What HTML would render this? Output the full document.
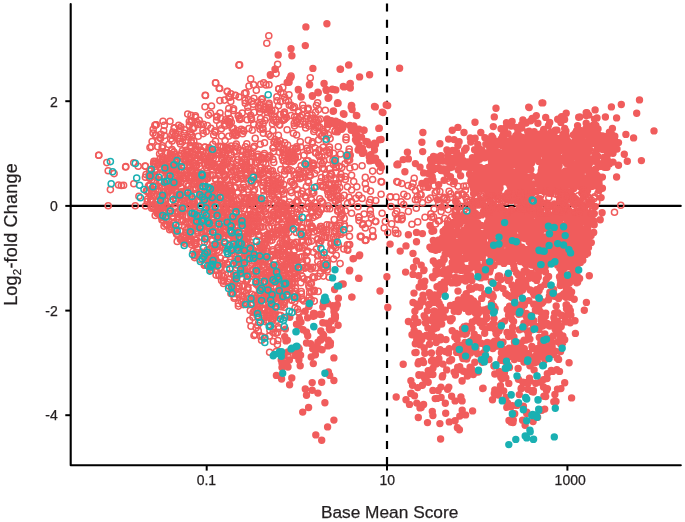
<!DOCTYPE html>
<html><head><meta charset="utf-8"><style>
html,body{margin:0;padding:0;background:#fff;width:685px;height:522px;overflow:hidden}
svg{display:block;will-change:transform}
text{font-family:"Liberation Sans",sans-serif;fill:#231f20;stroke:#231f20;stroke-width:0.25px}
</style></head><body>
<svg width="685" height="522" viewBox="0 0 685 522">
<!-- zero line -->
<line x1="70.7" y1="205.9" x2="680.7" y2="205.9" stroke="#000" stroke-width="2.2" stroke-linecap="round"/>
<!-- dashed vline -->
<line x1="387" y1="3.5" x2="387" y2="465" stroke="#000" stroke-width="2.2" stroke-dasharray="8 8.2"/>

<g fill="none" stroke="#f05c5c" stroke-width="1.5"><circle cx="148.5" cy="185.7" r="3.05"/><circle cx="269.1" cy="219.3" r="3.05"/><circle cx="339.8" cy="178.7" r="3.05"/><circle cx="191.8" cy="135.3" r="3.05"/><circle cx="178.2" cy="211.7" r="3.05"/><circle cx="277.7" cy="247.6" r="3.05"/><circle cx="311.8" cy="226" r="3.05"/><circle cx="281.1" cy="305.1" r="3.05"/><circle cx="317.7" cy="206.6" r="3.05"/><circle cx="173.4" cy="223.6" r="3.05"/><circle cx="296.2" cy="202.2" r="3.05"/><circle cx="302.6" cy="264.9" r="3.05"/><circle cx="284" cy="154.7" r="3.05"/><circle cx="313.4" cy="252.3" r="3.05"/><circle cx="164.7" cy="212.1" r="3.05"/><circle cx="298.1" cy="312" r="3.05"/><circle cx="165.9" cy="204.8" r="3.05"/><circle cx="176.2" cy="172.3" r="3.05"/><circle cx="296.8" cy="225.4" r="3.05"/><circle cx="256.2" cy="311.9" r="3.05"/><circle cx="159.9" cy="137.6" r="3.05"/><circle cx="218.9" cy="235.3" r="3.05"/><circle cx="170.7" cy="186.2" r="3.05"/><circle cx="284.1" cy="199.1" r="3.05"/><circle cx="208" cy="196.4" r="3.05"/><circle cx="327" cy="208.6" r="3.05"/><circle cx="338.9" cy="225.3" r="3.05"/><circle cx="278.8" cy="89.1" r="3.05"/><circle cx="344.2" cy="195.4" r="3.05"/><circle cx="219.9" cy="100.6" r="3.05"/><circle cx="320.9" cy="240.8" r="3.05"/><circle cx="270.4" cy="274.5" r="3.05"/><circle cx="245.1" cy="273.5" r="3.05"/><circle cx="145.4" cy="177.3" r="3.05"/><circle cx="305.1" cy="268.1" r="3.05"/><circle cx="296.6" cy="135" r="3.05"/><circle cx="219.2" cy="173.1" r="3.05"/><circle cx="284.8" cy="142.9" r="3.05"/><circle cx="251.1" cy="117.7" r="3.05"/><circle cx="291.8" cy="170.7" r="3.05"/><circle cx="222.1" cy="201.5" r="3.05"/><circle cx="299.6" cy="178.8" r="3.05"/><circle cx="248.2" cy="111.2" r="3.05"/><circle cx="264.7" cy="236.1" r="3.05"/><circle cx="206.4" cy="213.5" r="3.05"/><circle cx="230" cy="279.1" r="3.05"/><circle cx="288.5" cy="295.1" r="3.05"/><circle cx="249" cy="86.1" r="3.05"/><circle cx="268.5" cy="238.3" r="3.05"/><circle cx="284.4" cy="307.3" r="3.05"/><circle cx="285.4" cy="237.6" r="3.05"/><circle cx="176" cy="195.8" r="3.05"/><circle cx="364.1" cy="214" r="3.05"/><circle cx="274.7" cy="259.5" r="3.05"/><circle cx="217.9" cy="152.7" r="3.05"/><circle cx="171.9" cy="134.9" r="3.05"/><circle cx="278.2" cy="195.1" r="3.05"/><circle cx="277.9" cy="340.5" r="3.05"/><circle cx="266.4" cy="272.7" r="3.05"/><circle cx="300.1" cy="247" r="3.05"/><circle cx="220.3" cy="208.5" r="3.05"/><circle cx="318.2" cy="291.4" r="3.05"/><circle cx="163.2" cy="191.7" r="3.05"/><circle cx="231" cy="201.3" r="3.05"/><circle cx="156.9" cy="172" r="3.05"/><circle cx="269" cy="84.7" r="3.05"/><circle cx="268.7" cy="104.8" r="3.05"/><circle cx="316.5" cy="249.1" r="3.05"/><circle cx="198.2" cy="154.2" r="3.05"/><circle cx="235" cy="217.7" r="3.05"/><circle cx="348.5" cy="159.5" r="3.05"/><circle cx="327.3" cy="263.4" r="3.05"/><circle cx="251.5" cy="154.1" r="3.05"/><circle cx="349.1" cy="151.8" r="3.05"/><circle cx="311.1" cy="299.7" r="3.05"/><circle cx="161.5" cy="152.1" r="3.05"/><circle cx="270.9" cy="171.3" r="3.05"/><circle cx="287.1" cy="129.8" r="3.05"/><circle cx="325.6" cy="182.7" r="3.05"/><circle cx="247.5" cy="259.5" r="3.05"/><circle cx="266" cy="84.9" r="3.05"/><circle cx="258.9" cy="125.7" r="3.05"/><circle cx="214.3" cy="165.9" r="3.05"/><circle cx="320.4" cy="226.6" r="3.05"/><circle cx="287.5" cy="170.6" r="3.05"/><circle cx="313.6" cy="163.7" r="3.05"/><circle cx="252.9" cy="317.3" r="3.05"/><circle cx="273.1" cy="332.4" r="3.05"/><circle cx="250.3" cy="197" r="3.05"/><circle cx="217.4" cy="198" r="3.05"/><circle cx="264.4" cy="153.5" r="3.05"/><circle cx="302.7" cy="105.1" r="3.05"/><circle cx="334.2" cy="219.6" r="3.05"/><circle cx="277.5" cy="332.4" r="3.05"/><circle cx="209.6" cy="233.7" r="3.05"/><circle cx="273.7" cy="120.4" r="3.05"/><circle cx="324.6" cy="133.3" r="3.05"/><circle cx="272.9" cy="130.4" r="3.05"/><circle cx="201.6" cy="154.8" r="3.05"/><circle cx="246.2" cy="267.5" r="3.05"/><circle cx="284.2" cy="250.5" r="3.05"/><circle cx="257.6" cy="102.4" r="3.05"/><circle cx="307.8" cy="192.4" r="3.05"/><circle cx="346" cy="139.8" r="3.05"/><circle cx="337.1" cy="196" r="3.05"/><circle cx="145.1" cy="166.1" r="3.05"/><circle cx="340.1" cy="223" r="3.05"/><circle cx="229" cy="122" r="3.05"/><circle cx="295.1" cy="219.1" r="3.05"/><circle cx="381.7" cy="182" r="3.05"/><circle cx="227.4" cy="120.9" r="3.05"/><circle cx="278.8" cy="196.9" r="3.05"/><circle cx="334.1" cy="231.8" r="3.05"/><circle cx="165.6" cy="199.8" r="3.05"/><circle cx="289.3" cy="283.8" r="3.05"/><circle cx="215.5" cy="141.3" r="3.05"/><circle cx="248.9" cy="233.6" r="3.05"/><circle cx="233.8" cy="243.9" r="3.05"/><circle cx="326.2" cy="141.2" r="3.05"/><circle cx="246.8" cy="143.7" r="3.05"/><circle cx="228.7" cy="136.2" r="3.05"/><circle cx="246.5" cy="169.1" r="3.05"/><circle cx="206.5" cy="152.2" r="3.05"/><circle cx="246" cy="92.9" r="3.05"/><circle cx="232.1" cy="128.4" r="3.05"/><circle cx="280" cy="285.3" r="3.05"/><circle cx="217.7" cy="187.6" r="3.05"/><circle cx="335.3" cy="130.5" r="3.05"/><circle cx="185.6" cy="158.8" r="3.05"/><circle cx="192.7" cy="202.3" r="3.05"/><circle cx="282.1" cy="208.9" r="3.05"/><circle cx="261.5" cy="99.2" r="3.05"/><circle cx="307.1" cy="236.5" r="3.05"/><circle cx="249.9" cy="217.7" r="3.05"/><circle cx="241.8" cy="157" r="3.05"/><circle cx="207.5" cy="206" r="3.05"/><circle cx="212.4" cy="175.1" r="3.05"/><circle cx="329.3" cy="152.2" r="3.05"/><circle cx="162.5" cy="156.5" r="3.05"/><circle cx="330.9" cy="244.1" r="3.05"/><circle cx="159.9" cy="180.4" r="3.05"/><circle cx="322.9" cy="267.2" r="3.05"/><circle cx="209.5" cy="207.7" r="3.05"/><circle cx="253.3" cy="214.8" r="3.05"/><circle cx="168.8" cy="144.4" r="3.05"/><circle cx="245.1" cy="100.4" r="3.05"/><circle cx="334.6" cy="242.4" r="3.05"/><circle cx="349.9" cy="168" r="3.05"/><circle cx="304" cy="155.3" r="3.05"/><circle cx="171.7" cy="168.4" r="3.05"/><circle cx="229.8" cy="97.3" r="3.05"/><circle cx="268.3" cy="168.8" r="3.05"/><circle cx="284" cy="281.1" r="3.05"/><circle cx="161.3" cy="209.5" r="3.05"/><circle cx="254" cy="335.5" r="3.05"/><circle cx="159.6" cy="153.8" r="3.05"/><circle cx="211.1" cy="196" r="3.05"/><circle cx="279.2" cy="315.3" r="3.05"/><circle cx="275.1" cy="139.5" r="3.05"/><circle cx="199.7" cy="166.6" r="3.05"/><circle cx="331.3" cy="225.9" r="3.05"/><circle cx="343.8" cy="249" r="3.05"/><circle cx="249.7" cy="320.3" r="3.05"/><circle cx="319.5" cy="133.5" r="3.05"/><circle cx="197.6" cy="232.4" r="3.05"/><circle cx="313.8" cy="166" r="3.05"/><circle cx="250.6" cy="168.2" r="3.05"/><circle cx="324" cy="168.9" r="3.05"/><circle cx="202.5" cy="253.6" r="3.05"/><circle cx="271.9" cy="190.8" r="3.05"/><circle cx="253.3" cy="191.3" r="3.05"/><circle cx="308.3" cy="166" r="3.05"/><circle cx="231.4" cy="171.7" r="3.05"/><circle cx="280.9" cy="179.6" r="3.05"/><circle cx="239" cy="198.8" r="3.05"/><circle cx="323.4" cy="268.8" r="3.05"/><circle cx="284.8" cy="301.7" r="3.05"/><circle cx="219.5" cy="164.3" r="3.05"/><circle cx="254.7" cy="311.1" r="3.05"/><circle cx="310.4" cy="167.8" r="3.05"/><circle cx="253.1" cy="227.8" r="3.05"/><circle cx="164.3" cy="206.6" r="3.05"/><circle cx="247.8" cy="189.5" r="3.05"/><circle cx="186.2" cy="237.1" r="3.05"/><circle cx="157.7" cy="210.9" r="3.05"/><circle cx="226" cy="229.2" r="3.05"/><circle cx="335.3" cy="163.3" r="3.05"/><circle cx="157.8" cy="146.7" r="3.05"/><circle cx="249.6" cy="297.7" r="3.05"/><circle cx="268.8" cy="270.8" r="3.05"/><circle cx="294.5" cy="158.9" r="3.05"/><circle cx="262.2" cy="128.1" r="3.05"/><circle cx="220.7" cy="201.3" r="3.05"/><circle cx="314.8" cy="129.5" r="3.05"/><circle cx="320" cy="229.7" r="3.05"/><circle cx="259.7" cy="111.9" r="3.05"/><circle cx="327.3" cy="269.9" r="3.05"/><circle cx="263.9" cy="221.8" r="3.05"/><circle cx="292" cy="182.4" r="3.05"/><circle cx="236.7" cy="265" r="3.05"/><circle cx="209.6" cy="265.8" r="3.05"/><circle cx="306.7" cy="260.5" r="3.05"/><circle cx="200.5" cy="173.3" r="3.05"/><circle cx="185.9" cy="190.2" r="3.05"/><circle cx="253.7" cy="298" r="3.05"/><circle cx="309.3" cy="222.7" r="3.05"/><circle cx="294.9" cy="273.8" r="3.05"/><circle cx="278.6" cy="146.7" r="3.05"/><circle cx="278.4" cy="135.2" r="3.05"/><circle cx="242.1" cy="243.7" r="3.05"/><circle cx="235" cy="213.4" r="3.05"/><circle cx="191.4" cy="142.8" r="3.05"/><circle cx="264.5" cy="142.8" r="3.05"/><circle cx="216.6" cy="120.2" r="3.05"/><circle cx="371.4" cy="217.9" r="3.05"/><circle cx="181.3" cy="162.5" r="3.05"/><circle cx="278.7" cy="328.7" r="3.05"/><circle cx="261.5" cy="199.9" r="3.05"/><circle cx="255.1" cy="334.5" r="3.05"/><circle cx="257.9" cy="267.6" r="3.05"/><circle cx="230.9" cy="93.9" r="3.05"/><circle cx="283" cy="273.6" r="3.05"/><circle cx="163" cy="207" r="3.05"/><circle cx="326.6" cy="150.6" r="3.05"/><circle cx="308.7" cy="206.9" r="3.05"/><circle cx="289" cy="94.7" r="3.05"/><circle cx="208.8" cy="150.7" r="3.05"/><circle cx="333.6" cy="164.8" r="3.05"/><circle cx="318.5" cy="255.4" r="3.05"/><circle cx="333.5" cy="153.2" r="3.05"/><circle cx="283.2" cy="160.7" r="3.05"/><circle cx="198.7" cy="224.1" r="3.05"/><circle cx="263" cy="172.4" r="3.05"/><circle cx="162.2" cy="147.7" r="3.05"/><circle cx="180.5" cy="231.3" r="3.05"/><circle cx="238.2" cy="225.9" r="3.05"/><circle cx="229.2" cy="262.3" r="3.05"/><circle cx="309.3" cy="287.8" r="3.05"/><circle cx="222" cy="170.1" r="3.05"/><circle cx="212.8" cy="144.2" r="3.05"/><circle cx="243.2" cy="228.8" r="3.05"/><circle cx="294.9" cy="291.3" r="3.05"/><circle cx="170.7" cy="161.7" r="3.05"/><circle cx="209.7" cy="188" r="3.05"/><circle cx="208.6" cy="258.4" r="3.05"/><circle cx="321" cy="209.1" r="3.05"/><circle cx="313.7" cy="122" r="3.05"/><circle cx="153.9" cy="161.4" r="3.05"/><circle cx="157.6" cy="195.1" r="3.05"/><circle cx="273.2" cy="204.7" r="3.05"/><circle cx="257.7" cy="325.4" r="3.05"/><circle cx="163.7" cy="130.7" r="3.05"/><circle cx="217.5" cy="212.2" r="3.05"/><circle cx="301.6" cy="236.1" r="3.05"/><circle cx="312.4" cy="193.4" r="3.05"/><circle cx="224.4" cy="124.2" r="3.05"/><circle cx="169.1" cy="213.3" r="3.05"/><circle cx="307.3" cy="280.3" r="3.05"/><circle cx="253.6" cy="260.3" r="3.05"/><circle cx="269.2" cy="173.7" r="3.05"/><circle cx="262.8" cy="185.9" r="3.05"/><circle cx="302.1" cy="276.4" r="3.05"/><circle cx="175" cy="203.8" r="3.05"/><circle cx="160.6" cy="138.5" r="3.05"/><circle cx="301.4" cy="193.9" r="3.05"/><circle cx="243.7" cy="258.8" r="3.05"/><circle cx="191.2" cy="218.2" r="3.05"/><circle cx="150.7" cy="199.2" r="3.05"/><circle cx="235.1" cy="255.6" r="3.05"/><circle cx="209.7" cy="157.1" r="3.05"/><circle cx="286.5" cy="117.5" r="3.05"/><circle cx="347.7" cy="160.7" r="3.05"/><circle cx="328.4" cy="134.9" r="3.05"/><circle cx="235.7" cy="234.7" r="3.05"/><circle cx="259.9" cy="105.3" r="3.05"/><circle cx="268.4" cy="134.3" r="3.05"/><circle cx="276.9" cy="96.9" r="3.05"/><circle cx="190.4" cy="131.7" r="3.05"/><circle cx="221.9" cy="171.6" r="3.05"/><circle cx="286.4" cy="285.5" r="3.05"/><circle cx="310.9" cy="226.2" r="3.05"/><circle cx="242.4" cy="278.8" r="3.05"/><circle cx="179.6" cy="138.5" r="3.05"/><circle cx="314.3" cy="301.1" r="3.05"/><circle cx="312.9" cy="217.5" r="3.05"/><circle cx="228.8" cy="97.2" r="3.05"/><circle cx="338.2" cy="183.6" r="3.05"/><circle cx="217" cy="262.2" r="3.05"/><circle cx="217" cy="246.4" r="3.05"/><circle cx="308" cy="169.7" r="3.05"/><circle cx="315.6" cy="152.9" r="3.05"/><circle cx="297.9" cy="277.5" r="3.05"/><circle cx="273.3" cy="328.8" r="3.05"/><circle cx="302.4" cy="177.2" r="3.05"/><circle cx="180.9" cy="214.1" r="3.05"/><circle cx="246" cy="175.1" r="3.05"/><circle cx="223.3" cy="247.8" r="3.05"/><circle cx="197.3" cy="222.9" r="3.05"/><circle cx="276.3" cy="351.6" r="3.05"/><circle cx="206.9" cy="197.1" r="3.05"/><circle cx="172.3" cy="195.6" r="3.05"/><circle cx="316" cy="152.8" r="3.05"/><circle cx="281.7" cy="295.6" r="3.05"/><circle cx="297.5" cy="297.1" r="3.05"/><circle cx="256.9" cy="259.6" r="3.05"/><circle cx="184.8" cy="238.8" r="3.05"/><circle cx="204.3" cy="183.5" r="3.05"/><circle cx="286.1" cy="263.9" r="3.05"/><circle cx="193.8" cy="141.2" r="3.05"/><circle cx="345.1" cy="176.5" r="3.05"/><circle cx="189.9" cy="158.6" r="3.05"/><circle cx="338.3" cy="146.7" r="3.05"/><circle cx="235.2" cy="133.2" r="3.05"/><circle cx="258.4" cy="179.7" r="3.05"/><circle cx="209.8" cy="166.7" r="3.05"/><circle cx="270.3" cy="221" r="3.05"/><circle cx="273" cy="148.1" r="3.05"/><circle cx="349.6" cy="160.1" r="3.05"/><circle cx="191.3" cy="156.8" r="3.05"/><circle cx="276.1" cy="185" r="3.05"/><circle cx="309.6" cy="303.1" r="3.05"/><circle cx="283.2" cy="189.4" r="3.05"/><circle cx="197.9" cy="200.4" r="3.05"/><circle cx="185.2" cy="162" r="3.05"/><circle cx="359" cy="220.6" r="3.05"/><circle cx="214.9" cy="130.9" r="3.05"/><circle cx="203.3" cy="182.5" r="3.05"/><circle cx="261.6" cy="340.2" r="3.05"/><circle cx="197.5" cy="231" r="3.05"/><circle cx="238.4" cy="306.1" r="3.05"/><circle cx="291" cy="220.6" r="3.05"/><circle cx="176.8" cy="168.4" r="3.05"/><circle cx="311.5" cy="205.7" r="3.05"/><circle cx="184.1" cy="166.1" r="3.05"/><circle cx="263.7" cy="82.8" r="3.05"/><circle cx="286.6" cy="240.8" r="3.05"/><circle cx="238.7" cy="115.7" r="3.05"/><circle cx="252.9" cy="249.9" r="3.05"/><circle cx="277" cy="280.4" r="3.05"/><circle cx="223.8" cy="226.2" r="3.05"/><circle cx="323.4" cy="276.1" r="3.05"/><circle cx="294.2" cy="155" r="3.05"/><circle cx="280.8" cy="315.6" r="3.05"/><circle cx="262.2" cy="336.7" r="3.05"/><circle cx="300.9" cy="282.7" r="3.05"/><circle cx="266.2" cy="256.1" r="3.05"/><circle cx="262.5" cy="98.8" r="3.05"/><circle cx="309.1" cy="217.6" r="3.05"/><circle cx="313" cy="276.8" r="3.05"/><circle cx="237.5" cy="289.1" r="3.05"/><circle cx="267.4" cy="214.4" r="3.05"/><circle cx="219.7" cy="124.9" r="3.05"/><circle cx="228.3" cy="189.9" r="3.05"/><circle cx="269.5" cy="107.3" r="3.05"/><circle cx="276.9" cy="276.4" r="3.05"/><circle cx="208.1" cy="256.4" r="3.05"/><circle cx="244.4" cy="158.7" r="3.05"/><circle cx="274.9" cy="311.8" r="3.05"/><circle cx="284.5" cy="112.4" r="3.05"/><circle cx="205.9" cy="239.2" r="3.05"/><circle cx="224.6" cy="232.9" r="3.05"/><circle cx="181.4" cy="239.4" r="3.05"/><circle cx="186.4" cy="170.3" r="3.05"/><circle cx="272.4" cy="254.6" r="3.05"/><circle cx="225.6" cy="199.1" r="3.05"/><circle cx="234.9" cy="276.1" r="3.05"/><circle cx="300.2" cy="123.9" r="3.05"/><circle cx="302.1" cy="115" r="3.05"/><circle cx="239" cy="97" r="3.05"/><circle cx="201.8" cy="227.9" r="3.05"/><circle cx="314.4" cy="290.2" r="3.05"/><circle cx="172.9" cy="132.1" r="3.05"/><circle cx="174.5" cy="213.1" r="3.05"/><circle cx="290.8" cy="152.1" r="3.05"/><circle cx="332.8" cy="188.5" r="3.05"/><circle cx="332.9" cy="160" r="3.05"/><circle cx="246" cy="253.7" r="3.05"/><circle cx="211.5" cy="106" r="3.05"/><circle cx="260.3" cy="335.9" r="3.05"/><circle cx="358.9" cy="216.9" r="3.05"/><circle cx="243.3" cy="193" r="3.05"/><circle cx="179.5" cy="141.5" r="3.05"/><circle cx="281" cy="290.1" r="3.05"/><circle cx="285.7" cy="100.6" r="3.05"/><circle cx="255.2" cy="138.4" r="3.05"/><circle cx="209.8" cy="148.6" r="3.05"/><circle cx="151.2" cy="196.2" r="3.05"/><circle cx="270.6" cy="136.4" r="3.05"/><circle cx="239" cy="285.9" r="3.05"/><circle cx="330.5" cy="193.3" r="3.05"/><circle cx="265.9" cy="213.8" r="3.05"/><circle cx="228.7" cy="238.9" r="3.05"/><circle cx="282.4" cy="269.6" r="3.05"/><circle cx="227.6" cy="160.1" r="3.05"/><circle cx="213.4" cy="219.8" r="3.05"/><circle cx="233.1" cy="285.4" r="3.05"/><circle cx="188.4" cy="173.4" r="3.05"/><circle cx="321.1" cy="254.8" r="3.05"/><circle cx="184.3" cy="133.4" r="3.05"/><circle cx="319.7" cy="243.9" r="3.05"/><circle cx="349.2" cy="149.1" r="3.05"/><circle cx="286.7" cy="239.6" r="3.05"/><circle cx="262.7" cy="247.4" r="3.05"/><circle cx="256.1" cy="327.7" r="3.05"/><circle cx="330.1" cy="138.6" r="3.05"/><circle cx="299.2" cy="172.9" r="3.05"/><circle cx="213.7" cy="134.9" r="3.05"/><circle cx="229.4" cy="124.9" r="3.05"/><circle cx="258.3" cy="330.9" r="3.05"/><circle cx="319.8" cy="229.3" r="3.05"/><circle cx="191.3" cy="141.1" r="3.05"/><circle cx="272.1" cy="233.8" r="3.05"/><circle cx="248.8" cy="220.8" r="3.05"/><circle cx="248.9" cy="128.5" r="3.05"/><circle cx="248" cy="238.8" r="3.05"/><circle cx="240.1" cy="244.2" r="3.05"/><circle cx="246.5" cy="242.3" r="3.05"/><circle cx="229.3" cy="191.3" r="3.05"/><circle cx="294.8" cy="301.4" r="3.05"/><circle cx="300.3" cy="141.8" r="3.05"/><circle cx="298.9" cy="248.2" r="3.05"/><circle cx="274.8" cy="186.1" r="3.05"/><circle cx="265.6" cy="278.1" r="3.05"/><circle cx="180.2" cy="215" r="3.05"/><circle cx="172.4" cy="216.2" r="3.05"/><circle cx="296.8" cy="148.3" r="3.05"/><circle cx="179.2" cy="169.3" r="3.05"/><circle cx="313.4" cy="124.4" r="3.05"/><circle cx="349.5" cy="228.5" r="3.05"/><circle cx="269.4" cy="335.9" r="3.05"/><circle cx="204.9" cy="147.1" r="3.05"/><circle cx="338.5" cy="196.2" r="3.05"/><circle cx="218.3" cy="226.4" r="3.05"/><circle cx="333.6" cy="259" r="3.05"/><circle cx="303.1" cy="240.9" r="3.05"/><circle cx="273.3" cy="341.5" r="3.05"/><circle cx="345" cy="163.7" r="3.05"/><circle cx="302.2" cy="247.9" r="3.05"/><circle cx="177.7" cy="166.2" r="3.05"/><circle cx="263.8" cy="195.5" r="3.05"/><circle cx="313.8" cy="192.7" r="3.05"/><circle cx="210.8" cy="128.2" r="3.05"/><circle cx="284.7" cy="97.3" r="3.05"/><circle cx="293.5" cy="258.1" r="3.05"/><circle cx="216.8" cy="116.2" r="3.05"/><circle cx="208" cy="193.5" r="3.05"/><circle cx="312.3" cy="143.2" r="3.05"/><circle cx="191.5" cy="240.1" r="3.05"/><circle cx="340.5" cy="154" r="3.05"/><circle cx="304" cy="278.8" r="3.05"/><circle cx="286.5" cy="149.7" r="3.05"/><circle cx="297.5" cy="151.5" r="3.05"/><circle cx="297.2" cy="200.6" r="3.05"/><circle cx="308.4" cy="279.8" r="3.05"/><circle cx="222" cy="222.2" r="3.05"/><circle cx="329.5" cy="147.1" r="3.05"/><circle cx="221.4" cy="128.7" r="3.05"/><circle cx="275.2" cy="216.1" r="3.05"/><circle cx="280.1" cy="279.4" r="3.05"/><circle cx="223.5" cy="212.3" r="3.05"/><circle cx="225" cy="175.1" r="3.05"/><circle cx="173.9" cy="168.7" r="3.05"/><circle cx="329.6" cy="176.2" r="3.05"/><circle cx="286.2" cy="230.2" r="3.05"/><circle cx="172.1" cy="140.9" r="3.05"/><circle cx="258.3" cy="236.4" r="3.05"/><circle cx="186.4" cy="229.6" r="3.05"/><circle cx="340.1" cy="263.6" r="3.05"/><circle cx="323.1" cy="147.4" r="3.05"/><circle cx="243.6" cy="150.9" r="3.05"/><circle cx="293.4" cy="133.3" r="3.05"/><circle cx="276.8" cy="320.3" r="3.05"/><circle cx="326.9" cy="224.7" r="3.05"/><circle cx="291" cy="154.8" r="3.05"/><circle cx="253.4" cy="147.7" r="3.05"/><circle cx="259.4" cy="208.7" r="3.05"/><circle cx="284" cy="149.9" r="3.05"/><circle cx="344.3" cy="224.3" r="3.05"/><circle cx="148.9" cy="193.1" r="3.05"/><circle cx="324" cy="254.9" r="3.05"/><circle cx="342.2" cy="213.9" r="3.05"/><circle cx="335.5" cy="161.9" r="3.05"/><circle cx="236.3" cy="144" r="3.05"/><circle cx="257.4" cy="257.9" r="3.05"/><circle cx="252.6" cy="249.9" r="3.05"/><circle cx="229.1" cy="148" r="3.05"/><circle cx="266" cy="321.8" r="3.05"/><circle cx="349.1" cy="197.3" r="3.05"/><circle cx="243.3" cy="304.6" r="3.05"/><circle cx="294.4" cy="106.9" r="3.05"/><circle cx="271.3" cy="113.4" r="3.05"/><circle cx="160.3" cy="181.7" r="3.05"/><circle cx="267.3" cy="234.6" r="3.05"/><circle cx="281" cy="286.7" r="3.05"/><circle cx="265.6" cy="106.8" r="3.05"/><circle cx="146" cy="174.5" r="3.05"/><circle cx="257.8" cy="274.3" r="3.05"/><circle cx="297" cy="297.9" r="3.05"/><circle cx="155.1" cy="169.2" r="3.05"/><circle cx="209.4" cy="189.5" r="3.05"/><circle cx="347.5" cy="203.6" r="3.05"/><circle cx="272.1" cy="282.9" r="3.05"/><circle cx="176" cy="191.3" r="3.05"/><circle cx="283.1" cy="233.3" r="3.05"/><circle cx="226" cy="191.7" r="3.05"/><circle cx="276.2" cy="122.2" r="3.05"/><circle cx="232.7" cy="134.6" r="3.05"/><circle cx="229.3" cy="286.3" r="3.05"/><circle cx="267.9" cy="310.7" r="3.05"/><circle cx="215.2" cy="235.9" r="3.05"/><circle cx="292" cy="300.1" r="3.05"/><circle cx="222.8" cy="195.7" r="3.05"/><circle cx="276.3" cy="199.6" r="3.05"/><circle cx="238.1" cy="192.2" r="3.05"/><circle cx="294.4" cy="218.9" r="3.05"/><circle cx="282.4" cy="270.2" r="3.05"/><circle cx="250.9" cy="153.1" r="3.05"/><circle cx="296.2" cy="120.2" r="3.05"/><circle cx="267.2" cy="276.8" r="3.05"/><circle cx="286.6" cy="238.4" r="3.05"/><circle cx="269.5" cy="309.8" r="3.05"/><circle cx="207" cy="171.2" r="3.05"/><circle cx="154.4" cy="186.3" r="3.05"/><circle cx="322.8" cy="202.7" r="3.05"/><circle cx="248" cy="232.2" r="3.05"/><circle cx="247.8" cy="289.9" r="3.05"/><circle cx="244.2" cy="187.6" r="3.05"/><circle cx="294.5" cy="125.8" r="3.05"/><circle cx="316.7" cy="186.5" r="3.05"/><circle cx="220.1" cy="184.4" r="3.05"/><circle cx="205" cy="147.2" r="3.05"/><circle cx="317.7" cy="239.5" r="3.05"/><circle cx="236.5" cy="213" r="3.05"/><circle cx="341.4" cy="215.5" r="3.05"/><circle cx="254.2" cy="207.1" r="3.05"/><circle cx="223.5" cy="191.9" r="3.05"/><circle cx="275.8" cy="333.3" r="3.05"/><circle cx="336.7" cy="226.1" r="3.05"/><circle cx="307.8" cy="251.1" r="3.05"/><circle cx="269.7" cy="233.6" r="3.05"/><circle cx="219" cy="275.8" r="3.05"/><circle cx="206.9" cy="202.8" r="3.05"/><circle cx="224.5" cy="100.1" r="3.05"/><circle cx="195.8" cy="240.4" r="3.05"/><circle cx="188.4" cy="239.9" r="3.05"/><circle cx="271.7" cy="234.7" r="3.05"/><circle cx="248.6" cy="99.8" r="3.05"/><circle cx="213.5" cy="175.4" r="3.05"/><circle cx="212" cy="246.4" r="3.05"/><circle cx="259.1" cy="209.2" r="3.05"/><circle cx="308" cy="180.7" r="3.05"/><circle cx="280.7" cy="101.6" r="3.05"/><circle cx="211.4" cy="255.7" r="3.05"/><circle cx="160.3" cy="213" r="3.05"/><circle cx="180.4" cy="144" r="3.05"/><circle cx="333.3" cy="237.1" r="3.05"/><circle cx="269.1" cy="321.4" r="3.05"/><circle cx="278.1" cy="327" r="3.05"/><circle cx="162.4" cy="145.9" r="3.05"/><circle cx="318.2" cy="214.7" r="3.05"/><circle cx="254.4" cy="146.3" r="3.05"/><circle cx="372.6" cy="230.6" r="3.05"/><circle cx="175.2" cy="154.5" r="3.05"/><circle cx="292.5" cy="158.2" r="3.05"/><circle cx="151.6" cy="201" r="3.05"/><circle cx="326.6" cy="229.9" r="3.05"/><circle cx="246.4" cy="198" r="3.05"/><circle cx="217.2" cy="184.4" r="3.05"/><circle cx="370.3" cy="210.3" r="3.05"/><circle cx="279.7" cy="294.6" r="3.05"/><circle cx="335.8" cy="231" r="3.05"/><circle cx="266.7" cy="118" r="3.05"/><circle cx="198.4" cy="146.2" r="3.05"/><circle cx="225.1" cy="140.6" r="3.05"/><circle cx="305.8" cy="197.6" r="3.05"/><circle cx="323.8" cy="160.9" r="3.05"/><circle cx="369.4" cy="202.5" r="3.05"/><circle cx="254" cy="98.3" r="3.05"/><circle cx="341.8" cy="167.4" r="3.05"/><circle cx="220.5" cy="168.8" r="3.05"/><circle cx="269.9" cy="330.5" r="3.05"/><circle cx="275.8" cy="234.1" r="3.05"/><circle cx="320.4" cy="264.2" r="3.05"/><circle cx="276.4" cy="143.7" r="3.05"/><circle cx="195" cy="175.1" r="3.05"/><circle cx="236.6" cy="134.7" r="3.05"/><circle cx="297" cy="298.2" r="3.05"/><circle cx="239.3" cy="220.6" r="3.05"/><circle cx="272.3" cy="319" r="3.05"/><circle cx="250.7" cy="115.3" r="3.05"/><circle cx="235.8" cy="135.8" r="3.05"/><circle cx="236.6" cy="177.6" r="3.05"/><circle cx="146.4" cy="190.7" r="3.05"/><circle cx="316.7" cy="230.8" r="3.05"/><circle cx="269.6" cy="352.3" r="3.05"/><circle cx="174.6" cy="128.1" r="3.05"/><circle cx="299.2" cy="312.8" r="3.05"/><circle cx="264.9" cy="337.5" r="3.05"/><circle cx="293" cy="148.6" r="3.05"/><circle cx="296.1" cy="242.2" r="3.05"/><circle cx="314" cy="207.4" r="3.05"/><circle cx="228.6" cy="226" r="3.05"/><circle cx="175.7" cy="224.9" r="3.05"/><circle cx="298.8" cy="170.1" r="3.05"/><circle cx="313.2" cy="165.3" r="3.05"/><circle cx="280.3" cy="293.2" r="3.05"/><circle cx="273.8" cy="212.5" r="3.05"/><circle cx="335" cy="131.5" r="3.05"/><circle cx="186.3" cy="184.4" r="3.05"/><circle cx="288.2" cy="252.4" r="3.05"/><circle cx="273.9" cy="116.7" r="3.05"/><circle cx="268" cy="297.6" r="3.05"/><circle cx="251" cy="326.2" r="3.05"/><circle cx="233.6" cy="200.3" r="3.05"/><circle cx="195.1" cy="149.9" r="3.05"/><circle cx="260.3" cy="144.2" r="3.05"/><circle cx="188.8" cy="185.7" r="3.05"/><circle cx="301.1" cy="165.9" r="3.05"/><circle cx="260.7" cy="84.2" r="3.05"/><circle cx="309.6" cy="149.9" r="3.05"/><circle cx="340" cy="232.5" r="3.05"/><circle cx="312.6" cy="267.3" r="3.05"/><circle cx="263.3" cy="133.3" r="3.05"/><circle cx="307" cy="148.2" r="3.05"/><circle cx="305.2" cy="196" r="3.05"/><circle cx="300.3" cy="209.9" r="3.05"/><circle cx="183.2" cy="198.4" r="3.05"/><circle cx="258.7" cy="322.5" r="3.05"/><circle cx="309.1" cy="300.6" r="3.05"/><circle cx="283.2" cy="152.7" r="3.05"/><circle cx="230.8" cy="101.5" r="3.05"/><circle cx="339.7" cy="187.4" r="3.05"/><circle cx="239.2" cy="255.3" r="3.05"/><circle cx="273.8" cy="315" r="3.05"/><circle cx="283.7" cy="119.2" r="3.05"/><circle cx="308.8" cy="285.4" r="3.05"/><circle cx="281.2" cy="209.6" r="3.05"/><circle cx="197.8" cy="175.6" r="3.05"/><circle cx="280.9" cy="92.5" r="3.05"/><circle cx="256.6" cy="246.7" r="3.05"/><circle cx="238.3" cy="246.1" r="3.05"/><circle cx="329.2" cy="277.3" r="3.05"/><circle cx="174.7" cy="187.2" r="3.05"/><circle cx="327.4" cy="266.5" r="3.05"/><circle cx="173.6" cy="170.1" r="3.05"/><circle cx="346.1" cy="137.2" r="3.05"/><circle cx="219.8" cy="245.5" r="3.05"/><circle cx="212.2" cy="267.5" r="3.05"/><circle cx="192.5" cy="128.4" r="3.05"/><circle cx="251.4" cy="282.1" r="3.05"/><circle cx="177.2" cy="194.7" r="3.05"/><circle cx="249.6" cy="210" r="3.05"/><circle cx="257.7" cy="274" r="3.05"/><circle cx="251.3" cy="252.1" r="3.05"/><circle cx="223.2" cy="208.7" r="3.05"/><circle cx="159.3" cy="196.5" r="3.05"/><circle cx="288.1" cy="268.9" r="3.05"/><circle cx="240.5" cy="150.4" r="3.05"/><circle cx="213.7" cy="152.3" r="3.05"/><circle cx="238.9" cy="205" r="3.05"/><circle cx="170.3" cy="153.9" r="3.05"/><circle cx="250.2" cy="161.9" r="3.05"/><circle cx="255" cy="268.1" r="3.05"/><circle cx="222.9" cy="166.1" r="3.05"/><circle cx="277.4" cy="233.8" r="3.05"/><circle cx="175.6" cy="189.6" r="3.05"/><circle cx="163.8" cy="170.6" r="3.05"/><circle cx="285.6" cy="247.1" r="3.05"/><circle cx="260.1" cy="261" r="3.05"/><circle cx="244.5" cy="231.1" r="3.05"/><circle cx="288.5" cy="220.1" r="3.05"/><circle cx="228" cy="273.5" r="3.05"/><circle cx="206.4" cy="252.4" r="3.05"/><circle cx="243.5" cy="299.9" r="3.05"/><circle cx="233.9" cy="275.5" r="3.05"/><circle cx="250.9" cy="214.2" r="3.05"/><circle cx="231.3" cy="199" r="3.05"/><circle cx="261.9" cy="157.3" r="3.05"/><circle cx="189.7" cy="167.3" r="3.05"/><circle cx="155.5" cy="161.5" r="3.05"/><circle cx="244.5" cy="239.9" r="3.05"/><circle cx="244.4" cy="168.4" r="3.05"/><circle cx="282.6" cy="290.2" r="3.05"/><circle cx="191.6" cy="228.9" r="3.05"/><circle cx="189.2" cy="205.2" r="3.05"/><circle cx="195.3" cy="242.6" r="3.05"/><circle cx="190" cy="232.7" r="3.05"/><circle cx="171.7" cy="182.1" r="3.05"/><circle cx="225" cy="176.3" r="3.05"/><circle cx="246.8" cy="175.2" r="3.05"/><circle cx="167.7" cy="167.1" r="3.05"/><circle cx="262.7" cy="308.1" r="3.05"/><circle cx="242.8" cy="295.9" r="3.05"/><circle cx="244.2" cy="251.1" r="3.05"/><circle cx="224.1" cy="222.7" r="3.05"/><circle cx="215.5" cy="179.6" r="3.05"/><circle cx="209.2" cy="234.3" r="3.05"/><circle cx="193.5" cy="206.7" r="3.05"/><circle cx="206.1" cy="175.3" r="3.05"/><circle cx="283.4" cy="233.3" r="3.05"/><circle cx="259.5" cy="281.7" r="3.05"/><circle cx="210.4" cy="231.6" r="3.05"/><circle cx="249.3" cy="254.2" r="3.05"/><circle cx="255.4" cy="162" r="3.05"/><circle cx="241.4" cy="301.5" r="3.05"/><circle cx="190.2" cy="228.3" r="3.05"/><circle cx="277.8" cy="183.5" r="3.05"/><circle cx="163.3" cy="220.1" r="3.05"/><circle cx="289.2" cy="245.3" r="3.05"/><circle cx="235.4" cy="261.5" r="3.05"/><circle cx="240.4" cy="187.7" r="3.05"/><circle cx="238.4" cy="206.8" r="3.05"/><circle cx="282.1" cy="240.3" r="3.05"/><circle cx="152.8" cy="206.4" r="3.05"/><circle cx="206.7" cy="178.8" r="3.05"/><circle cx="250.6" cy="169.6" r="3.05"/><circle cx="162" cy="220.1" r="3.05"/><circle cx="183.5" cy="178" r="3.05"/><circle cx="189.9" cy="197" r="3.05"/><circle cx="169.9" cy="184.3" r="3.05"/><circle cx="204.6" cy="242.1" r="3.05"/><circle cx="204.6" cy="163.6" r="3.05"/><circle cx="194" cy="220.9" r="3.05"/><circle cx="268.4" cy="276.2" r="3.05"/><circle cx="204.6" cy="265.2" r="3.05"/><circle cx="203" cy="201.8" r="3.05"/><circle cx="242.4" cy="286.5" r="3.05"/><circle cx="219.9" cy="229.5" r="3.05"/><circle cx="224.5" cy="217.9" r="3.05"/><circle cx="238.2" cy="222" r="3.05"/><circle cx="212" cy="162.8" r="3.05"/><circle cx="243.4" cy="184.9" r="3.05"/><circle cx="240.5" cy="243" r="3.05"/><circle cx="176.2" cy="156.2" r="3.05"/><circle cx="269.8" cy="241" r="3.05"/><circle cx="170.4" cy="224.9" r="3.05"/><circle cx="259.7" cy="218.6" r="3.05"/><circle cx="151.9" cy="190.9" r="3.05"/><circle cx="191.4" cy="244.4" r="3.05"/><circle cx="219.9" cy="189.7" r="3.05"/><circle cx="268.6" cy="293.6" r="3.05"/><circle cx="272.7" cy="255.8" r="3.05"/><circle cx="259.2" cy="235.5" r="3.05"/><circle cx="183.6" cy="159" r="3.05"/><circle cx="230.8" cy="207.4" r="3.05"/><circle cx="234.7" cy="297" r="3.05"/><circle cx="271" cy="255.9" r="3.05"/><circle cx="186.3" cy="232.5" r="3.05"/><circle cx="227.5" cy="161.9" r="3.05"/><circle cx="210.4" cy="267.2" r="3.05"/><circle cx="177.9" cy="216.7" r="3.05"/><circle cx="295.1" cy="266.2" r="3.05"/><circle cx="251.9" cy="261" r="3.05"/><circle cx="250.2" cy="219.9" r="3.05"/><circle cx="248.1" cy="178.5" r="3.05"/><circle cx="174.3" cy="164" r="3.05"/><circle cx="269.9" cy="199.1" r="3.05"/><circle cx="263.8" cy="316.2" r="3.05"/><circle cx="155.7" cy="189.2" r="3.05"/><circle cx="252.2" cy="182.9" r="3.05"/><circle cx="293.3" cy="293.8" r="3.05"/><circle cx="294.8" cy="272.6" r="3.05"/><circle cx="288.7" cy="210.3" r="3.05"/><circle cx="279.1" cy="220.1" r="3.05"/><circle cx="270.2" cy="281.4" r="3.05"/><circle cx="232.7" cy="288.2" r="3.05"/><circle cx="200.9" cy="150.1" r="3.05"/><circle cx="271.5" cy="189.6" r="3.05"/><circle cx="280.8" cy="182.7" r="3.05"/><circle cx="208.4" cy="213.8" r="3.05"/><circle cx="250.3" cy="310.5" r="3.05"/><circle cx="229" cy="245.2" r="3.05"/><circle cx="191.9" cy="199.1" r="3.05"/><circle cx="175.1" cy="169.9" r="3.05"/><circle cx="193.1" cy="189.7" r="3.05"/><circle cx="196.2" cy="176.5" r="3.05"/><circle cx="222.1" cy="154.8" r="3.05"/><circle cx="272.1" cy="196" r="3.05"/><circle cx="237" cy="276.6" r="3.05"/><circle cx="277" cy="188.8" r="3.05"/><circle cx="244.8" cy="160.2" r="3.05"/><circle cx="291.8" cy="258.2" r="3.05"/><circle cx="226.4" cy="218.4" r="3.05"/><circle cx="264.1" cy="291.6" r="3.05"/><circle cx="275.2" cy="216" r="3.05"/><circle cx="212" cy="193.5" r="3.05"/><circle cx="202.9" cy="151.8" r="3.05"/><circle cx="204.3" cy="265.1" r="3.05"/><circle cx="249" cy="200.5" r="3.05"/><circle cx="255.3" cy="184.3" r="3.05"/><circle cx="247.5" cy="279.3" r="3.05"/><circle cx="185.5" cy="159.9" r="3.05"/><circle cx="152.7" cy="206.2" r="3.05"/><circle cx="211.3" cy="152.9" r="3.05"/><circle cx="268.9" cy="179.6" r="3.05"/><circle cx="243.9" cy="237.2" r="3.05"/><circle cx="212.2" cy="248.7" r="3.05"/><circle cx="251.1" cy="182.3" r="3.05"/><circle cx="264.8" cy="262.3" r="3.05"/><circle cx="184" cy="240.9" r="3.05"/><circle cx="256.7" cy="231.7" r="3.05"/><circle cx="199.4" cy="254" r="3.05"/><circle cx="257.1" cy="315.7" r="3.05"/><circle cx="199.7" cy="163.2" r="3.05"/><circle cx="174" cy="152" r="3.05"/><circle cx="212.9" cy="189.9" r="3.05"/><circle cx="186.3" cy="172.6" r="3.05"/><circle cx="251.1" cy="219.3" r="3.05"/><circle cx="215.7" cy="227.8" r="3.05"/><circle cx="212.5" cy="223.2" r="3.05"/><circle cx="268.4" cy="261.7" r="3.05"/><circle cx="275.5" cy="181" r="3.05"/><circle cx="259.6" cy="244.8" r="3.05"/><circle cx="183.9" cy="237.1" r="3.05"/><circle cx="221.6" cy="280.4" r="3.05"/><circle cx="199.8" cy="255.4" r="3.05"/><circle cx="261.5" cy="244.3" r="3.05"/><circle cx="202" cy="192.1" r="3.05"/><circle cx="190.2" cy="162.3" r="3.05"/><circle cx="166" cy="224.2" r="3.05"/><circle cx="237.5" cy="178.6" r="3.05"/><circle cx="245.4" cy="146.8" r="3.05"/><circle cx="214.7" cy="258.4" r="3.05"/><circle cx="212.3" cy="199.9" r="3.05"/><circle cx="232.1" cy="203.5" r="3.05"/><circle cx="177.7" cy="176.3" r="3.05"/><circle cx="209.7" cy="156.6" r="3.05"/><circle cx="281.7" cy="296.8" r="3.05"/><circle cx="194.8" cy="206.5" r="3.05"/><circle cx="224.3" cy="235.9" r="3.05"/><circle cx="283.2" cy="255.2" r="3.05"/><circle cx="263.6" cy="267.3" r="3.05"/><circle cx="242.2" cy="189.1" r="3.05"/><circle cx="220.4" cy="258.1" r="3.05"/><circle cx="234.1" cy="298.2" r="3.05"/><circle cx="176.3" cy="160.7" r="3.05"/><circle cx="260.2" cy="175.1" r="3.05"/><circle cx="153.4" cy="207.9" r="3.05"/><circle cx="190.2" cy="145.7" r="3.05"/><circle cx="287.1" cy="264" r="3.05"/><circle cx="251" cy="254.6" r="3.05"/><circle cx="258.2" cy="309.3" r="3.05"/><circle cx="195" cy="242.9" r="3.05"/><circle cx="200.9" cy="214.8" r="3.05"/><circle cx="190.2" cy="242.1" r="3.05"/><circle cx="253.2" cy="226.7" r="3.05"/><circle cx="154.9" cy="204.5" r="3.05"/><circle cx="183.3" cy="178.3" r="3.05"/><circle cx="155.1" cy="164.4" r="3.05"/><circle cx="190.9" cy="169.7" r="3.05"/><circle cx="218.2" cy="170.4" r="3.05"/><circle cx="277.7" cy="215.7" r="3.05"/><circle cx="278.5" cy="186.7" r="3.05"/><circle cx="212.5" cy="266.5" r="3.05"/><circle cx="282.4" cy="270.6" r="3.05"/><circle cx="286.5" cy="276.4" r="3.05"/><circle cx="183.8" cy="203.7" r="3.05"/><circle cx="267.2" cy="320.6" r="3.05"/><circle cx="186.9" cy="207.9" r="3.05"/><circle cx="178.7" cy="181" r="3.05"/><circle cx="201.1" cy="252.1" r="3.05"/><circle cx="161.9" cy="160" r="3.05"/><circle cx="274.1" cy="197.4" r="3.05"/><circle cx="221.2" cy="190.2" r="3.05"/><circle cx="280.2" cy="283.5" r="3.05"/><circle cx="273.1" cy="222.4" r="3.05"/><circle cx="287" cy="296.3" r="3.05"/><circle cx="260.5" cy="204.7" r="3.05"/><circle cx="162.4" cy="196.6" r="3.05"/><circle cx="155.7" cy="186.3" r="3.05"/><circle cx="298.7" cy="269" r="3.05"/><circle cx="262.5" cy="226.9" r="3.05"/><circle cx="236.9" cy="245.6" r="3.05"/><circle cx="276.2" cy="271.4" r="3.05"/><circle cx="267.1" cy="188.8" r="3.05"/><circle cx="160.4" cy="203.8" r="3.05"/><circle cx="270.4" cy="256" r="3.05"/><circle cx="206.6" cy="167.8" r="3.05"/><circle cx="281.5" cy="290.2" r="3.05"/><circle cx="246.3" cy="237.5" r="3.05"/><circle cx="276.9" cy="252.5" r="3.05"/><circle cx="281.4" cy="300.6" r="3.05"/><circle cx="235.3" cy="187.4" r="3.05"/><circle cx="235.7" cy="250.9" r="3.05"/><circle cx="265" cy="171.2" r="3.05"/><circle cx="179.5" cy="179.8" r="3.05"/><circle cx="184.7" cy="201.7" r="3.05"/><circle cx="279.1" cy="250.3" r="3.05"/><circle cx="240.5" cy="237.4" r="3.05"/><circle cx="149.9" cy="178.3" r="3.05"/><circle cx="264.6" cy="239" r="3.05"/><circle cx="236.1" cy="261.2" r="3.05"/><circle cx="259.7" cy="300.9" r="3.05"/><circle cx="213.2" cy="245" r="3.05"/><circle cx="270.5" cy="287.2" r="3.05"/><circle cx="271.1" cy="191.3" r="3.05"/><circle cx="173.7" cy="216.9" r="3.05"/><circle cx="209.4" cy="160.3" r="3.05"/><circle cx="167.4" cy="225.4" r="3.05"/><circle cx="278.7" cy="247.1" r="3.05"/><circle cx="185" cy="243.2" r="3.05"/><circle cx="265" cy="243.8" r="3.05"/><circle cx="211.1" cy="270.2" r="3.05"/><circle cx="231.9" cy="190.8" r="3.05"/><circle cx="273.1" cy="297.6" r="3.05"/><circle cx="273.4" cy="232.9" r="3.05"/><circle cx="293.1" cy="270.7" r="3.05"/><circle cx="254.1" cy="180" r="3.05"/><circle cx="163.2" cy="201.8" r="3.05"/><circle cx="228.2" cy="225" r="3.05"/><circle cx="167.8" cy="164.5" r="3.05"/><circle cx="270.5" cy="234.9" r="3.05"/><circle cx="272.1" cy="254.5" r="3.05"/><circle cx="244.5" cy="243.9" r="3.05"/><circle cx="245.6" cy="225.1" r="3.05"/><circle cx="239.1" cy="232.7" r="3.05"/><circle cx="267.9" cy="157.4" r="3.05"/><circle cx="181.2" cy="175.6" r="3.05"/><circle cx="200.1" cy="181.8" r="3.05"/><circle cx="211.3" cy="200.1" r="3.05"/><circle cx="210.8" cy="267.3" r="3.05"/><circle cx="149" cy="191.2" r="3.05"/><circle cx="274.4" cy="307.3" r="3.05"/><circle cx="205.4" cy="237" r="3.05"/><circle cx="230.8" cy="210.5" r="3.05"/><circle cx="221.4" cy="223.6" r="3.05"/><circle cx="174.7" cy="161.1" r="3.05"/><circle cx="149" cy="175.2" r="3.05"/><circle cx="220.8" cy="227.7" r="3.05"/><circle cx="261.7" cy="158.5" r="3.05"/><circle cx="291.7" cy="287.8" r="3.05"/><circle cx="234.6" cy="232.7" r="3.05"/><circle cx="213.4" cy="186.2" r="3.05"/><circle cx="275" cy="293" r="3.05"/><circle cx="152.3" cy="192.6" r="3.05"/><circle cx="246.1" cy="178" r="3.05"/><circle cx="185.6" cy="222.3" r="3.05"/><circle cx="176.8" cy="234.1" r="3.05"/><circle cx="240.2" cy="219.5" r="3.05"/><circle cx="219.8" cy="239.5" r="3.05"/><circle cx="266.5" cy="188.6" r="3.05"/><circle cx="284.7" cy="206.6" r="3.05"/><circle cx="183.5" cy="194.7" r="3.05"/><circle cx="185.7" cy="155.9" r="3.05"/><circle cx="199.1" cy="220.9" r="3.05"/><circle cx="172.6" cy="185.5" r="3.05"/><circle cx="191.8" cy="204.1" r="3.05"/><circle cx="257" cy="310.7" r="3.05"/><circle cx="205.6" cy="159" r="3.05"/><circle cx="259.4" cy="273.9" r="3.05"/><circle cx="245.9" cy="293.3" r="3.05"/><circle cx="256.6" cy="169.7" r="3.05"/><circle cx="290.4" cy="261" r="3.05"/><circle cx="216" cy="270.4" r="3.05"/><circle cx="226.9" cy="246.2" r="3.05"/><circle cx="238.1" cy="159.5" r="3.05"/><circle cx="193.8" cy="181.3" r="3.05"/><circle cx="288" cy="245.6" r="3.05"/><circle cx="225.6" cy="161.8" r="3.05"/><circle cx="228" cy="214.9" r="3.05"/><circle cx="257.9" cy="251.6" r="3.05"/><circle cx="238.4" cy="294.7" r="3.05"/><circle cx="243.7" cy="272.9" r="3.05"/><circle cx="239" cy="286.3" r="3.05"/><circle cx="253.9" cy="171.1" r="3.05"/><circle cx="180.5" cy="194.2" r="3.05"/><circle cx="230.5" cy="166.7" r="3.05"/><circle cx="175.2" cy="162.2" r="3.05"/><circle cx="180.5" cy="239.6" r="3.05"/><circle cx="246" cy="203.8" r="3.05"/><circle cx="261.6" cy="254.5" r="3.05"/><circle cx="197.3" cy="181.2" r="3.05"/><circle cx="177.8" cy="180.4" r="3.05"/><circle cx="151.4" cy="189" r="3.05"/><circle cx="213.3" cy="213.1" r="3.05"/><circle cx="182.4" cy="241.6" r="3.05"/><circle cx="202.9" cy="156.9" r="3.05"/><circle cx="202.5" cy="219.7" r="3.05"/><circle cx="246.3" cy="223.5" r="3.05"/><circle cx="237.6" cy="264.6" r="3.05"/><circle cx="249.6" cy="230.7" r="3.05"/><circle cx="194.3" cy="209.6" r="3.05"/><circle cx="273.1" cy="180.8" r="3.05"/><circle cx="258.5" cy="285.4" r="3.05"/><circle cx="204.5" cy="159.4" r="3.05"/><circle cx="233.4" cy="293.7" r="3.05"/><circle cx="237" cy="205" r="3.05"/><circle cx="227.3" cy="219" r="3.05"/><circle cx="153.6" cy="175.4" r="3.05"/><circle cx="288.7" cy="232.5" r="3.05"/><circle cx="249.7" cy="230" r="3.05"/><circle cx="175.1" cy="156.4" r="3.05"/><circle cx="224.6" cy="174.6" r="3.05"/><circle cx="149.5" cy="170.6" r="3.05"/><circle cx="158.9" cy="208" r="3.05"/><circle cx="242" cy="258.2" r="3.05"/><circle cx="270.1" cy="276.7" r="3.05"/><circle cx="201.7" cy="220.3" r="3.05"/><circle cx="269.5" cy="227.6" r="3.05"/><circle cx="193.3" cy="162.6" r="3.05"/><circle cx="213.3" cy="216.6" r="3.05"/><circle cx="273.5" cy="174.1" r="3.05"/><circle cx="259.8" cy="210.1" r="3.05"/><circle cx="202.6" cy="182.7" r="3.05"/><circle cx="226.8" cy="263.8" r="3.05"/><circle cx="207.2" cy="250" r="3.05"/><circle cx="235" cy="259.6" r="3.05"/><circle cx="241.7" cy="273.7" r="3.05"/><circle cx="164.8" cy="185.9" r="3.05"/><circle cx="259.4" cy="300.1" r="3.05"/><circle cx="168.6" cy="210.7" r="3.05"/><circle cx="262.8" cy="173.9" r="3.05"/><circle cx="286.1" cy="281.5" r="3.05"/><circle cx="286.4" cy="290.6" r="3.05"/><circle cx="208" cy="255.2" r="3.05"/><circle cx="213.7" cy="198.8" r="3.05"/><circle cx="170.3" cy="167.1" r="3.05"/><circle cx="258.8" cy="156.4" r="3.05"/><circle cx="199.1" cy="175.5" r="3.05"/><circle cx="232.1" cy="293.4" r="3.05"/><circle cx="264.7" cy="211.8" r="3.05"/><circle cx="267" cy="181.1" r="3.05"/><circle cx="246.8" cy="304" r="3.05"/><circle cx="281.4" cy="262.6" r="3.05"/><circle cx="194.8" cy="216.3" r="3.05"/><circle cx="194.2" cy="202.6" r="3.05"/><circle cx="243.9" cy="285.5" r="3.05"/><circle cx="255.9" cy="301.7" r="3.05"/><circle cx="213.3" cy="158.3" r="3.05"/><circle cx="215.7" cy="167.8" r="3.05"/><circle cx="258" cy="226.2" r="3.05"/><circle cx="184.3" cy="166.1" r="3.05"/><circle cx="240.6" cy="168.2" r="3.05"/><circle cx="168.7" cy="179.8" r="3.05"/><circle cx="172.1" cy="213.2" r="3.05"/><circle cx="155.2" cy="215.4" r="3.05"/><circle cx="232.8" cy="236.3" r="3.05"/><circle cx="273.4" cy="268.1" r="3.05"/><circle cx="211.7" cy="165.3" r="3.05"/><circle cx="239.1" cy="213.9" r="3.05"/><circle cx="230.7" cy="188.2" r="3.05"/><circle cx="291.3" cy="262.5" r="3.05"/><circle cx="159.2" cy="211" r="3.05"/><circle cx="218.8" cy="235.6" r="3.05"/><circle cx="243.1" cy="216.7" r="3.05"/><circle cx="257.8" cy="273.4" r="3.05"/><circle cx="273.9" cy="275.9" r="3.05"/><circle cx="284.6" cy="273" r="3.05"/><circle cx="207.3" cy="178.5" r="3.05"/><circle cx="236.5" cy="288" r="3.05"/><circle cx="250.6" cy="242.4" r="3.05"/><circle cx="257.9" cy="154.4" r="3.05"/><circle cx="278.3" cy="271.5" r="3.05"/><circle cx="165.4" cy="201.1" r="3.05"/><circle cx="190.1" cy="171.1" r="3.05"/><circle cx="167" cy="179.3" r="3.05"/><circle cx="231.7" cy="202.2" r="3.05"/><circle cx="279.3" cy="289.1" r="3.05"/><circle cx="231.4" cy="154.8" r="3.05"/><circle cx="215.1" cy="265.4" r="3.05"/><circle cx="220.8" cy="185.5" r="3.05"/><circle cx="212.7" cy="251.7" r="3.05"/><circle cx="274.9" cy="298.6" r="3.05"/><circle cx="251.9" cy="294.3" r="3.05"/><circle cx="162.5" cy="160.3" r="3.05"/><circle cx="266.4" cy="250.8" r="3.05"/><circle cx="184.2" cy="153.5" r="3.05"/><circle cx="223.9" cy="162.2" r="3.05"/><circle cx="214.9" cy="200.1" r="3.05"/><circle cx="188.4" cy="239.3" r="3.05"/><circle cx="239.8" cy="170.9" r="3.05"/><circle cx="213.9" cy="256.7" r="3.05"/><circle cx="152.2" cy="179.6" r="3.05"/><circle cx="204.7" cy="263.4" r="3.05"/><circle cx="260.3" cy="248.2" r="3.05"/><circle cx="223.2" cy="198" r="3.05"/><circle cx="264.7" cy="169.1" r="3.05"/><circle cx="256.7" cy="309.4" r="3.05"/><circle cx="212.3" cy="212.5" r="3.05"/><circle cx="187.7" cy="152.2" r="3.05"/><circle cx="239.6" cy="219.4" r="3.05"/><circle cx="188.1" cy="191.8" r="3.05"/><circle cx="195.6" cy="244.5" r="3.05"/><circle cx="290.3" cy="222.3" r="3.05"/><circle cx="232.4" cy="176.7" r="3.05"/><circle cx="273.9" cy="297.1" r="3.05"/><circle cx="296.5" cy="260.6" r="3.05"/><circle cx="165.4" cy="200.5" r="3.05"/><circle cx="223.3" cy="147" r="3.05"/><circle cx="283.8" cy="210.8" r="3.05"/><circle cx="241.8" cy="295.8" r="3.05"/><circle cx="265.2" cy="299.1" r="3.05"/><circle cx="178.9" cy="225.6" r="3.05"/><circle cx="168.3" cy="191.4" r="3.05"/><circle cx="161.2" cy="169.2" r="3.05"/><circle cx="277.8" cy="219.6" r="3.05"/><circle cx="245.3" cy="256.5" r="3.05"/><circle cx="155.3" cy="177.1" r="3.05"/><circle cx="182.3" cy="191.5" r="3.05"/><circle cx="257.3" cy="197.8" r="3.05"/><circle cx="173.7" cy="186.6" r="3.05"/><circle cx="210.7" cy="192.3" r="3.05"/><circle cx="252.2" cy="156.8" r="3.05"/><circle cx="262.6" cy="308.8" r="3.05"/><circle cx="278" cy="205.1" r="3.05"/><circle cx="159.6" cy="204.9" r="3.05"/><circle cx="265.7" cy="289.8" r="3.05"/><circle cx="224.6" cy="206.7" r="3.05"/><circle cx="169.1" cy="174.5" r="3.05"/><circle cx="265.2" cy="203.3" r="3.05"/><circle cx="226.1" cy="170.5" r="3.05"/><circle cx="256.3" cy="283.9" r="3.05"/><circle cx="188.7" cy="177.9" r="3.05"/><circle cx="226.6" cy="179.3" r="3.05"/><circle cx="190.5" cy="177.7" r="3.05"/><circle cx="191.3" cy="148" r="3.05"/><circle cx="259.8" cy="227.5" r="3.05"/><circle cx="262.1" cy="265.7" r="3.05"/><circle cx="240.9" cy="197.1" r="3.05"/><circle cx="193.9" cy="183.6" r="3.05"/><circle cx="258.7" cy="200.5" r="3.05"/><circle cx="219.9" cy="237.8" r="3.05"/><circle cx="209" cy="147.5" r="3.05"/><circle cx="176.7" cy="234.1" r="3.05"/><circle cx="227.4" cy="264.2" r="3.05"/><circle cx="192.2" cy="176.3" r="3.05"/><circle cx="242.4" cy="269.4" r="3.05"/><circle cx="252.1" cy="263.2" r="3.05"/><circle cx="208.1" cy="204.3" r="3.05"/><circle cx="198.9" cy="155.3" r="3.05"/><circle cx="247.9" cy="218.2" r="3.05"/><circle cx="161.5" cy="182.2" r="3.05"/><circle cx="281.1" cy="292.7" r="3.05"/><circle cx="248.4" cy="153.9" r="3.05"/><circle cx="212.2" cy="206.7" r="3.05"/><circle cx="235.9" cy="169.8" r="3.05"/><circle cx="169.7" cy="229.7" r="3.05"/><circle cx="284.3" cy="210.9" r="3.05"/><circle cx="241.3" cy="253.2" r="3.05"/><circle cx="204.6" cy="255.7" r="3.05"/><circle cx="229.2" cy="158.5" r="3.05"/><circle cx="190.4" cy="211.2" r="3.05"/><circle cx="253.2" cy="270" r="3.05"/><circle cx="280.2" cy="280.2" r="3.05"/><circle cx="276.8" cy="176.3" r="3.05"/><circle cx="266.4" cy="220" r="3.05"/><circle cx="235.1" cy="221.9" r="3.05"/><circle cx="227.4" cy="198.8" r="3.05"/><circle cx="194.7" cy="229.1" r="3.05"/><circle cx="291.1" cy="226" r="3.05"/><circle cx="212.3" cy="253.9" r="3.05"/><circle cx="243.6" cy="166.1" r="3.05"/><circle cx="197.5" cy="249.3" r="3.05"/><circle cx="224.4" cy="177.8" r="3.05"/><circle cx="233.2" cy="180.3" r="3.05"/><circle cx="293.8" cy="255.9" r="3.05"/><circle cx="229.9" cy="186.6" r="3.05"/><circle cx="168.2" cy="190.6" r="3.05"/><circle cx="194.6" cy="163.2" r="3.05"/><circle cx="199.8" cy="178.3" r="3.05"/><circle cx="229.2" cy="226.9" r="3.05"/><circle cx="211.3" cy="149.9" r="3.05"/><circle cx="276.9" cy="207.5" r="3.05"/><circle cx="286.5" cy="261.5" r="3.05"/><circle cx="272.5" cy="170.7" r="3.05"/><circle cx="227.4" cy="219.5" r="3.05"/><circle cx="190.1" cy="167.4" r="3.05"/><circle cx="277.5" cy="209.8" r="3.05"/><circle cx="223.5" cy="283.5" r="3.05"/><circle cx="290.8" cy="255.1" r="3.05"/><circle cx="197.9" cy="173.3" r="3.05"/><circle cx="167.8" cy="185.8" r="3.05"/><circle cx="268.3" cy="294.7" r="3.05"/><circle cx="253.1" cy="197.9" r="3.05"/><circle cx="230.8" cy="194.6" r="3.05"/><circle cx="224.8" cy="155.4" r="3.05"/><circle cx="171.9" cy="157.7" r="3.05"/><circle cx="192.5" cy="215.9" r="3.05"/><circle cx="273.2" cy="251.6" r="3.05"/><circle cx="281.7" cy="266.6" r="3.05"/><circle cx="269.3" cy="290.7" r="3.05"/><circle cx="229.2" cy="186.1" r="3.05"/><circle cx="231.5" cy="236.1" r="3.05"/><circle cx="160.2" cy="211" r="3.05"/><circle cx="263.7" cy="191" r="3.05"/><circle cx="268.3" cy="235.8" r="3.05"/><circle cx="214.5" cy="232.7" r="3.05"/><circle cx="234.5" cy="282.9" r="3.05"/><circle cx="210.2" cy="174.8" r="3.05"/><circle cx="153.1" cy="190.4" r="3.05"/><circle cx="273.1" cy="293.3" r="3.05"/><circle cx="230.9" cy="293.4" r="3.05"/><circle cx="206.5" cy="160.7" r="3.05"/><circle cx="264.3" cy="282.3" r="3.05"/><circle cx="256.4" cy="251.8" r="3.05"/><circle cx="210.1" cy="223.5" r="3.05"/><circle cx="258.1" cy="285.8" r="3.05"/><circle cx="206.9" cy="224.3" r="3.05"/><circle cx="270.4" cy="257.1" r="3.05"/><circle cx="285.9" cy="288" r="3.05"/><circle cx="287.4" cy="269" r="3.05"/><circle cx="207.8" cy="178.5" r="3.05"/><circle cx="264.6" cy="309.8" r="3.05"/><circle cx="230.6" cy="168.1" r="3.05"/><circle cx="211.7" cy="269.7" r="3.05"/><circle cx="173.6" cy="179.7" r="3.05"/><circle cx="260.7" cy="170.8" r="3.05"/><circle cx="163.4" cy="197.1" r="3.05"/><circle cx="252.9" cy="195.1" r="3.05"/><circle cx="236.3" cy="218.8" r="3.05"/><circle cx="286.1" cy="254.2" r="3.05"/><circle cx="252.6" cy="231.7" r="3.05"/><circle cx="175.4" cy="198.7" r="3.05"/><circle cx="263.4" cy="264.5" r="3.05"/><circle cx="273.3" cy="184.3" r="3.05"/><circle cx="192.7" cy="170.4" r="3.05"/><circle cx="238" cy="217.9" r="3.05"/><circle cx="207.1" cy="231.6" r="3.05"/><circle cx="188.5" cy="159.4" r="3.05"/><circle cx="219.4" cy="262.7" r="3.05"/><circle cx="197.6" cy="217.5" r="3.05"/><circle cx="271.9" cy="193.5" r="3.05"/><circle cx="216.1" cy="275.1" r="3.05"/><circle cx="216.6" cy="261.2" r="3.05"/><circle cx="235.1" cy="225.9" r="3.05"/><circle cx="218.1" cy="237" r="3.05"/><circle cx="257" cy="199.1" r="3.05"/><circle cx="218.5" cy="265" r="3.05"/><circle cx="295.5" cy="263.3" r="3.05"/><circle cx="236.3" cy="171.5" r="3.05"/><circle cx="201.7" cy="242.2" r="3.05"/><circle cx="214" cy="196.2" r="3.05"/><circle cx="253.1" cy="312.4" r="3.05"/><circle cx="276" cy="302.9" r="3.05"/><circle cx="287.4" cy="245" r="3.05"/><circle cx="237.6" cy="159.4" r="3.05"/><circle cx="269.4" cy="271.5" r="3.05"/><circle cx="258.8" cy="293.8" r="3.05"/><circle cx="246.8" cy="223.1" r="3.05"/><circle cx="189.8" cy="223.6" r="3.05"/><circle cx="179.9" cy="178.5" r="3.05"/><circle cx="272.2" cy="276.5" r="3.05"/><circle cx="221.5" cy="188.5" r="3.05"/><circle cx="256.3" cy="217.9" r="3.05"/><circle cx="268.1" cy="288.1" r="3.05"/><circle cx="265.2" cy="256.3" r="3.05"/><circle cx="264.2" cy="182" r="3.05"/><circle cx="255.2" cy="230.9" r="3.05"/><circle cx="179.3" cy="196.1" r="3.05"/><circle cx="150.7" cy="171.1" r="3.05"/><circle cx="160.2" cy="158.5" r="3.05"/><circle cx="220.5" cy="180.8" r="3.05"/><circle cx="265.7" cy="260" r="3.05"/><circle cx="151.5" cy="174" r="3.05"/><circle cx="266.1" cy="251.4" r="3.05"/><circle cx="251.4" cy="205.4" r="3.05"/><circle cx="238.7" cy="243.4" r="3.05"/><circle cx="233.7" cy="290.2" r="3.05"/><circle cx="247.3" cy="221.3" r="3.05"/><circle cx="289.5" cy="273.8" r="3.05"/><circle cx="268.9" cy="227.8" r="3.05"/><circle cx="253.8" cy="273.9" r="3.05"/><circle cx="276.5" cy="219.2" r="3.05"/><circle cx="155" cy="208.6" r="3.05"/><circle cx="200.5" cy="223" r="3.05"/><circle cx="147.5" cy="199.1" r="3.05"/><circle cx="269.8" cy="266.9" r="3.05"/><circle cx="246.2" cy="154.3" r="3.05"/><circle cx="180.8" cy="172.6" r="3.05"/><circle cx="257.8" cy="261.3" r="3.05"/><circle cx="263.7" cy="258.8" r="3.05"/><circle cx="239.8" cy="255.9" r="3.05"/><circle cx="238.1" cy="166" r="3.05"/><circle cx="203.1" cy="174.5" r="3.05"/><circle cx="257.7" cy="177.4" r="3.05"/><circle cx="170.6" cy="155.5" r="3.05"/><circle cx="171" cy="228.5" r="3.05"/><circle cx="181" cy="181.5" r="3.05"/><circle cx="253.1" cy="202.6" r="3.05"/><circle cx="218.1" cy="150.4" r="3.05"/><circle cx="216.9" cy="213.5" r="3.05"/><circle cx="248.7" cy="274.3" r="3.05"/><circle cx="171.2" cy="170.8" r="3.05"/><circle cx="165.8" cy="206.6" r="3.05"/><circle cx="237.6" cy="147.8" r="3.05"/><circle cx="294.2" cy="283" r="3.05"/><circle cx="199.2" cy="178" r="3.05"/><circle cx="243.5" cy="264.2" r="3.05"/><circle cx="278.7" cy="227.2" r="3.05"/><circle cx="282.3" cy="191.2" r="3.05"/><circle cx="291.2" cy="259.5" r="3.05"/><circle cx="272.2" cy="265.9" r="3.05"/><circle cx="232.5" cy="248.7" r="3.05"/><circle cx="195.4" cy="217.5" r="3.05"/><circle cx="190.1" cy="210.9" r="3.05"/><circle cx="227.1" cy="203.2" r="3.05"/><circle cx="287.6" cy="297.3" r="3.05"/><circle cx="182.9" cy="219.8" r="3.05"/><circle cx="161.3" cy="216.8" r="3.05"/><circle cx="253.4" cy="223.9" r="3.05"/><circle cx="165.9" cy="152.5" r="3.05"/><circle cx="194.5" cy="243.7" r="3.05"/><circle cx="204.1" cy="195.9" r="3.05"/><circle cx="231.2" cy="146" r="3.05"/><circle cx="190.8" cy="145.9" r="3.05"/><circle cx="233" cy="249.6" r="3.05"/><circle cx="283.3" cy="206.1" r="3.05"/><circle cx="231.4" cy="164.3" r="3.05"/><circle cx="263.5" cy="173.1" r="3.05"/><circle cx="268.5" cy="183.3" r="3.05"/><circle cx="227.7" cy="282" r="3.05"/><circle cx="215.6" cy="154.9" r="3.05"/><circle cx="171.4" cy="150.7" r="3.05"/><circle cx="219" cy="241.3" r="3.05"/><circle cx="174" cy="222.7" r="3.05"/><circle cx="199.8" cy="195.6" r="3.05"/><circle cx="253.6" cy="211.6" r="3.05"/><circle cx="157.6" cy="212" r="3.05"/><circle cx="231.2" cy="207.9" r="3.05"/><circle cx="244.6" cy="252.9" r="3.05"/><circle cx="196" cy="252.4" r="3.05"/><circle cx="188.7" cy="157.3" r="3.05"/><circle cx="229.6" cy="221.2" r="3.05"/><circle cx="283.3" cy="249" r="3.05"/><circle cx="189.5" cy="232.7" r="3.05"/><circle cx="225.2" cy="260" r="3.05"/><circle cx="281.1" cy="306.7" r="3.05"/><circle cx="254.6" cy="206.5" r="3.05"/><circle cx="237.9" cy="204.2" r="3.05"/><circle cx="257.2" cy="260.1" r="3.05"/><circle cx="265.4" cy="238.2" r="3.05"/><circle cx="183.9" cy="195.3" r="3.05"/><circle cx="227.8" cy="217.1" r="3.05"/><circle cx="194.9" cy="239" r="3.05"/><circle cx="256.5" cy="283.7" r="3.05"/><circle cx="220.6" cy="167.2" r="3.05"/><circle cx="231.5" cy="253.5" r="3.05"/><circle cx="275.8" cy="266.9" r="3.05"/><circle cx="190.1" cy="240.6" r="3.05"/><circle cx="212.5" cy="240.7" r="3.05"/><circle cx="168.2" cy="192.9" r="3.05"/><circle cx="246.8" cy="199.2" r="3.05"/><circle cx="267.5" cy="316.3" r="3.05"/><circle cx="249" cy="229.7" r="3.05"/><circle cx="231.1" cy="193.8" r="3.05"/><circle cx="265.1" cy="200.5" r="3.05"/><circle cx="211.7" cy="200.6" r="3.05"/><circle cx="279.1" cy="255.1" r="3.05"/><circle cx="192.7" cy="163.1" r="3.05"/><circle cx="215.7" cy="198.7" r="3.05"/><circle cx="181.2" cy="221.6" r="3.05"/><circle cx="230.7" cy="155" r="3.05"/><circle cx="250.3" cy="162" r="3.05"/><circle cx="180.9" cy="192.3" r="3.05"/><circle cx="254.5" cy="295.6" r="3.05"/><circle cx="212.4" cy="226" r="3.05"/><circle cx="258.3" cy="299.6" r="3.05"/><circle cx="258.9" cy="266.3" r="3.05"/><circle cx="246.7" cy="275.1" r="3.05"/><circle cx="195" cy="154.4" r="3.05"/><circle cx="217.6" cy="167" r="3.05"/><circle cx="288.4" cy="250.8" r="3.05"/><circle cx="272.5" cy="183.4" r="3.05"/><circle cx="248" cy="149.5" r="3.05"/><circle cx="223.7" cy="280.8" r="3.05"/><circle cx="165.3" cy="164.6" r="3.05"/><circle cx="261.7" cy="245.5" r="3.05"/><circle cx="229.5" cy="238.2" r="3.05"/><circle cx="169.7" cy="170.7" r="3.05"/><circle cx="255.2" cy="211.7" r="3.05"/><circle cx="210.4" cy="157.5" r="3.05"/><circle cx="277.6" cy="297.7" r="3.05"/><circle cx="222.2" cy="165.9" r="3.05"/><circle cx="220.7" cy="267.6" r="3.05"/><circle cx="276.1" cy="255.7" r="3.05"/><circle cx="149.8" cy="186.1" r="3.05"/><circle cx="167.9" cy="175.3" r="3.05"/><circle cx="254" cy="215.9" r="3.05"/><circle cx="292.1" cy="284" r="3.05"/><circle cx="250.5" cy="202.5" r="3.05"/><circle cx="230.3" cy="185.1" r="3.05"/><circle cx="171.7" cy="177.2" r="3.05"/><circle cx="163.5" cy="159.1" r="3.05"/><circle cx="263.2" cy="244.4" r="3.05"/><circle cx="240" cy="173.8" r="3.05"/><circle cx="194.9" cy="189.5" r="3.05"/><circle cx="222.1" cy="152.4" r="3.05"/><circle cx="182.4" cy="150.7" r="3.05"/><circle cx="260.7" cy="226.3" r="3.05"/><circle cx="293.8" cy="244.5" r="3.05"/><circle cx="212.6" cy="224.7" r="3.05"/><circle cx="174.9" cy="206.4" r="3.05"/><circle cx="252.1" cy="304.1" r="3.05"/><circle cx="250.9" cy="245.5" r="3.05"/><circle cx="272.1" cy="180.6" r="3.05"/><circle cx="184.7" cy="175.4" r="3.05"/><circle cx="243.8" cy="248.4" r="3.05"/><circle cx="202" cy="226.8" r="3.05"/><circle cx="167.5" cy="188.9" r="3.05"/><circle cx="190.4" cy="213.9" r="3.05"/><circle cx="234.3" cy="283.2" r="3.05"/><circle cx="234.6" cy="279" r="3.05"/><circle cx="255.7" cy="271.4" r="3.05"/><circle cx="184.4" cy="201.2" r="3.05"/><circle cx="289.9" cy="268.3" r="3.05"/><circle cx="203.2" cy="198.3" r="3.05"/><circle cx="252.4" cy="256.5" r="3.05"/><circle cx="194.6" cy="255.7" r="3.05"/><circle cx="219.1" cy="274.7" r="3.05"/><circle cx="186.3" cy="196.4" r="3.05"/><circle cx="268.8" cy="189.2" r="3.05"/><circle cx="223.5" cy="281.1" r="3.05"/><circle cx="213" cy="164.3" r="3.05"/><circle cx="223.4" cy="276.3" r="3.05"/><circle cx="178.8" cy="183.7" r="3.05"/><circle cx="230.6" cy="249.3" r="3.05"/><circle cx="203.1" cy="195.3" r="3.05"/><circle cx="259.5" cy="290" r="3.05"/><circle cx="289.8" cy="291.1" r="3.05"/><circle cx="249.4" cy="201.9" r="3.05"/><circle cx="240.6" cy="208.6" r="3.05"/><circle cx="270.3" cy="314.8" r="3.05"/><circle cx="189.2" cy="235.6" r="3.05"/><circle cx="259" cy="211.6" r="3.05"/><circle cx="226.2" cy="193.9" r="3.05"/><circle cx="181.5" cy="188" r="3.05"/><circle cx="254.1" cy="253" r="3.05"/><circle cx="238.4" cy="260.7" r="3.05"/><circle cx="205" cy="177.6" r="3.05"/><circle cx="242.7" cy="258.4" r="3.05"/><circle cx="166.4" cy="170" r="3.05"/><circle cx="261.9" cy="207.4" r="3.05"/><circle cx="260.8" cy="167.5" r="3.05"/><circle cx="277.1" cy="206.4" r="3.05"/><circle cx="260.8" cy="283.7" r="3.05"/><circle cx="264.2" cy="204.9" r="3.05"/><circle cx="241.8" cy="268.1" r="3.05"/><circle cx="196.2" cy="226.7" r="3.05"/><circle cx="172.5" cy="159.4" r="3.05"/><circle cx="269.2" cy="157.2" r="3.05"/><circle cx="215.9" cy="167" r="3.05"/><circle cx="282.8" cy="256" r="3.05"/><circle cx="207.6" cy="164.7" r="3.05"/><circle cx="151.7" cy="208.2" r="3.05"/><circle cx="180.7" cy="193.2" r="3.05"/><circle cx="160.4" cy="168.4" r="3.05"/><circle cx="200.3" cy="188.3" r="3.05"/><circle cx="210.5" cy="207.8" r="3.05"/><circle cx="244.8" cy="203.2" r="3.05"/><circle cx="247.7" cy="287.7" r="3.05"/><circle cx="195.8" cy="193.7" r="3.05"/><circle cx="252" cy="255.9" r="3.05"/><circle cx="183.3" cy="220.2" r="3.05"/><circle cx="259" cy="199.2" r="3.05"/><circle cx="245.9" cy="164.9" r="3.05"/><circle cx="272.9" cy="249.7" r="3.05"/><circle cx="210.5" cy="263.3" r="3.05"/><circle cx="234.8" cy="206.4" r="3.05"/><circle cx="229.7" cy="174.7" r="3.05"/><circle cx="205.4" cy="223.8" r="3.05"/><circle cx="273" cy="282.8" r="3.05"/><circle cx="160.7" cy="215" r="3.05"/><circle cx="259.1" cy="234.6" r="3.05"/><circle cx="187.9" cy="186.1" r="3.05"/><circle cx="149.4" cy="177.7" r="3.05"/><circle cx="248.4" cy="224.7" r="3.05"/><circle cx="214.8" cy="248.5" r="3.05"/><circle cx="196.4" cy="166.1" r="3.05"/><circle cx="230.8" cy="192.5" r="3.05"/><circle cx="157.6" cy="213.6" r="3.05"/><circle cx="281.8" cy="223.5" r="3.05"/><circle cx="234" cy="151.9" r="3.05"/><circle cx="248.4" cy="228.6" r="3.05"/><circle cx="194.7" cy="184.5" r="3.05"/><circle cx="220.2" cy="232.7" r="3.05"/><circle cx="279.2" cy="214" r="3.05"/><circle cx="268.5" cy="292.9" r="3.05"/><circle cx="191.5" cy="169.9" r="3.05"/><circle cx="254.4" cy="220.6" r="3.05"/><circle cx="191.2" cy="177.9" r="3.05"/><circle cx="236.4" cy="268" r="3.05"/><circle cx="222.5" cy="184.6" r="3.05"/><circle cx="294.5" cy="250.3" r="3.05"/><circle cx="295.1" cy="259.3" r="3.05"/><circle cx="241.7" cy="263.1" r="3.05"/><circle cx="283.1" cy="204.8" r="3.05"/><circle cx="219" cy="213.8" r="3.05"/><circle cx="252.2" cy="270.4" r="3.05"/><circle cx="260.2" cy="286.7" r="3.05"/><circle cx="157" cy="162.6" r="3.05"/><circle cx="193.2" cy="251.3" r="3.05"/><circle cx="223.6" cy="231.8" r="3.05"/><circle cx="219.6" cy="187.2" r="3.05"/><circle cx="224.9" cy="185.6" r="3.05"/><circle cx="227.9" cy="220.2" r="3.05"/><circle cx="182.6" cy="215.6" r="3.05"/><circle cx="164" cy="209.9" r="3.05"/><circle cx="283.3" cy="219.1" r="3.05"/><circle cx="218.8" cy="175.5" r="3.05"/><circle cx="282.6" cy="242.5" r="3.05"/><circle cx="221.5" cy="274.9" r="3.05"/><circle cx="219.2" cy="251.3" r="3.05"/><circle cx="235.5" cy="146" r="3.05"/><circle cx="289.7" cy="261.1" r="3.05"/><circle cx="222.7" cy="238.6" r="3.05"/><circle cx="195.3" cy="155.4" r="3.05"/><circle cx="244.2" cy="270.9" r="3.05"/><circle cx="219.8" cy="213.7" r="3.05"/><circle cx="289.1" cy="223.5" r="3.05"/><circle cx="294.9" cy="278.7" r="3.05"/><circle cx="291.1" cy="275.6" r="3.05"/><circle cx="220.4" cy="192.2" r="3.05"/><circle cx="296.6" cy="275.7" r="3.05"/><circle cx="172.1" cy="149.6" r="3.05"/><circle cx="194" cy="214.8" r="3.05"/><circle cx="267.2" cy="240.1" r="3.05"/><circle cx="287.1" cy="281.2" r="3.05"/><circle cx="212.3" cy="188.7" r="3.05"/><circle cx="239.7" cy="261.1" r="3.05"/><circle cx="241" cy="252.9" r="3.05"/><circle cx="182.7" cy="206.9" r="3.05"/><circle cx="236.1" cy="236.1" r="3.05"/><circle cx="200" cy="207.4" r="3.05"/><circle cx="216.9" cy="245.1" r="3.05"/><circle cx="250.9" cy="215.1" r="3.05"/><circle cx="274.1" cy="185" r="3.05"/><circle cx="245.2" cy="302.5" r="3.05"/><circle cx="265.3" cy="293.7" r="3.05"/><circle cx="259.2" cy="160.5" r="3.05"/><circle cx="224.7" cy="231.6" r="3.05"/><circle cx="236.4" cy="244.7" r="3.05"/><circle cx="251.8" cy="161.8" r="3.05"/><circle cx="249.7" cy="205" r="3.05"/><circle cx="284.6" cy="286.4" r="3.05"/><circle cx="280.2" cy="243.3" r="3.05"/><circle cx="262.4" cy="248.8" r="3.05"/><circle cx="244.6" cy="200.9" r="3.05"/><circle cx="177.2" cy="241.4" r="3.05"/><circle cx="246.7" cy="197.6" r="3.05"/><circle cx="282.5" cy="244.6" r="3.05"/><circle cx="227.2" cy="150.6" r="3.05"/><circle cx="175.8" cy="231.9" r="3.05"/><circle cx="226.7" cy="147.5" r="3.05"/><circle cx="279.8" cy="231.2" r="3.05"/><circle cx="232.5" cy="196.2" r="3.05"/><circle cx="268.7" cy="312.9" r="3.05"/><circle cx="201" cy="215.6" r="3.05"/><circle cx="263.9" cy="155.2" r="3.05"/><circle cx="242.4" cy="205.7" r="3.05"/><circle cx="221.2" cy="233.8" r="3.05"/><circle cx="195.9" cy="165.4" r="3.05"/><circle cx="165.3" cy="191.1" r="3.05"/><circle cx="252.8" cy="302.9" r="3.05"/><circle cx="260.1" cy="260.7" r="3.05"/><circle cx="208" cy="220.8" r="3.05"/><circle cx="286" cy="231.9" r="3.05"/><circle cx="267" cy="290.1" r="3.05"/><circle cx="224.8" cy="190" r="3.05"/><circle cx="256.5" cy="220.6" r="3.05"/><circle cx="228" cy="254.2" r="3.05"/><circle cx="255" cy="298.8" r="3.05"/><circle cx="156.1" cy="201.8" r="3.05"/><circle cx="263.1" cy="255.2" r="3.05"/><circle cx="242.2" cy="218.2" r="3.05"/><circle cx="223.6" cy="157.2" r="3.05"/><circle cx="282.3" cy="203" r="3.05"/><circle cx="251.3" cy="233.7" r="3.05"/><circle cx="278.4" cy="205.5" r="3.05"/><circle cx="248.2" cy="244.1" r="3.05"/><circle cx="168.9" cy="185.3" r="3.05"/><circle cx="242.6" cy="259.7" r="3.05"/><circle cx="211.4" cy="239.6" r="3.05"/><circle cx="266.3" cy="317.2" r="3.05"/><circle cx="219.5" cy="267.8" r="3.05"/><circle cx="209.9" cy="268.1" r="3.05"/><circle cx="195.9" cy="148.7" r="3.05"/><circle cx="180" cy="156" r="3.05"/><circle cx="202.9" cy="186.4" r="3.05"/><circle cx="254.5" cy="189.8" r="3.05"/><circle cx="228.6" cy="201" r="3.05"/><circle cx="257.7" cy="303.3" r="3.05"/><circle cx="191.2" cy="216.3" r="3.05"/><circle cx="226.7" cy="269.1" r="3.05"/><circle cx="201.1" cy="231.5" r="3.05"/><circle cx="262.9" cy="291.1" r="3.05"/><circle cx="160.3" cy="174.3" r="3.05"/><circle cx="277" cy="233" r="3.05"/><circle cx="221.5" cy="167.5" r="3.05"/><circle cx="263.2" cy="162.5" r="3.05"/><circle cx="171.7" cy="190.2" r="3.05"/><circle cx="194.1" cy="202.2" r="3.05"/><circle cx="222.4" cy="151.8" r="3.05"/><circle cx="241.7" cy="238" r="3.05"/><circle cx="236.4" cy="162.4" r="3.05"/><circle cx="222.5" cy="205" r="3.05"/><circle cx="208.1" cy="159.6" r="3.05"/><circle cx="277.6" cy="265.2" r="3.05"/><circle cx="216.3" cy="158.7" r="3.05"/><circle cx="243.1" cy="266.6" r="3.05"/><circle cx="278.6" cy="293.6" r="3.05"/><circle cx="252.3" cy="225.4" r="3.05"/><circle cx="283.7" cy="265.3" r="3.05"/><circle cx="259.1" cy="255.9" r="3.05"/><circle cx="186.9" cy="170.8" r="3.05"/><circle cx="274.6" cy="183.8" r="3.05"/><circle cx="163.5" cy="189.1" r="3.05"/><circle cx="216" cy="211.7" r="3.05"/><circle cx="273.4" cy="268.3" r="3.05"/><circle cx="265.9" cy="163.9" r="3.05"/><circle cx="235.6" cy="207.6" r="3.05"/><circle cx="249.8" cy="247.7" r="3.05"/><circle cx="246.2" cy="154.8" r="3.05"/><circle cx="175" cy="184.1" r="3.05"/><circle cx="257.1" cy="222" r="3.05"/><circle cx="272.2" cy="234.8" r="3.05"/><circle cx="151.2" cy="175.3" r="3.05"/><circle cx="256.7" cy="229" r="3.05"/><circle cx="289.8" cy="255.5" r="3.05"/><circle cx="212.7" cy="208.7" r="3.05"/><circle cx="154.2" cy="180.7" r="3.05"/><circle cx="150.8" cy="200.2" r="3.05"/><circle cx="193.8" cy="204.7" r="3.05"/><circle cx="267" cy="248.1" r="3.05"/><circle cx="189.9" cy="160.1" r="3.05"/><circle cx="208" cy="165.4" r="3.05"/><circle cx="278.3" cy="280.2" r="3.05"/><circle cx="247.8" cy="214.8" r="3.05"/><circle cx="214.6" cy="214.6" r="3.05"/><circle cx="188.2" cy="241.2" r="3.05"/><circle cx="244.3" cy="198" r="3.05"/><circle cx="278.8" cy="214.3" r="3.05"/><circle cx="268.9" cy="203.6" r="3.05"/><circle cx="188" cy="228.8" r="3.05"/><circle cx="209.9" cy="249" r="3.05"/><circle cx="185.9" cy="150.3" r="3.05"/><circle cx="219.9" cy="146.2" r="3.05"/><circle cx="231" cy="273.9" r="3.05"/><circle cx="172.9" cy="156.4" r="3.05"/><circle cx="186.9" cy="150.6" r="3.05"/><circle cx="291.7" cy="300.2" r="3.05"/><circle cx="166.5" cy="218.8" r="3.05"/><circle cx="269.7" cy="298.7" r="3.05"/><circle cx="218.7" cy="153.5" r="3.05"/><circle cx="267.6" cy="191.2" r="3.05"/><circle cx="184.6" cy="208.2" r="3.05"/><circle cx="272" cy="256.2" r="3.05"/><circle cx="189.7" cy="231.6" r="3.05"/><circle cx="221.6" cy="196.7" r="3.05"/><circle cx="217.9" cy="212.6" r="3.05"/><circle cx="222.9" cy="204.4" r="3.05"/><circle cx="238.4" cy="303.6" r="3.05"/><circle cx="266.5" cy="158.9" r="3.05"/><circle cx="234.3" cy="237.6" r="3.05"/><circle cx="195.9" cy="188" r="3.05"/><circle cx="214.5" cy="259.7" r="3.05"/><circle cx="204.7" cy="230.8" r="3.05"/><circle cx="243.2" cy="251.4" r="3.05"/><circle cx="261.7" cy="275.4" r="3.05"/><circle cx="165.6" cy="224" r="3.05"/><circle cx="290.5" cy="269.4" r="3.05"/><circle cx="224" cy="164.7" r="3.05"/><circle cx="200.9" cy="228.7" r="3.05"/><circle cx="161.3" cy="161.7" r="3.05"/><circle cx="176.2" cy="182.8" r="3.05"/><circle cx="189.7" cy="153.6" r="3.05"/><circle cx="261.3" cy="201" r="3.05"/><circle cx="237.1" cy="225.2" r="3.05"/><circle cx="275.4" cy="187.2" r="3.05"/><circle cx="244.5" cy="268.2" r="3.05"/><circle cx="284" cy="303" r="3.05"/><circle cx="207.2" cy="219.5" r="3.05"/><circle cx="273.8" cy="189.3" r="3.05"/><circle cx="246.2" cy="173.9" r="3.05"/><circle cx="230.3" cy="195.4" r="3.05"/><circle cx="162.2" cy="217.4" r="3.05"/><circle cx="199.7" cy="259.2" r="3.05"/><circle cx="268.1" cy="219.6" r="3.05"/><circle cx="214.8" cy="258.9" r="3.05"/><circle cx="205" cy="199.6" r="3.05"/><circle cx="238.6" cy="204.9" r="3.05"/><circle cx="235.6" cy="235.5" r="3.05"/><circle cx="212.8" cy="219.5" r="3.05"/><circle cx="280.1" cy="255" r="3.05"/><circle cx="263.1" cy="182.7" r="3.05"/><circle cx="260.6" cy="295.7" r="3.05"/><circle cx="164" cy="195.8" r="3.05"/><circle cx="269.5" cy="290.6" r="3.05"/><circle cx="177.3" cy="234.5" r="3.05"/><circle cx="250.3" cy="171.8" r="3.05"/><circle cx="222" cy="224.3" r="3.05"/><circle cx="204.7" cy="263.1" r="3.05"/><circle cx="147.1" cy="191.4" r="3.05"/><circle cx="180.1" cy="230.8" r="3.05"/><circle cx="233.2" cy="170.7" r="3.05"/><circle cx="181.4" cy="153.5" r="3.05"/><circle cx="199.7" cy="156.2" r="3.05"/><circle cx="260" cy="292.6" r="3.05"/><circle cx="287.3" cy="212.9" r="3.05"/><circle cx="236.9" cy="200.2" r="3.05"/><circle cx="226.4" cy="211.9" r="3.05"/><circle cx="179.8" cy="176.1" r="3.05"/><circle cx="181.6" cy="166.5" r="3.05"/><circle cx="206.6" cy="177.5" r="3.05"/><circle cx="220.9" cy="201.7" r="3.05"/><circle cx="221.8" cy="186.8" r="3.05"/><circle cx="297.5" cy="268.3" r="3.05"/><circle cx="218.2" cy="217" r="3.05"/><circle cx="192.8" cy="152.3" r="3.05"/><circle cx="217" cy="249.9" r="3.05"/><circle cx="206.5" cy="259.4" r="3.05"/><circle cx="158.2" cy="201" r="3.05"/><circle cx="236.6" cy="151.3" r="3.05"/><circle cx="170.2" cy="157.8" r="3.05"/><circle cx="215.8" cy="179" r="3.05"/><circle cx="169.2" cy="178.5" r="3.05"/><circle cx="225" cy="153" r="3.05"/><circle cx="250.8" cy="186.7" r="3.05"/><circle cx="200.7" cy="159.4" r="3.05"/><circle cx="265.3" cy="243.8" r="3.05"/><circle cx="257.7" cy="217.7" r="3.05"/><circle cx="220.2" cy="212.9" r="3.05"/><circle cx="256.5" cy="280.6" r="3.05"/><circle cx="273.6" cy="212" r="3.05"/><circle cx="163.2" cy="159.9" r="3.05"/><circle cx="257.8" cy="313.2" r="3.05"/><circle cx="286.9" cy="227.4" r="3.05"/><circle cx="246.5" cy="215.7" r="3.05"/><circle cx="194.9" cy="254.7" r="3.05"/><circle cx="236.8" cy="275.2" r="3.05"/><circle cx="252.1" cy="299.2" r="3.05"/><circle cx="270.8" cy="291.7" r="3.05"/><circle cx="191.1" cy="222.2" r="3.05"/><circle cx="276.8" cy="199.6" r="3.05"/><circle cx="253.1" cy="176.1" r="3.05"/><circle cx="175" cy="229" r="3.05"/><circle cx="231.9" cy="232.1" r="3.05"/><circle cx="173.9" cy="165.8" r="3.05"/><circle cx="248.8" cy="226.3" r="3.05"/><circle cx="155.4" cy="170" r="3.05"/><circle cx="294" cy="272.3" r="3.05"/><circle cx="291.2" cy="278.5" r="3.05"/><circle cx="239.1" cy="261.2" r="3.05"/><circle cx="283.3" cy="267.7" r="3.05"/><circle cx="244.2" cy="291.4" r="3.05"/><circle cx="263.5" cy="310.5" r="3.05"/><circle cx="223.4" cy="246.9" r="3.05"/><circle cx="235.3" cy="233.1" r="3.05"/><circle cx="241.8" cy="233" r="3.05"/><circle cx="249.4" cy="169.6" r="3.05"/><circle cx="292.3" cy="256.3" r="3.05"/><circle cx="236.4" cy="208.6" r="3.05"/><circle cx="174.3" cy="229.8" r="3.05"/><circle cx="268.5" cy="263.4" r="3.05"/><circle cx="269.4" cy="306.7" r="3.05"/><circle cx="196.2" cy="164.7" r="3.05"/><circle cx="245.6" cy="251" r="3.05"/><circle cx="243.7" cy="178" r="3.05"/><circle cx="256.4" cy="265.7" r="3.05"/><circle cx="199.3" cy="200.9" r="3.05"/><circle cx="221.8" cy="221" r="3.05"/><circle cx="214.2" cy="186.8" r="3.05"/><circle cx="245.4" cy="167.6" r="3.05"/><circle cx="240.7" cy="175.8" r="3.05"/><circle cx="187.7" cy="151.9" r="3.05"/><circle cx="258.3" cy="178.7" r="3.05"/><circle cx="167.2" cy="153.2" r="3.05"/><circle cx="171.4" cy="226.9" r="3.05"/><circle cx="269.5" cy="309.4" r="3.05"/><circle cx="224.1" cy="210.6" r="3.05"/><circle cx="168.5" cy="160.8" r="3.05"/><circle cx="243" cy="223.8" r="3.05"/><circle cx="233.3" cy="241.9" r="3.05"/><circle cx="215.4" cy="258.5" r="3.05"/><circle cx="210" cy="163.6" r="3.05"/><circle cx="189.1" cy="200.2" r="3.05"/><circle cx="286.4" cy="229.5" r="3.05"/><circle cx="153.6" cy="163.3" r="3.05"/><circle cx="274.4" cy="214.2" r="3.05"/><circle cx="246.5" cy="280.7" r="3.05"/><circle cx="195.2" cy="220.7" r="3.05"/><circle cx="260.7" cy="215.2" r="3.05"/><circle cx="211.9" cy="156.1" r="3.05"/><circle cx="210" cy="207.4" r="3.05"/><circle cx="209.7" cy="194.7" r="3.05"/><circle cx="170.2" cy="170.4" r="3.05"/><circle cx="162.3" cy="187.2" r="3.05"/><circle cx="264.7" cy="317.5" r="3.05"/><circle cx="167" cy="206.4" r="3.05"/><circle cx="213.9" cy="260.2" r="3.05"/><circle cx="258.1" cy="301.7" r="3.05"/><circle cx="217.5" cy="218" r="3.05"/><circle cx="220.5" cy="246.2" r="3.05"/><circle cx="157.8" cy="164.9" r="3.05"/><circle cx="264.4" cy="211.4" r="3.05"/><circle cx="244.4" cy="166.8" r="3.05"/><circle cx="186.5" cy="178.7" r="3.05"/><circle cx="251.8" cy="182" r="3.05"/><circle cx="277.4" cy="230.6" r="3.05"/><circle cx="289.3" cy="278.1" r="3.05"/><circle cx="196.4" cy="172.4" r="3.05"/><circle cx="260.2" cy="291" r="3.05"/><circle cx="235.3" cy="180" r="3.05"/><circle cx="260.9" cy="246.4" r="3.05"/><circle cx="272" cy="240.2" r="3.05"/><circle cx="166.6" cy="170.8" r="3.05"/><circle cx="201.9" cy="237.3" r="3.05"/><circle cx="183" cy="212.3" r="3.05"/><circle cx="296.4" cy="257.3" r="3.05"/><circle cx="262.9" cy="314.9" r="3.05"/><circle cx="282" cy="293.7" r="3.05"/><circle cx="232.8" cy="286.5" r="3.05"/><circle cx="198.2" cy="225.8" r="3.05"/><circle cx="294.1" cy="243.6" r="3.05"/><circle cx="175.8" cy="200.8" r="3.05"/><circle cx="231.5" cy="223.7" r="3.05"/><circle cx="247.5" cy="227.6" r="3.05"/><circle cx="262.3" cy="261.4" r="3.05"/><circle cx="277" cy="234.9" r="3.05"/><circle cx="175.4" cy="184.8" r="3.05"/><circle cx="223.1" cy="263.5" r="3.05"/><circle cx="223.6" cy="207.8" r="3.05"/><circle cx="271.8" cy="306.6" r="3.05"/><circle cx="242" cy="223.4" r="3.05"/><circle cx="184.5" cy="235.5" r="3.05"/><circle cx="263.8" cy="248.6" r="3.05"/><circle cx="263.6" cy="274" r="3.05"/><circle cx="195.7" cy="145.8" r="3.05"/><circle cx="271.5" cy="210.1" r="3.05"/><circle cx="168" cy="173.9" r="3.05"/><circle cx="201.8" cy="231.9" r="3.05"/><circle cx="243.3" cy="240.1" r="3.05"/><circle cx="159" cy="191.2" r="3.05"/><circle cx="160.7" cy="195.2" r="3.05"/><circle cx="254.9" cy="199.2" r="3.05"/><circle cx="261.6" cy="271.3" r="3.05"/><circle cx="205.5" cy="207.7" r="3.05"/><circle cx="244.3" cy="208.8" r="3.05"/><circle cx="208.7" cy="226.5" r="3.05"/><circle cx="170.4" cy="202" r="3.05"/><circle cx="270.8" cy="296.9" r="3.05"/><circle cx="256.7" cy="163" r="3.05"/><circle cx="271.9" cy="226.4" r="3.05"/><circle cx="247.7" cy="287.8" r="3.05"/><circle cx="200.2" cy="196.8" r="3.05"/><circle cx="253.9" cy="222.3" r="3.05"/><circle cx="286.7" cy="290.5" r="3.05"/><circle cx="203.3" cy="177.5" r="3.05"/><circle cx="194.6" cy="257.6" r="3.05"/><circle cx="234.4" cy="187.8" r="3.05"/><circle cx="175.7" cy="207.6" r="3.05"/><circle cx="230.8" cy="207.2" r="3.05"/><circle cx="180.9" cy="193.1" r="3.05"/><circle cx="214.5" cy="194.4" r="3.05"/><circle cx="168.3" cy="221.1" r="3.05"/><circle cx="182.9" cy="205.8" r="3.05"/><circle cx="224.9" cy="192" r="3.05"/><circle cx="283.5" cy="211.8" r="3.05"/><circle cx="157" cy="213" r="3.05"/><circle cx="221.1" cy="146.7" r="3.05"/><circle cx="256.8" cy="156.7" r="3.05"/><circle cx="267.9" cy="300.1" r="3.05"/><circle cx="182.4" cy="200.4" r="3.05"/><circle cx="214.9" cy="263.8" r="3.05"/><circle cx="173.6" cy="181.8" r="3.05"/><circle cx="280.6" cy="298" r="3.05"/><circle cx="241.1" cy="253.6" r="3.05"/><circle cx="246.6" cy="162.6" r="3.05"/><circle cx="187.3" cy="222.1" r="3.05"/><circle cx="241.1" cy="178.7" r="3.05"/><circle cx="274.6" cy="292" r="3.05"/><circle cx="147.3" cy="201.6" r="3.05"/><circle cx="268.4" cy="180.1" r="3.05"/><circle cx="259.8" cy="305" r="3.05"/><circle cx="190" cy="189.7" r="3.05"/><circle cx="199.1" cy="146.9" r="3.05"/><circle cx="269.4" cy="272.6" r="3.05"/><circle cx="223.8" cy="215.3" r="3.05"/><circle cx="200.1" cy="191.4" r="3.05"/><circle cx="248.1" cy="233" r="3.05"/><circle cx="167.3" cy="185" r="3.05"/><circle cx="227.6" cy="148.7" r="3.05"/><circle cx="164" cy="226.1" r="3.05"/><circle cx="248.5" cy="152.3" r="3.05"/><circle cx="149.9" cy="184.8" r="3.05"/><circle cx="232.6" cy="208.3" r="3.05"/><circle cx="200.5" cy="213.2" r="3.05"/><circle cx="201.9" cy="233.1" r="3.05"/><circle cx="184.4" cy="154.4" r="3.05"/><circle cx="221.8" cy="159.1" r="3.05"/><circle cx="259.4" cy="261.5" r="3.05"/><circle cx="242.3" cy="162.7" r="3.05"/><circle cx="208.7" cy="228.3" r="3.05"/><circle cx="278.9" cy="273.1" r="3.05"/><circle cx="161.9" cy="197.7" r="3.05"/><circle cx="209.2" cy="197.6" r="3.05"/><circle cx="250.3" cy="275.4" r="3.05"/><circle cx="230.1" cy="149.1" r="3.05"/><circle cx="164.6" cy="163.8" r="3.05"/><circle cx="181.9" cy="211.1" r="3.05"/><circle cx="195.8" cy="181.6" r="3.05"/><circle cx="313.3" cy="165.4" r="3.05"/><circle cx="286.6" cy="214.7" r="3.05"/><circle cx="291.6" cy="210.7" r="3.05"/><circle cx="330.9" cy="196.8" r="3.05"/><circle cx="328.1" cy="189.2" r="3.05"/><circle cx="323.8" cy="230.4" r="3.05"/><circle cx="341.2" cy="177.4" r="3.05"/><circle cx="326.5" cy="258.2" r="3.05"/><circle cx="275.5" cy="297.4" r="3.05"/><circle cx="280.8" cy="229.4" r="3.05"/><circle cx="293.5" cy="293.7" r="3.05"/><circle cx="290.9" cy="155.1" r="3.05"/><circle cx="329.8" cy="168.6" r="3.05"/><circle cx="308.8" cy="267" r="3.05"/><circle cx="281.9" cy="235.3" r="3.05"/><circle cx="297.7" cy="209" r="3.05"/><circle cx="315.7" cy="216.1" r="3.05"/><circle cx="286.7" cy="161.1" r="3.05"/><circle cx="337.1" cy="235.7" r="3.05"/><circle cx="321.5" cy="177.6" r="3.05"/><circle cx="291.5" cy="192.6" r="3.05"/><circle cx="329.2" cy="152.9" r="3.05"/><circle cx="287.7" cy="226.5" r="3.05"/><circle cx="301.8" cy="299.1" r="3.05"/><circle cx="294.2" cy="174.9" r="3.05"/><circle cx="321.5" cy="209.4" r="3.05"/><circle cx="289.9" cy="221.1" r="3.05"/><circle cx="299.5" cy="221" r="3.05"/><circle cx="279" cy="297.4" r="3.05"/><circle cx="327.5" cy="261.1" r="3.05"/><circle cx="271.5" cy="322" r="3.05"/><circle cx="304.6" cy="245" r="3.05"/><circle cx="285.7" cy="164.3" r="3.05"/><circle cx="280.4" cy="189.1" r="3.05"/><circle cx="321.7" cy="237.2" r="3.05"/><circle cx="317.8" cy="238.7" r="3.05"/><circle cx="322.3" cy="163.9" r="3.05"/><circle cx="337.9" cy="196.4" r="3.05"/><circle cx="288.8" cy="161.8" r="3.05"/><circle cx="314.7" cy="202.9" r="3.05"/><circle cx="292.1" cy="282.4" r="3.05"/><circle cx="272.8" cy="301" r="3.05"/><circle cx="283.5" cy="209.1" r="3.05"/><circle cx="335.1" cy="187" r="3.05"/><circle cx="320.9" cy="185.5" r="3.05"/><circle cx="337.9" cy="209.9" r="3.05"/><circle cx="321.6" cy="201.4" r="3.05"/><circle cx="331.3" cy="183.7" r="3.05"/><circle cx="263.8" cy="298.1" r="3.05"/><circle cx="323.5" cy="151.5" r="3.05"/><circle cx="283.7" cy="184.6" r="3.05"/><circle cx="306.9" cy="251.3" r="3.05"/><circle cx="289.4" cy="226.4" r="3.05"/><circle cx="274.6" cy="269.9" r="3.05"/><circle cx="283.6" cy="266" r="3.05"/><circle cx="287.6" cy="316.5" r="3.05"/><circle cx="284.5" cy="174.6" r="3.05"/><circle cx="267.2" cy="296.9" r="3.05"/><circle cx="286.7" cy="255.7" r="3.05"/><circle cx="329.4" cy="159.6" r="3.05"/><circle cx="296.7" cy="178.3" r="3.05"/><circle cx="291.9" cy="204.8" r="3.05"/><circle cx="314" cy="291.4" r="3.05"/><circle cx="294.6" cy="185.2" r="3.05"/><circle cx="261.1" cy="300.6" r="3.05"/><circle cx="282.8" cy="259.2" r="3.05"/><circle cx="301.3" cy="291.6" r="3.05"/><circle cx="317.6" cy="255.8" r="3.05"/><circle cx="282.7" cy="232.1" r="3.05"/><circle cx="269.1" cy="306.6" r="3.05"/><circle cx="328.6" cy="184.8" r="3.05"/><circle cx="318.5" cy="155.1" r="3.05"/><circle cx="289.7" cy="155.2" r="3.05"/><circle cx="284.8" cy="171" r="3.05"/><circle cx="331.5" cy="174.6" r="3.05"/><circle cx="285.2" cy="244" r="3.05"/><circle cx="303.6" cy="232.1" r="3.05"/><circle cx="311" cy="210.9" r="3.05"/><circle cx="307.6" cy="267.1" r="3.05"/><circle cx="283.9" cy="289.6" r="3.05"/><circle cx="298.4" cy="246.4" r="3.05"/><circle cx="281.7" cy="216.4" r="3.05"/><circle cx="295.9" cy="174.5" r="3.05"/><circle cx="302.5" cy="261.9" r="3.05"/><circle cx="300.9" cy="269.9" r="3.05"/><circle cx="322.9" cy="186.9" r="3.05"/><circle cx="311.1" cy="228.7" r="3.05"/><circle cx="301.9" cy="240.7" r="3.05"/><circle cx="292.5" cy="161.6" r="3.05"/><circle cx="273.8" cy="162.4" r="3.05"/><circle cx="335.5" cy="238.8" r="3.05"/><circle cx="319.3" cy="156.5" r="3.05"/><circle cx="319.2" cy="149.7" r="3.05"/><circle cx="340.1" cy="208.6" r="3.05"/><circle cx="279.2" cy="184.1" r="3.05"/><circle cx="321.3" cy="226.5" r="3.05"/><circle cx="341.3" cy="210.1" r="3.05"/><circle cx="281.5" cy="144.2" r="3.05"/><circle cx="331" cy="173.2" r="3.05"/><circle cx="315.1" cy="148" r="3.05"/><circle cx="298.1" cy="157" r="3.05"/><circle cx="293.4" cy="296.4" r="3.05"/><circle cx="334.5" cy="197.1" r="3.05"/><circle cx="324.2" cy="263.4" r="3.05"/><circle cx="340.9" cy="234.2" r="3.05"/><circle cx="328.4" cy="195.1" r="3.05"/><circle cx="307" cy="260.4" r="3.05"/><circle cx="336.1" cy="228.3" r="3.05"/><circle cx="291.3" cy="159" r="3.05"/><circle cx="279.9" cy="203.1" r="3.05"/><circle cx="306.1" cy="208.5" r="3.05"/><circle cx="299.1" cy="213.9" r="3.05"/><circle cx="340.9" cy="174.3" r="3.05"/><circle cx="299.7" cy="232.5" r="3.05"/><circle cx="295.5" cy="260.6" r="3.05"/><circle cx="273.5" cy="147.6" r="3.05"/><circle cx="282.2" cy="284.4" r="3.05"/><circle cx="300.8" cy="257.2" r="3.05"/><circle cx="301.4" cy="227.8" r="3.05"/><circle cx="302" cy="256.8" r="3.05"/><circle cx="322" cy="228.3" r="3.05"/><circle cx="282.2" cy="157.2" r="3.05"/><circle cx="292.8" cy="268.8" r="3.05"/><circle cx="288.9" cy="154.6" r="3.05"/><circle cx="329.4" cy="149.8" r="3.05"/><circle cx="328.3" cy="205.9" r="3.05"/><circle cx="290.6" cy="181.6" r="3.05"/><circle cx="308.4" cy="203.1" r="3.05"/><circle cx="316.9" cy="170.1" r="3.05"/><circle cx="312.9" cy="228.3" r="3.05"/><circle cx="278.3" cy="178.5" r="3.05"/><circle cx="304.7" cy="255.9" r="3.05"/><circle cx="312" cy="191.1" r="3.05"/><circle cx="325.9" cy="237.3" r="3.05"/><circle cx="336" cy="172.2" r="3.05"/><circle cx="282.9" cy="150.3" r="3.05"/><circle cx="313.7" cy="206.6" r="3.05"/><circle cx="329.8" cy="208.7" r="3.05"/><circle cx="336.3" cy="167.5" r="3.05"/><circle cx="311.4" cy="283.4" r="3.05"/><circle cx="320.5" cy="161" r="3.05"/><circle cx="309.5" cy="171.9" r="3.05"/><circle cx="331.6" cy="189" r="3.05"/><circle cx="318.2" cy="211.6" r="3.05"/><circle cx="315.5" cy="267.9" r="3.05"/><circle cx="272.6" cy="292.4" r="3.05"/><circle cx="335.5" cy="200.7" r="3.05"/><circle cx="290.8" cy="242.7" r="3.05"/><circle cx="329.4" cy="225.1" r="3.05"/><circle cx="310.5" cy="175.5" r="3.05"/><circle cx="288.9" cy="216.8" r="3.05"/><circle cx="343.6" cy="232.5" r="3.05"/><circle cx="292.1" cy="245.7" r="3.05"/><circle cx="314.7" cy="173.6" r="3.05"/><circle cx="310.4" cy="283.6" r="3.05"/><circle cx="308.6" cy="182.4" r="3.05"/><circle cx="289.9" cy="284.6" r="3.05"/><circle cx="325.6" cy="178.7" r="3.05"/><circle cx="282.4" cy="227.4" r="3.05"/><circle cx="306.2" cy="171.3" r="3.05"/><circle cx="300.8" cy="147" r="3.05"/><circle cx="312.6" cy="212.7" r="3.05"/><circle cx="295.4" cy="288.1" r="3.05"/><circle cx="308.3" cy="140.3" r="3.05"/><circle cx="297" cy="259.6" r="3.05"/><circle cx="302.5" cy="231.6" r="3.05"/><circle cx="327.6" cy="191.6" r="3.05"/><circle cx="284.6" cy="155.2" r="3.05"/><circle cx="291.3" cy="218.9" r="3.05"/><circle cx="296.5" cy="212.2" r="3.05"/><circle cx="287.6" cy="145.1" r="3.05"/><circle cx="281" cy="251.6" r="3.05"/><circle cx="344.6" cy="226.3" r="3.05"/><circle cx="279.3" cy="152.2" r="3.05"/><circle cx="311.5" cy="199.7" r="3.05"/><circle cx="272.5" cy="315.6" r="3.05"/><circle cx="340.2" cy="217.5" r="3.05"/><circle cx="288.7" cy="152.8" r="3.05"/><circle cx="339.2" cy="166.3" r="3.05"/><circle cx="301.4" cy="293.7" r="3.05"/><circle cx="319.8" cy="198.7" r="3.05"/><circle cx="274.3" cy="314.2" r="3.05"/><circle cx="323.3" cy="185.3" r="3.05"/><circle cx="317.9" cy="276.4" r="3.05"/><circle cx="278.3" cy="274.5" r="3.05"/><circle cx="265" cy="308.6" r="3.05"/><circle cx="337.6" cy="190" r="3.05"/><circle cx="295" cy="308" r="3.05"/><circle cx="299.3" cy="174.4" r="3.05"/><circle cx="289" cy="226.5" r="3.05"/><circle cx="272.3" cy="312.5" r="3.05"/><circle cx="335.3" cy="200.9" r="3.05"/><circle cx="311.5" cy="241.1" r="3.05"/><circle cx="306.3" cy="186.6" r="3.05"/><circle cx="271.1" cy="292.7" r="3.05"/><circle cx="283.8" cy="194.1" r="3.05"/><circle cx="324.5" cy="236.9" r="3.05"/><circle cx="333.6" cy="190.6" r="3.05"/><circle cx="285.1" cy="247.2" r="3.05"/><circle cx="322.8" cy="231.6" r="3.05"/><circle cx="331.7" cy="242.7" r="3.05"/><circle cx="311" cy="269" r="3.05"/><circle cx="291.8" cy="158.4" r="3.05"/><circle cx="272.7" cy="311.7" r="3.05"/><circle cx="329.3" cy="238.1" r="3.05"/><circle cx="305.1" cy="237" r="3.05"/><circle cx="283.2" cy="304.9" r="3.05"/><circle cx="280.2" cy="140.7" r="3.05"/><circle cx="288.6" cy="158" r="3.05"/><circle cx="344.2" cy="218.4" r="3.05"/><circle cx="273.4" cy="296.1" r="3.05"/><circle cx="272.4" cy="274.5" r="3.05"/><circle cx="330.8" cy="249.5" r="3.05"/><circle cx="308.9" cy="241.7" r="3.05"/><circle cx="275.7" cy="301.1" r="3.05"/><circle cx="338.2" cy="203.8" r="3.05"/><circle cx="280.8" cy="169.5" r="3.05"/><circle cx="294.5" cy="158.8" r="3.05"/><circle cx="272.8" cy="271.3" r="3.05"/><circle cx="332.4" cy="250.3" r="3.05"/><circle cx="330.8" cy="197.9" r="3.05"/><circle cx="284.6" cy="230.2" r="3.05"/><circle cx="318.9" cy="243.1" r="3.05"/><circle cx="326.3" cy="232.4" r="3.05"/><circle cx="289.8" cy="156.2" r="3.05"/><circle cx="325.6" cy="174.9" r="3.05"/><circle cx="300.7" cy="177.9" r="3.05"/><circle cx="277.4" cy="248.6" r="3.05"/><circle cx="340.9" cy="198.1" r="3.05"/><circle cx="335.2" cy="183.7" r="3.05"/><circle cx="293.3" cy="184.6" r="3.05"/><circle cx="303.9" cy="301" r="3.05"/><circle cx="297.6" cy="189.5" r="3.05"/><circle cx="291.6" cy="283.2" r="3.05"/><circle cx="305.7" cy="267.4" r="3.05"/><circle cx="268.7" cy="283.8" r="3.05"/><circle cx="307.9" cy="235" r="3.05"/><circle cx="336.1" cy="179.8" r="3.05"/><circle cx="309.7" cy="292.6" r="3.05"/><circle cx="284.1" cy="160.5" r="3.05"/><circle cx="274.2" cy="237" r="3.05"/><circle cx="280.7" cy="147.8" r="3.05"/><circle cx="308.1" cy="242" r="3.05"/><circle cx="308.5" cy="232.9" r="3.05"/><circle cx="334.1" cy="245.9" r="3.05"/><circle cx="273.7" cy="287" r="3.05"/><circle cx="277.3" cy="141.6" r="3.05"/><circle cx="274.2" cy="142.1" r="3.05"/><circle cx="312.7" cy="163" r="3.05"/><circle cx="337.7" cy="211.2" r="3.05"/><circle cx="321.8" cy="255" r="3.05"/><circle cx="274.2" cy="142.2" r="3.05"/><circle cx="314.3" cy="277.7" r="3.05"/><circle cx="295.4" cy="149" r="3.05"/><circle cx="295.3" cy="264.7" r="3.05"/><circle cx="286.8" cy="294.4" r="3.05"/><circle cx="324.9" cy="268.3" r="3.05"/><circle cx="322.6" cy="267" r="3.05"/><circle cx="297.5" cy="309.3" r="3.05"/><circle cx="315.3" cy="209" r="3.05"/><circle cx="287" cy="227.3" r="3.05"/><circle cx="326" cy="187.7" r="3.05"/><circle cx="269.3" cy="276.1" r="3.05"/><circle cx="264.4" cy="291.9" r="3.05"/><circle cx="311.3" cy="291.4" r="3.05"/><circle cx="308.5" cy="218.7" r="3.05"/><circle cx="286.6" cy="228.6" r="3.05"/><circle cx="285.4" cy="281" r="3.05"/><circle cx="338.3" cy="244.8" r="3.05"/><circle cx="338.3" cy="199.6" r="3.05"/><circle cx="286" cy="206.2" r="3.05"/><circle cx="309.4" cy="175.4" r="3.05"/><circle cx="296.6" cy="146.9" r="3.05"/><circle cx="320.2" cy="273.4" r="3.05"/><circle cx="297.4" cy="221.7" r="3.05"/><circle cx="307.3" cy="150.8" r="3.05"/><circle cx="268.6" cy="302.7" r="3.05"/><circle cx="308.2" cy="160.9" r="3.05"/><circle cx="322.4" cy="168.3" r="3.05"/><circle cx="329.4" cy="184.1" r="3.05"/><circle cx="320.5" cy="181.8" r="3.05"/><circle cx="286.8" cy="204.6" r="3.05"/><circle cx="302.6" cy="299.6" r="3.05"/><circle cx="287.8" cy="285.4" r="3.05"/><circle cx="321.9" cy="156.7" r="3.05"/><circle cx="301.6" cy="205.7" r="3.05"/><circle cx="312.5" cy="141.8" r="3.05"/><circle cx="335.5" cy="158.8" r="3.05"/><circle cx="279" cy="289.6" r="3.05"/><circle cx="336.2" cy="189.6" r="3.05"/><circle cx="307.1" cy="252.6" r="3.05"/><circle cx="279.6" cy="213" r="3.05"/><circle cx="319.4" cy="212.6" r="3.05"/><circle cx="289.4" cy="202" r="3.05"/><circle cx="303.1" cy="173.3" r="3.05"/><circle cx="287" cy="216.7" r="3.05"/><circle cx="291.7" cy="213.9" r="3.05"/><circle cx="302.5" cy="227.8" r="3.05"/><circle cx="278" cy="293.5" r="3.05"/><circle cx="273" cy="159.4" r="3.05"/><circle cx="289.1" cy="169.2" r="3.05"/><circle cx="312.1" cy="227.4" r="3.05"/><circle cx="324.3" cy="267.8" r="3.05"/><circle cx="302.4" cy="191.1" r="3.05"/><circle cx="279.5" cy="213" r="3.05"/><circle cx="288.1" cy="278" r="3.05"/><circle cx="290.5" cy="259.2" r="3.05"/><circle cx="297.9" cy="194.3" r="3.05"/><circle cx="317.8" cy="261.2" r="3.05"/><circle cx="295.3" cy="157.4" r="3.05"/><circle cx="306.6" cy="160.7" r="3.05"/><circle cx="314.5" cy="207.2" r="3.05"/><circle cx="307.2" cy="223.1" r="3.05"/><circle cx="296.3" cy="232.5" r="3.05"/><circle cx="290.8" cy="219" r="3.05"/><circle cx="277.9" cy="227.6" r="3.05"/><circle cx="273.6" cy="151.8" r="3.05"/><circle cx="273.3" cy="319" r="3.05"/><circle cx="309.1" cy="297.1" r="3.05"/><circle cx="293.6" cy="160.7" r="3.05"/><circle cx="290.5" cy="190.7" r="3.05"/><circle cx="327" cy="266.5" r="3.05"/><circle cx="304.6" cy="163.6" r="3.05"/><circle cx="292.5" cy="152.2" r="3.05"/><circle cx="335.9" cy="247.4" r="3.05"/><circle cx="313.8" cy="231.9" r="3.05"/><circle cx="270" cy="155.7" r="3.05"/><circle cx="298.4" cy="222.4" r="3.05"/><circle cx="298.1" cy="201.7" r="3.05"/><circle cx="271.3" cy="281.5" r="3.05"/><circle cx="458" cy="186.3" r="3.05"/><circle cx="391" cy="206.5" r="3.05"/><circle cx="403.8" cy="194.3" r="3.05"/><circle cx="416.3" cy="208.2" r="3.05"/><circle cx="465.4" cy="206.3" r="3.05"/><circle cx="421.1" cy="194.9" r="3.05"/><circle cx="425" cy="217.2" r="3.05"/><circle cx="402.2" cy="218.4" r="3.05"/><circle cx="391.7" cy="223.9" r="3.05"/><circle cx="417.2" cy="196.3" r="3.05"/><circle cx="420" cy="194.3" r="3.05"/><circle cx="401.5" cy="219.7" r="3.05"/><circle cx="458.4" cy="195.7" r="3.05"/><circle cx="449.7" cy="181.6" r="3.05"/><circle cx="466.8" cy="199.3" r="3.05"/><circle cx="427.3" cy="184" r="3.05"/><circle cx="458.1" cy="194.1" r="3.05"/><circle cx="462.2" cy="193.9" r="3.05"/><circle cx="464.2" cy="220.7" r="3.05"/><circle cx="396.1" cy="197" r="3.05"/><circle cx="444.3" cy="204.5" r="3.05"/><circle cx="457.8" cy="195.7" r="3.05"/><circle cx="430.4" cy="198" r="3.05"/><circle cx="401.2" cy="201.9" r="3.05"/><circle cx="446.9" cy="199.7" r="3.05"/><circle cx="436.7" cy="191.3" r="3.05"/><circle cx="438.3" cy="221" r="3.05"/><circle cx="447.7" cy="178.2" r="3.05"/><circle cx="447.8" cy="220.6" r="3.05"/><circle cx="469.1" cy="213.2" r="3.05"/><circle cx="413.1" cy="183.2" r="3.05"/><circle cx="422.5" cy="202.9" r="3.05"/><circle cx="444.2" cy="197.4" r="3.05"/><circle cx="408.1" cy="185.5" r="3.05"/><circle cx="461.9" cy="217.7" r="3.05"/><circle cx="322.9" cy="129.5" r="3.05"/><circle cx="294.2" cy="123.3" r="3.05"/><circle cx="328.1" cy="120" r="3.05"/><circle cx="315.5" cy="112.4" r="3.05"/><circle cx="288.5" cy="101.2" r="3.05"/><circle cx="303.3" cy="108.6" r="3.05"/><circle cx="318.5" cy="109.6" r="3.05"/><circle cx="329" cy="124.4" r="3.05"/><circle cx="317.9" cy="126.4" r="3.05"/><circle cx="305.7" cy="127.9" r="3.05"/><circle cx="327.8" cy="120.6" r="3.05"/><circle cx="315.9" cy="127.6" r="3.05"/><circle cx="298.4" cy="111" r="3.05"/><circle cx="319.6" cy="127.1" r="3.05"/><circle cx="307.4" cy="116.2" r="3.05"/><circle cx="296.7" cy="122.9" r="3.05"/><circle cx="322.3" cy="135.9" r="3.05"/><circle cx="293.1" cy="107.7" r="3.05"/><circle cx="318.3" cy="119.8" r="3.05"/><circle cx="313.8" cy="131.5" r="3.05"/><circle cx="308.2" cy="108.3" r="3.05"/><circle cx="320.4" cy="119.1" r="3.05"/><circle cx="310.1" cy="124" r="3.05"/><circle cx="307.8" cy="109.5" r="3.05"/><circle cx="300.3" cy="116.8" r="3.05"/><circle cx="298.4" cy="119.1" r="3.05"/><circle cx="304.9" cy="124.4" r="3.05"/><circle cx="306.1" cy="118.8" r="3.05"/><circle cx="325.3" cy="110.3" r="3.05"/><circle cx="316.2" cy="120.1" r="3.05"/><circle cx="321.3" cy="136" r="3.05"/><circle cx="312.2" cy="115" r="3.05"/><circle cx="318.6" cy="139.7" r="3.05"/><circle cx="308.9" cy="126.1" r="3.05"/><circle cx="327.2" cy="127.5" r="3.05"/><circle cx="323.5" cy="131.8" r="3.05"/><circle cx="316.4" cy="105.5" r="3.05"/><circle cx="310.4" cy="118.3" r="3.05"/><circle cx="317.4" cy="122.8" r="3.05"/><circle cx="314.3" cy="118.9" r="3.05"/><circle cx="243.2" cy="130.2" r="3.05"/><circle cx="269.2" cy="110.4" r="3.05"/><circle cx="234.6" cy="132" r="3.05"/><circle cx="229.6" cy="122.8" r="3.05"/><circle cx="241.2" cy="129.3" r="3.05"/><circle cx="263.7" cy="109.6" r="3.05"/><circle cx="298.6" cy="112.4" r="3.05"/><circle cx="183.7" cy="137.2" r="3.05"/><circle cx="189.3" cy="121.6" r="3.05"/><circle cx="258.4" cy="107.6" r="3.05"/><circle cx="251.6" cy="119.4" r="3.05"/><circle cx="177.7" cy="138.4" r="3.05"/><circle cx="284.7" cy="114.2" r="3.05"/><circle cx="174.6" cy="136.1" r="3.05"/><circle cx="203.3" cy="124.3" r="3.05"/><circle cx="189.3" cy="125.2" r="3.05"/><circle cx="267.5" cy="112.4" r="3.05"/><circle cx="263" cy="124.2" r="3.05"/><circle cx="179.2" cy="131.1" r="3.05"/><circle cx="265.4" cy="109.3" r="3.05"/><circle cx="182.3" cy="142" r="3.05"/><circle cx="275.9" cy="119.5" r="3.05"/><circle cx="254.1" cy="112.4" r="3.05"/><circle cx="297.1" cy="121.6" r="3.05"/><circle cx="154.8" cy="125.4" r="3.05"/><circle cx="192" cy="120.7" r="3.05"/><circle cx="153.1" cy="133.1" r="3.05"/><circle cx="220.5" cy="118" r="3.05"/><circle cx="284.4" cy="112.3" r="3.05"/><circle cx="152.1" cy="141.6" r="3.05"/><circle cx="245.3" cy="103.2" r="3.05"/><circle cx="210.5" cy="113.3" r="3.05"/><circle cx="202.9" cy="130.3" r="3.05"/><circle cx="151.4" cy="146.8" r="3.05"/><circle cx="178.7" cy="125.2" r="3.05"/><circle cx="271.8" cy="110.5" r="3.05"/><circle cx="242.6" cy="133.8" r="3.05"/><circle cx="239.5" cy="118.1" r="3.05"/><circle cx="207.4" cy="125.5" r="3.05"/><circle cx="216.7" cy="117" r="3.05"/><circle cx="198.2" cy="136.3" r="3.05"/><circle cx="156.2" cy="135.3" r="3.05"/><circle cx="228.3" cy="121.6" r="3.05"/><circle cx="190.4" cy="134" r="3.05"/><circle cx="269.1" cy="103.3" r="3.05"/><circle cx="184.5" cy="129.9" r="3.05"/><circle cx="158.6" cy="140.6" r="3.05"/><circle cx="291.1" cy="105.2" r="3.05"/><circle cx="233.2" cy="110.4" r="3.05"/><circle cx="268.1" cy="107.5" r="3.05"/><circle cx="284.8" cy="119.1" r="3.05"/><circle cx="272.5" cy="123.7" r="3.05"/><circle cx="153.2" cy="129.2" r="3.05"/><circle cx="187.7" cy="114.1" r="3.05"/><circle cx="208.4" cy="115.1" r="3.05"/><circle cx="170.7" cy="139" r="3.05"/><circle cx="225.6" cy="119.8" r="3.05"/><circle cx="186" cy="140.3" r="3.05"/><circle cx="260.1" cy="129.2" r="3.05"/><circle cx="180.9" cy="126.8" r="3.05"/><circle cx="198.2" cy="124.5" r="3.05"/><circle cx="206.3" cy="131.5" r="3.05"/><circle cx="253.7" cy="124.3" r="3.05"/><circle cx="238.2" cy="115.8" r="3.05"/><circle cx="263.1" cy="129.1" r="3.05"/><circle cx="275.2" cy="110.4" r="3.05"/><circle cx="228.2" cy="113.4" r="3.05"/><circle cx="264.9" cy="120.4" r="3.05"/><circle cx="215.2" cy="132.2" r="3.05"/><circle cx="175.8" cy="134.4" r="3.05"/><circle cx="230.1" cy="119" r="3.05"/><circle cx="239.6" cy="119.5" r="3.05"/><circle cx="228.8" cy="108.6" r="3.05"/><circle cx="220" cy="113" r="3.05"/><circle cx="303" cy="121.5" r="3.05"/><circle cx="265.4" cy="107.1" r="3.05"/><circle cx="261.1" cy="102.2" r="3.05"/><circle cx="278.5" cy="105.8" r="3.05"/><circle cx="229.6" cy="118.6" r="3.05"/><circle cx="233.5" cy="128.4" r="3.05"/><circle cx="221.6" cy="136" r="3.05"/><circle cx="195.5" cy="117.2" r="3.05"/><circle cx="252.3" cy="130.2" r="3.05"/><circle cx="243.8" cy="131.2" r="3.05"/><circle cx="164.3" cy="125.4" r="3.05"/><circle cx="203.2" cy="133.6" r="3.05"/><circle cx="160.9" cy="134.3" r="3.05"/><circle cx="174.1" cy="127.8" r="3.05"/><circle cx="289.3" cy="105.2" r="3.05"/><circle cx="242.2" cy="113" r="3.05"/><circle cx="277" cy="100.7" r="3.05"/><circle cx="233.6" cy="108.7" r="3.05"/><circle cx="279.7" cy="125.1" r="3.05"/><circle cx="284" cy="119.7" r="3.05"/><circle cx="156.1" cy="124.7" r="3.05"/><circle cx="195.4" cy="115.8" r="3.05"/><circle cx="156" cy="124.7" r="3.05"/><circle cx="197.2" cy="122.5" r="3.05"/><circle cx="260.5" cy="118.5" r="3.05"/><circle cx="282.6" cy="120.5" r="3.05"/><circle cx="253.3" cy="104.2" r="3.05"/><circle cx="280.6" cy="114.5" r="3.05"/><circle cx="191" cy="115.3" r="3.05"/><circle cx="259.7" cy="122.6" r="3.05"/><circle cx="283.8" cy="114.1" r="3.05"/><circle cx="247.1" cy="119.8" r="3.05"/><circle cx="247.8" cy="107.3" r="3.05"/><circle cx="291.1" cy="115.5" r="3.05"/><circle cx="279.4" cy="124.6" r="3.05"/><circle cx="259.9" cy="108.9" r="3.05"/><circle cx="164.5" cy="135.5" r="3.05"/><circle cx="294.6" cy="116.8" r="3.05"/><circle cx="188" cy="136.9" r="3.05"/><circle cx="200.3" cy="124.3" r="3.05"/><circle cx="225" cy="126" r="3.05"/><circle cx="241.4" cy="118.7" r="3.05"/><circle cx="237.3" cy="130.6" r="3.05"/><circle cx="193.7" cy="128.3" r="3.05"/><circle cx="231.3" cy="122.2" r="3.05"/><circle cx="251.7" cy="101.2" r="3.05"/><circle cx="268.8" cy="35.7" r="3.05"/><circle cx="266.8" cy="43.3" r="3.05"/><circle cx="239.6" cy="64.9" r="3.05"/><circle cx="277.6" cy="64.3" r="3.05"/><circle cx="276.1" cy="73.6" r="3.05"/><circle cx="291" cy="76" r="3.05"/><circle cx="250.7" cy="78.9" r="3.05"/><circle cx="215.7" cy="83" r="3.05"/><circle cx="219.2" cy="88.2" r="3.05"/><circle cx="253.6" cy="84.7" r="3.05"/><circle cx="227.4" cy="91.2" r="3.05"/><circle cx="205.2" cy="95.3" r="3.05"/><circle cx="235.3" cy="95.3" r="3.05"/><circle cx="244.6" cy="93.2" r="3.05"/><circle cx="256.3" cy="90.3" r="3.05"/><circle cx="278.8" cy="88.8" r="3.05"/><circle cx="282.8" cy="87.4" r="3.05"/><circle cx="283.4" cy="93.5" r="3.05"/><circle cx="310.3" cy="77.7" r="3.05"/><circle cx="317.6" cy="102.8" r="3.05"/><circle cx="98.7" cy="155.3" r="3.05"/><circle cx="125.6" cy="167" r="3.05"/><circle cx="133.7" cy="162.8" r="3.05"/><circle cx="150" cy="147.6" r="3.05"/><circle cx="155.2" cy="135.2" r="3.05"/><circle cx="163" cy="121.2" r="3.05"/><circle cx="170" cy="121.2" r="3.05"/><circle cx="180.5" cy="128.9" r="3.05"/><circle cx="191" cy="121.9" r="3.05"/><circle cx="199.2" cy="120.3" r="3.05"/><circle cx="205" cy="106.7" r="3.05"/><circle cx="205.5" cy="95.5" r="3.05"/><circle cx="215.5" cy="82.9" r="3.05"/><circle cx="219.7" cy="88.5" r="3.05"/><circle cx="227.2" cy="91.5" r="3.05"/><circle cx="235.4" cy="95.5" r="3.05"/><circle cx="238.9" cy="65.1" r="3.05"/><circle cx="397.9" cy="182.3" r="3.05"/><circle cx="401.8" cy="183.5" r="3.05"/><circle cx="414.2" cy="178.3" r="3.05"/><circle cx="411.9" cy="187" r="3.05"/><circle cx="415.4" cy="190.5" r="3.05"/><circle cx="420" cy="188.1" r="3.05"/><circle cx="423.6" cy="187" r="3.05"/><circle cx="434.1" cy="185.8" r="3.05"/><circle cx="407.2" cy="196.3" r="3.05"/><circle cx="390.1" cy="197" r="3.05"/><circle cx="403.7" cy="204.5" r="3.05"/><circle cx="415.4" cy="199.8" r="3.05"/><circle cx="428.2" cy="199.8" r="3.05"/><circle cx="435.2" cy="192.8" r="3.05"/><circle cx="439.9" cy="191.6" r="3.05"/><circle cx="443.4" cy="198.6" r="3.05"/><circle cx="450.4" cy="197.5" r="3.05"/><circle cx="620.8" cy="205.2" r="3.05"/><circle cx="614.5" cy="212.2" r="3.05"/><circle cx="592.8" cy="208.5" r="3.05"/><circle cx="590" cy="209.9" r="3.05"/><circle cx="395.5" cy="213.7" r="3.05"/><circle cx="401.8" cy="215.6" r="3.05"/><circle cx="397.1" cy="218.4" r="3.05"/><circle cx="411.9" cy="224.2" r="3.05"/><circle cx="417.7" cy="221.9" r="3.05"/><circle cx="395.5" cy="230" r="3.05"/><circle cx="397.9" cy="233.6" r="3.05"/><circle cx="387.8" cy="232.4" r="3.05"/><circle cx="408.4" cy="211.4" r="3.05"/><circle cx="417.7" cy="199.7" r="3.05"/><circle cx="431.7" cy="217.2" r="3.05"/><circle cx="434.1" cy="209" r="3.05"/><circle cx="441.1" cy="211.4" r="3.05"/><circle cx="444.6" cy="218.4" r="3.05"/><circle cx="438.7" cy="204.3" r="3.05"/><circle cx="277.4" cy="344.6" r="3.05"/><circle cx="288" cy="356.4" r="3.05"/><circle cx="360.2" cy="236.4" r="3.05"/><circle cx="366" cy="239.9" r="3.05"/><circle cx="373" cy="236.8" r="3.05"/><circle cx="362.5" cy="224.7" r="3.05"/><circle cx="368.4" cy="223.5" r="3.05"/><circle cx="375.4" cy="221.2" r="3.05"/><circle cx="347.3" cy="249.2" r="3.05"/><circle cx="349.7" cy="244.5" r="3.05"/><circle cx="98.8" cy="155.3" r="3.05"/><circle cx="106.8" cy="162.6" r="3.05"/><circle cx="108.2" cy="170.7" r="3.05"/><circle cx="114.1" cy="173.6" r="3.05"/><circle cx="110.4" cy="189.6" r="3.05"/><circle cx="118.5" cy="185" r="3.05"/><circle cx="121.4" cy="185.5" r="3.05"/><circle cx="123.6" cy="185.3" r="3.05"/><circle cx="108.2" cy="205.7" r="3.05"/><circle cx="125.8" cy="166.6" r="3.05"/><circle cx="138.2" cy="166.3" r="3.05"/><circle cx="133.8" cy="183.8" r="3.05"/><circle cx="138.9" cy="196.2" r="3.05"/><circle cx="135.3" cy="205.7" r="3.05"/><circle cx="145.5" cy="206" r="3.05"/><circle cx="145.5" cy="166.3" r="3.05"/><circle cx="373.1" cy="236.4" r="3.05"/><circle cx="365.5" cy="240.3" r="3.05"/><circle cx="360.9" cy="236.9" r="3.05"/><circle cx="349" cy="244.9" r="3.05"/><circle cx="347.8" cy="250.2" r="3.05"/><circle cx="336.3" cy="255.3" r="3.05"/><circle cx="354.7" cy="166.8" r="3.05"/><circle cx="362.1" cy="165.8" r="3.05"/><circle cx="372.6" cy="171.1" r="3.05"/><circle cx="380" cy="171.1" r="3.05"/><circle cx="365.3" cy="177.4" r="3.05"/><circle cx="372.6" cy="179.5" r="3.05"/><circle cx="381.1" cy="181.6" r="3.05"/><circle cx="351.6" cy="175.3" r="3.05"/><circle cx="353.7" cy="181.6" r="3.05"/><circle cx="345.3" cy="179.5" r="3.05"/><circle cx="347.4" cy="186.8" r="3.05"/><circle cx="351.6" cy="190" r="3.05"/><circle cx="356.8" cy="186.8" r="3.05"/><circle cx="365.3" cy="183.7" r="3.05"/><circle cx="366.3" cy="188.9" r="3.05"/><circle cx="370.5" cy="191.1" r="3.05"/><circle cx="358.9" cy="195.3" r="3.05"/><circle cx="355.8" cy="198.4" r="3.05"/><circle cx="362.1" cy="198.4" r="3.05"/><circle cx="370.5" cy="199.5" r="3.05"/><circle cx="375.8" cy="200.5" r="3.05"/><circle cx="381.1" cy="194.2" r="3.05"/><circle cx="390.5" cy="196.7" r="3.05"/><circle cx="351.6" cy="201.6" r="3.05"/><circle cx="357.9" cy="206.8" r="3.05"/><circle cx="345.3" cy="211.1" r="3.05"/><circle cx="351.6" cy="213.2" r="3.05"/><circle cx="358.9" cy="217.4" r="3.05"/><circle cx="370.5" cy="214.2" r="3.05"/><circle cx="375.8" cy="221.6" r="3.05"/><circle cx="382.1" cy="213.2" r="3.05"/><circle cx="363.2" cy="223.7" r="3.05"/><circle cx="365.3" cy="227.9" r="3.05"/><circle cx="372.6" cy="236.3" r="3.05"/><circle cx="361.1" cy="236.3" r="3.05"/><circle cx="365.3" cy="240.5" r="3.05"/><circle cx="349.5" cy="236.3" r="3.05"/><circle cx="347.4" cy="244.7" r="3.05"/><circle cx="396.8" cy="181.6" r="3.05"/><circle cx="396.8" cy="211.1" r="3.05"/><circle cx="397.9" cy="219.5" r="3.05"/><circle cx="395.8" cy="233.2" r="3.05"/><circle cx="385.3" cy="221.6" r="3.05"/><circle cx="384.2" cy="227.9" r="3.05"/></g>
<path d="M446.9 149.9h0M443.4 169h0M447.1 248.1h0M440.9 155.7h0M433.2 161.5h0M437.5 199.7h0M438.8 240h0M450.9 167.6h0M472.4 157.8h0M464.9 166.9h0M454.3 181.6h0M470.2 167.9h0M454.5 161.4h0M437.7 168.2h0M452.6 150.4h0M447.5 168.8h0M433.3 240.5h0M454.1 158.5h0M450.5 176.8h0M442.9 237.3h0M431.4 179.7h0M436.8 157.2h0M448 152.6h0M433.3 170h0M471.4 177.9h0M460.3 164.8h0M462.1 166.5h0M456.5 151.8h0M443.1 231.4h0M431.1 160.8h0M435.3 245h0M459.8 165.6h0M455.8 163h0M452.6 163.3h0M469.6 174.2h0M432.2 176.8h0M455.6 201.3h0M458.3 169.9h0M444.4 171.1h0M432 231.3h0M466.3 167h0M461.9 165.6h0M444.1 180.3h0M428.4 173.5h0M438.4 249.4h0M442.2 160.2h0M433.5 156.4h0M441.6 207.1h0M470.8 181.3h0M450.4 165.2h0M538.5 142.8h0M602.6 149.6h0M519.4 147.9h0M445.4 229.2h0M566.9 248.6h0M548.3 173.5h0M537.2 205.9h0M533.7 227.6h0M585.8 240.9h0M592.7 182.1h0M537 201.2h0M551.2 148.6h0M493.4 255h0M477.8 169.2h0M514.1 143.3h0M478.4 158.8h0M608.4 143.4h0M534.1 236.9h0M583.1 250.7h0M526.9 254h0M522.6 216.3h0M506.6 144.7h0M588.8 222.2h0M561.6 257.4h0M501.8 156.9h0M520 209.6h0M565.5 171.8h0M528.3 257.9h0M577.5 200.8h0M517.8 221.4h0M475.6 213.5h0M551 189.5h0M595.6 134.1h0M577.9 151.9h0M471.6 244.4h0M532.2 243.4h0M569.7 262.5h0M521.9 198.5h0M500.5 143.2h0M471.4 165.1h0M522.6 137.5h0M565.8 148.9h0M562.9 193.7h0M562.9 134.8h0M528.9 146.3h0M530.1 199.6h0M518.5 168.6h0M526.8 228.9h0M569.5 177.3h0M550.6 140.6h0M535.2 229.8h0M515 244.6h0M562.7 149.4h0M552.6 251.3h0M541.8 241.2h0M604.2 161.9h0M507.4 225h0M490.8 149.9h0M584.5 167.6h0M528.4 191.4h0M488.6 216h0M467.1 229.7h0M565.8 174.5h0M529.1 179.3h0M582.8 238.6h0M612.4 149.1h0M473.3 188.3h0M566.3 136.7h0M501.3 249.8h0M545 133.7h0M506.9 168.5h0M471 235.9h0M528.4 218.3h0M461.6 233.3h0M574.6 229.8h0M544.4 191.7h0M532.4 143.7h0M455.8 242.6h0M614.6 141.1h0M513.3 150.7h0M529.6 183.7h0M544 184.5h0M515.4 224.9h0M551.3 154.2h0M540.2 236.8h0M479.4 186.1h0M481.7 255.1h0M560 237.3h0M585.4 168.9h0M475.8 234.5h0M609.8 138.3h0M550.1 168.6h0M478.5 169.3h0M524 147.5h0M565.8 145.7h0M521.6 229.5h0M539.7 217.5h0M565.6 151.4h0M573.5 186.2h0M565.6 191.7h0M496 255.9h0M570.4 192.4h0M563.2 148.4h0M566 173.2h0M559.1 165.7h0M520.3 261.5h0M588.8 172.9h0M554.3 203.9h0M475 255.5h0M487.7 222.1h0M587 178.4h0M561.9 158.3h0M571.4 236.4h0M537.6 233.5h0M563 212.8h0M449.1 251.9h0M585.2 251h0M583.6 195.6h0M537.9 149.3h0M505.6 198.7h0M547.6 169.3h0M528.8 258.5h0M478.7 238.1h0M557.2 155.5h0M533.4 139.2h0M489.8 191.4h0M488.9 217.5h0M512.3 146.5h0M548.6 215.1h0M576.8 139.6h0M492.5 169.2h0M517.1 139.8h0M552.7 185.1h0M567.1 243.5h0M479 238.4h0M561.8 232.3h0M502.2 227.1h0M479.6 159.3h0M584.4 206.3h0M531.2 252.2h0M516.7 190.4h0M562.3 263.2h0M485.5 210.5h0M499.1 261.5h0M468 254.1h0M454.8 215.2h0M540.5 231.5h0M456.5 253.1h0M489.6 199.8h0M559.5 261.8h0M524.5 154.2h0M563.5 202h0M530.3 221.8h0M519 237h0M542.3 217.6h0M467.9 162h0M478.4 147.8h0M493.7 248.8h0M500.4 208.1h0M488.9 176.1h0M503.5 136.8h0M525.4 176.1h0M455.7 234h0M560.1 248.8h0M541.5 171.3h0M478 248.7h0M612.1 141.8h0M518.5 216.6h0M494.9 186.1h0M561.4 230.3h0M522.2 216.2h0M503.1 243.6h0M490.4 143.9h0M556.7 158.3h0M504.5 211h0M607 141.9h0M602.4 177.1h0M460 244.9h0M574.1 150.6h0M439.7 243.1h0M538.4 233.9h0M542.5 226h0M564.1 254.4h0M519.2 209.5h0M508.8 192.7h0M522.2 192.7h0M532.2 147.4h0M606 136.5h0M605 144.3h0M535.5 253.5h0M581.8 171.1h0M581.8 214.3h0M513.2 247.6h0M578.9 233.7h0M483.3 240.8h0M548.6 151.5h0M599.1 184.3h0M510.9 146.1h0M540.2 135.1h0M535.1 138.3h0M545.3 169.7h0M471.8 236.9h0M570.3 217.1h0M538.5 217h0M554.8 166.1h0M481.5 189.3h0M517.7 197h0M538.8 146.8h0M506.3 259.6h0M543.5 247.1h0M562.4 254.3h0M570.8 174.3h0M526.9 187h0M518.7 180.2h0M546.3 219.9h0M559.6 268.1h0M552.2 240.5h0M491.8 239.4h0M563.9 190.2h0M568.1 216.5h0M559.8 229.6h0M506.1 168.8h0M460.1 223.4h0M565.1 161.1h0M476.7 171.7h0M575 242.8h0M595.9 125.5h0M588.9 149.3h0M518.9 157.2h0M588.2 169.6h0M531.9 193.5h0M610.3 152.6h0M583.5 154.3h0M567.6 213.3h0M591.6 183.7h0M451.1 243.8h0M546.4 255.3h0M530.6 235.3h0M567.8 239h0M446 228.7h0M542 260h0M569.5 180.1h0M564 267.1h0M587.6 225.3h0M488 214.2h0M521.8 137.2h0M524.6 238.6h0M486.1 250.7h0M535.8 191.8h0M492.8 137.6h0M494.1 247.8h0M484.9 207.3h0M542.5 166.2h0M524 146.5h0M509.6 172.6h0M596.2 144.3h0M461.4 250.2h0M526.8 202.9h0M569.9 211.6h0M507.9 174.1h0M521.3 164.1h0M544.3 174.2h0M522.5 147.9h0M542.3 187.9h0M468 255.7h0M514.4 181h0M531.8 175.9h0M542 153.9h0M472.9 231.8h0M475 235.7h0M588 140.8h0M542.7 150.4h0M488.7 182h0M561.7 255h0M525.1 170.2h0M505.3 213h0M526.8 258.8h0M469.9 258h0M485.7 245.6h0M566.5 163.6h0M578.2 243.5h0M534.2 212.4h0M481.6 168.7h0M575.3 143.7h0M547.4 150.9h0M498.2 216.5h0M514.7 144.5h0M521.8 194.1h0M469.7 249.7h0M561.8 184.5h0M493.8 172.2h0M614.8 136.2h0M583.5 190.5h0M447.9 231.2h0M556.4 149.2h0M522.7 185.5h0M499.6 162.3h0M544.8 146.3h0M466.4 246h0M581.3 173.8h0M548.8 193h0M592.4 186.2h0M580.5 262.4h0M523.1 204.1h0M589.5 236.5h0M477.3 152.5h0M518.6 181.3h0M545.5 148.1h0M495.4 184.4h0M557.6 182h0M541.2 170.9h0M489.8 182h0M475.7 179.1h0M466.6 250.6h0M489.5 192.2h0M550.8 260.1h0M607.3 160h0M593.7 232.5h0M567.2 176.6h0M517.3 147.2h0M546.7 204.5h0M547.8 243.8h0M600 166.3h0M481.1 225.5h0M581.8 186.2h0M526.2 210.4h0M512.6 177h0M571.4 249.3h0M511.4 176.7h0M542.7 140.4h0M482.3 257.3h0M599 190.4h0M476 172.9h0M569.2 160.3h0M531.3 150.3h0M485.6 189.7h0M528.7 133.9h0M562.6 260.4h0M482.4 168.8h0M441.8 246.9h0M521.4 149.7h0M607 164.6h0M582.5 131.1h0M508.5 253.7h0M515.4 141.1h0M523.5 221.6h0M444.2 247.8h0M597.5 176h0M598.8 188.1h0M550.5 193.3h0M489.8 186.2h0M501.9 145.6h0M563 234h0M511.3 174.5h0M552.6 222h0M580.9 239.2h0M522.2 217.4h0M574.1 249.1h0M512.6 164.7h0M595.1 125.4h0M517.9 241h0M527.1 218.3h0M495.6 144.5h0M583.5 151.7h0M500.3 153.1h0M546.9 177.1h0M518.1 152.3h0M577.9 261.5h0M587 232.4h0M571.1 196.1h0M481.7 214.9h0M483 249.8h0M498.3 225.2h0M452 231.9h0M553.5 158.2h0M588.5 247.4h0M608.7 153.1h0M609.3 164.1h0M466.1 254.8h0M470.5 251.6h0M497.1 171.4h0M546.4 137.6h0M582.4 134.1h0M521.9 193.4h0M497.3 209.5h0M476.8 231.8h0M494.6 155.8h0M551.2 257.5h0M573.1 228.3h0M484.7 187.2h0M447.8 253.5h0M539.3 190.6h0M579.8 217.5h0M471.6 219.8h0M470.9 256h0M551.5 205.7h0M580.4 232.5h0M497.1 158.3h0M539.9 187.6h0M565.6 185h0M484.8 236.8h0M481.9 150.4h0M572.8 151.6h0M562.2 261.5h0M480 167.2h0M558.3 157.7h0M473.5 235.3h0M581.8 222.3h0M536.9 177.1h0M614.6 145.9h0M516.7 159h0M582.2 186.4h0M474.1 182.8h0M507.4 198h0M540.5 249.1h0M592.6 143.4h0M487.9 194.9h0M512.7 236.8h0M480.3 242h0M576.9 220h0M541.6 214.2h0M567.1 142.3h0M539.8 175.4h0M589.1 171.8h0M576.2 256.7h0M551.9 244.5h0M531.1 215.6h0M605.7 141.1h0M567.6 185.1h0M457.9 245h0M547.1 166.2h0M572 195.5h0M469.1 252.4h0M599.1 147.8h0M499.2 242.9h0M514.5 230.1h0M513 176.1h0M474.4 234.8h0M554.4 168.2h0M557.4 138.5h0M549.6 217.3h0M571.2 145.9h0M573.3 224.7h0M477.5 157.2h0M613 153.3h0M548.1 215.1h0M527.1 159.3h0M543.8 181.1h0M520 260.6h0M577.3 243.1h0M454.2 252.9h0M485.8 144.1h0M512.7 172.2h0M569 220h0M574.1 251.1h0M537 152.2h0M472 226.5h0M496.2 215.6h0M513 176.7h0M491.7 240.4h0M551 180.4h0M477.6 245.3h0M577.7 260.7h0M571.6 218h0M506.7 237h0M472.7 236.3h0M518.6 216.8h0M572.4 144.1h0M480.3 187.1h0M465.2 248.8h0M541.8 242.3h0M524.1 182.8h0M505.1 196.7h0M579 222.2h0M583.2 148.4h0M568 252.5h0M517.8 241.5h0M525.4 159.4h0M488.1 154.4h0M587.8 217.1h0M445.9 239.5h0M467.2 241.6h0M456.1 224.2h0M557.3 249.6h0M515.2 224.1h0M546.6 220.3h0M595.7 176.6h0M490.9 243h0M528.8 261.6h0M462.7 242.4h0M531.6 163h0M490.3 155.8h0M496 178h0M491.9 234.8h0M565.7 155h0M575.9 249h0M480.7 184.6h0M517.3 241.3h0M564.6 133.8h0M587.3 213h0M534 239h0M542.1 171.9h0M503.9 236h0M515.9 157.3h0M507.8 252.8h0M549.3 160.5h0M498.8 241.4h0M542.7 136.2h0M496.9 180.9h0M570.2 237.3h0M534.8 143.9h0M553.3 222.9h0M483.9 176.4h0M588.1 183.5h0M473.2 249.8h0M561.2 263.4h0M548.9 205.1h0M485.9 232.5h0M480.3 186.1h0M554.4 166.7h0M513.6 250.9h0M576.5 249.5h0M594.3 213.6h0M595.8 168.9h0M458.6 234.7h0M563.5 262.7h0M589.5 149.4h0M513.9 160.1h0M455.4 253.8h0M546.6 229h0M583 154.7h0M483.8 156.5h0M506.6 182.1h0M458.2 221.1h0M489.3 146.4h0M605 139.8h0M566.8 206.8h0M511.2 200.5h0M452.8 245.2h0M541.6 258h0M551.1 224.5h0M616.3 148.8h0M573.4 169h0M484.2 225.8h0M517.5 180.1h0M576.1 145.2h0M565.1 204.8h0M578.6 222.7h0M580.1 243.9h0M538.1 213.5h0M487.1 229.5h0M592.7 161.1h0M591.3 176.6h0M599.1 135.1h0M580.9 136.2h0M586.7 153.7h0M493.2 146.6h0M597.1 161.6h0M500.9 224.8h0M590.9 176.3h0M563.6 229.9h0M476 239.2h0M558.1 209.7h0M515.6 244.4h0M515.1 190.5h0M574.2 170.6h0M498.5 258.5h0M591.4 220.4h0M493.4 224.7h0M537.3 151.5h0M591.3 242.6h0M560.1 223.8h0M483.4 211.6h0M568.1 159h0M565.1 217.3h0M487.7 211.9h0M575.6 212.2h0M581.5 249.5h0M493.8 190.9h0M576 221.7h0M543.5 223.4h0M612.4 128.4h0M575.6 228h0M549.5 215h0M481.8 242.9h0M560.5 224.9h0M588.1 151.9h0M587.1 161.7h0M559.6 177.8h0M499.8 212.5h0M493.8 212.7h0M487.5 191.6h0M543.2 131.6h0M482.9 168.4h0M563.3 135.1h0M498.5 218.9h0M576.1 255.3h0M527.1 196.6h0M583 242h0M483.9 173.4h0M500.1 188.1h0M585 180h0M602.2 149.1h0M528.4 160.9h0M529.4 257.7h0M511.8 243.4h0M549.5 182.3h0M517.3 242.9h0M534.2 131.6h0M534.1 249h0M580.3 220.9h0M549.9 133.8h0M479 225.9h0M493.3 166.1h0M571.9 241.8h0M537.2 252.4h0M617 149h0M504.7 147h0M569.1 248.8h0M532.9 190.7h0M517.4 144.2h0M564.6 181.6h0M534.5 212.2h0M510.7 145.2h0M605.9 166.4h0M565.7 232.7h0M546.4 240.2h0M587.7 227.7h0M575.6 132.6h0M572.3 185.3h0M528.1 236.9h0M527.6 139.6h0M588 220.4h0M487.3 195.8h0M567.3 171.5h0M469.6 216.5h0M597 133.1h0M588.7 165.4h0M545.8 225.5h0M556.8 141.1h0M491.1 165.4h0M582.1 248.8h0M567.7 253.4h0M548 179.9h0M517.7 141.4h0M453.2 224.8h0M511.3 192.2h0M520.4 180.4h0M492.2 243.4h0M551 232.6h0M572.9 240.6h0M511.6 219.1h0M572.3 261.3h0M566.9 223.8h0M507.9 212.3h0M464.3 219.3h0M507 200.1h0M478 223.1h0M556.4 213.5h0M573.9 224.6h0M595 154.5h0M589.3 243.6h0M441.9 238.5h0M495.5 151.3h0M584.4 193.9h0M494.1 257.2h0M595.2 156.3h0M534.8 254.5h0M584.8 153.7h0M530.5 216.5h0M585.1 230.2h0M596.9 162h0M588.6 130.5h0M476 234.8h0M554.4 139.9h0M513.9 149.9h0M529.2 241.9h0M555.6 212.8h0M478.5 215.7h0M504.3 233.3h0M492.3 206.1h0M543.2 146.3h0M574.3 258.8h0M559 158.4h0M567.2 261.8h0M558.8 255.4h0M482.2 184.8h0M497.7 225.2h0M517.4 224.4h0M563.3 145.1h0M563 215.6h0M558.5 164.2h0M567.3 254.1h0M514.2 224.6h0M501.8 245h0M473.9 177.5h0M539.9 212.2h0M539.7 240.5h0M584.2 194.6h0M503.7 244.3h0M503.1 232.9h0M453.9 222.8h0M474.3 159.9h0M497.9 169.4h0M504.1 178.8h0M576.7 255.1h0M506.9 253.3h0M498.1 152.5h0M589.3 202.6h0M451 245.1h0M527.3 140.2h0M516.6 224.4h0M562.3 177.1h0M573.8 188.6h0M568.6 209.9h0M509.4 238.6h0M450.2 242.1h0M607.1 167.2h0M528 164.6h0M532 258.1h0M536.5 252.1h0M561 242.1h0M483.6 236h0M522.4 165.3h0M528 239.1h0M498.9 221.8h0M495.8 151h0M524.5 144.9h0M445.8 235.4h0M530 232.9h0M501.5 255.6h0M560.6 201.7h0M514.9 227.3h0M577.4 170.4h0M576.4 183.2h0M595.2 206.5h0M544.6 148.9h0M573 225.2h0M529.1 241.4h0M528.1 235.8h0M585.7 245h0M550.1 179.8h0M463.8 214.2h0M459.5 249.5h0M582.8 237.5h0M457.9 216.2h0M495 189.8h0M555.3 180.4h0M513.2 213.9h0M511.8 232.7h0M514.3 238.4h0M500.1 219.3h0M503.4 176.5h0M523.1 222.9h0M572.2 152.5h0M478.1 176.2h0M502.9 224.7h0M599 181.1h0M487.9 245.4h0M494.9 194.5h0M596.5 150.5h0M509.5 147.7h0M452.4 237.2h0M510.8 231.1h0M550.3 257.3h0M578.4 163.9h0M564 246.1h0M565.5 171h0M511 244.2h0M540.6 179h0M538.3 230.7h0M502.6 136.2h0M565.6 199.3h0M531.2 256.5h0M548.8 154.8h0M580.2 132.6h0M558.3 146h0M521.1 228.6h0M549.1 193.2h0M525.4 156.4h0M465 239.9h0M536.8 257.3h0M490.5 254.7h0M578.8 146.3h0M586.8 158.3h0M570.1 231.7h0M588.3 146.3h0M573.4 134.9h0M565.7 181.1h0M520.9 202.9h0M486.3 189.9h0M574.4 141.7h0M583.3 206.8h0M586.2 134.2h0M569 223.9h0M498.9 144.5h0M563 160.6h0M517.9 243h0M506.9 168.7h0M482.1 185.3h0M512.9 210.8h0M526.8 189.8h0M556.4 249.6h0M514.5 222.2h0M491.4 161h0M528.8 144.2h0M562.3 142.5h0M483.5 242h0M520 227.1h0M577.2 235.5h0M473.6 193.5h0M518.2 219.4h0M521.4 257.2h0M500.2 243.8h0M537.7 159.4h0M532.9 145.9h0M558.8 184.5h0M502.2 145.9h0M480.8 172.1h0M516.4 200.8h0M515.8 179.3h0M512.4 195.2h0M532 227.6h0M551.8 250.8h0M504.8 228.7h0M551.3 258.8h0M491.5 260h0M546.6 143.5h0M503.3 176.9h0M578.2 213.1h0M529.9 165h0M581.3 248.4h0M561 173.2h0M527 150h0M589.2 158.6h0M506.9 256.6h0M560.1 219h0M561.6 179.7h0M490.6 153.4h0M492.2 219.9h0M512.7 228.5h0M597.9 185.5h0M578.6 211.3h0M458.9 252.5h0M515.8 135.7h0M563.3 239.1h0M522.4 175.4h0M550.2 166.8h0M540.7 143.4h0M604.5 167.2h0M562.7 213h0M545.2 150.3h0M481.7 155.6h0M549.2 154.1h0M498.8 192.1h0M515.8 164.4h0M559.2 245.8h0M564 229.7h0M477.5 151.8h0M583.8 215.8h0M508.5 181.2h0M531.7 187.7h0M577 168.4h0M573.6 150.2h0M593.4 133.8h0M511.8 148.8h0M517 158.2h0M568.5 211.2h0M544.1 187.6h0M564.6 138.8h0M458 251.1h0M541.9 142.5h0M512.8 180.5h0M563.6 242.5h0M551.7 232.3h0M565.1 174.2h0M551.7 263h0M551.2 193.5h0M563.6 230.6h0M517.1 156.9h0M552.8 173.9h0M447.5 223.7h0M483.4 180.6h0M487.4 152.7h0M543.6 224h0M467 227.4h0M532.5 156.4h0M601.1 197.6h0M581.4 169.7h0M508 164h0M559.3 150.9h0M510.5 179.5h0M582.8 260.3h0M473.5 189h0M488.2 247.5h0M503.1 155.7h0M582.6 167h0M531 219.7h0M540.6 135.4h0M530 241.2h0M489.5 154.2h0M487.3 225.3h0M485.1 153.2h0M487.9 187.2h0M602.6 135.9h0M543.7 130.6h0M605.8 165.7h0M516.9 175.9h0M542.1 163h0M571.1 261.4h0M521.2 165.7h0M545.1 183.6h0M609.4 132.2h0M519.3 193.6h0M520.8 237.3h0M506.5 141.3h0M517.8 218.6h0M598.4 142.6h0M510.1 258.6h0M478.7 167.4h0M559.6 198.6h0M552.4 136.4h0M519.1 174.7h0M575.4 270.3h0M580.1 181.7h0M548.8 182.7h0M479.3 204.1h0M493.7 182.1h0M577.4 138.8h0M568.8 151.7h0M532.8 225.8h0M518.3 239.8h0M545.8 265.7h0M560.1 183.2h0M503.6 216h0M529.6 210.2h0M549.7 226.6h0M581.8 135.1h0M554 179.3h0M519 136.1h0M592.4 142.6h0M592 174h0M515.4 185.8h0M512.5 158.8h0M484.1 206.1h0M470.2 245.8h0M581.7 132.7h0M476.1 224.1h0M562.6 209h0M495.8 189.6h0M523.3 165.8h0M497.7 195.6h0M535.1 183.8h0M522.8 166.4h0M474.2 167h0M561.1 213.6h0M541.1 162.1h0M493.5 175.8h0M507.3 146.7h0M538.4 230.5h0M607 138.4h0M518 170.2h0M524.7 184.9h0M523.9 250.6h0M519.4 215.8h0M554.5 171h0M490.8 228.5h0M526.3 207.4h0M581.8 132.7h0M594.2 224.7h0M588.9 130.5h0M571 164.1h0M557.3 229.4h0M550.8 154.3h0M607.3 155.2h0M567.7 243.7h0M467.1 236.3h0M499.1 170.8h0M481.2 257.2h0M555 224.9h0M558 151.4h0M510.5 246.2h0M545.2 159.7h0M532.7 133h0M472.4 247.2h0M452.6 247.1h0M575.1 142h0M457.7 243.7h0M565.6 217.9h0M552.5 163.1h0M471.5 235.6h0M561.9 247.3h0M513.1 138.8h0M477.4 246.8h0M576.6 130.6h0M549.9 148.5h0M593.1 160.4h0M538 216.4h0M546.2 167.3h0M494.8 164h0M565.8 134.6h0M583 142.3h0M576.4 260.7h0M503.6 138.6h0M465.9 258.5h0M497.9 255.9h0M553 249.7h0M549.4 246.4h0M564 186.8h0M472.1 176.5h0M594.5 130.3h0M579.5 144.1h0M558.5 238.1h0M530.2 241.9h0M554.5 255.1h0M573.6 229.6h0M578.7 152.8h0M500.9 173h0M515.4 149.5h0M573.9 187.7h0M535.5 253.3h0M564.7 174.3h0M571.9 264h0M590.1 162.8h0M564.2 182.5h0M571.5 152.5h0M561 262.8h0M595.7 180.4h0M577.7 225.4h0M486.9 233.5h0M478.3 232.3h0M565.4 256.8h0M580.6 243.4h0M586 254.2h0M519.5 148.4h0M448.3 249.5h0M513.6 153.7h0M577.8 135h0M456.7 218.1h0M566 242.2h0M531.3 255.7h0M500.2 244.7h0M583 229.1h0M473.6 201h0M576.8 135.5h0M603.1 137.4h0M552.7 167.1h0M462 238.1h0M478 169.5h0M598 128.9h0M497.8 256.3h0M506.2 227.8h0M499.1 185.3h0M506.4 151.6h0M557.6 146.4h0M508.3 245.1h0M574.9 168.3h0M515.8 146h0M445.5 229.4h0M514.4 218.1h0M593.1 170.5h0M515.9 174.3h0M610.5 152.8h0M567.2 181h0M487.2 169h0M503.5 237.5h0M561.8 159.7h0M572.6 154.4h0M487.2 213h0M615.1 141.3h0M587.4 144.7h0M490.5 150.6h0M602.4 188.3h0M554.1 223.5h0M508.5 236.5h0M501.3 214.8h0M561.1 248.1h0M555.6 243.9h0M565.4 188.3h0M558.2 169.2h0M508.1 251.5h0M574.3 151.1h0M479.9 149.2h0M513.9 222.5h0M520.8 189.8h0M509.2 183.9h0M567.5 140.8h0M472.4 184.9h0M575.6 180.5h0M545.4 237h0M582.9 215.8h0M575.5 174.7h0M457.6 257.6h0M543.8 179h0M473.9 225h0M527.8 177.4h0M492.1 187.1h0M553.2 163.8h0M490.4 254h0M522 234.2h0M558.7 146.4h0M491.6 181.9h0M564.2 139h0M533.2 156.5h0M557.4 232.7h0M477.4 233.8h0M519.1 164.2h0M522 208.3h0M540.7 183.8h0M604 157.5h0M583.9 229.3h0M494 242h0M478.7 253.3h0M524.1 155.2h0M527.3 159.5h0M565.9 141.3h0M497 232.5h0M514.3 238.7h0M607.4 148.3h0M565.1 249.5h0M600.1 144.5h0M473.9 232.9h0M516.8 250h0M569 244.8h0M516.3 184.2h0M550.6 173.7h0M585.3 147.9h0M560.9 176.2h0M583.2 160.5h0M525.4 249.5h0M552.6 165.6h0M553.8 189.8h0M508.8 168.8h0M550.6 180.8h0M581.8 254.5h0M583 148.3h0M489.3 209.2h0M573.2 218.4h0M581 186.3h0M493.3 188.5h0M510.4 232.3h0M491.8 260h0M516.5 185.7h0M501.4 138.7h0M585.4 181.9h0M587.6 190.6h0M593.5 220.7h0M527.8 226h0M554.3 259.8h0M508.1 174.6h0M559.6 255.4h0M445.2 254h0M561.1 261.2h0M550.1 168.9h0M459.3 222.8h0M473.5 223.9h0M485.3 252.9h0M538.9 161.5h0M522.2 143h0M448.5 249.5h0M546.3 260.6h0M524 150.1h0M542.2 167.2h0M553.8 174.7h0M469.6 223h0M456.8 247h0M525.2 215h0M588.6 177.4h0M501.6 223.3h0M598.1 134.6h0M514.5 252.6h0M577.9 163.3h0M565.2 189.4h0M541.7 167.9h0M576.3 236.3h0M513.8 212.9h0M510.2 186.2h0M578.3 216.6h0M599.1 188.4h0M523.2 202.2h0M540.2 221h0M563 226.2h0M476.1 237.7h0M586.6 252.7h0M580.4 185.8h0M557.5 222.2h0M511.9 220h0M449.5 229.5h0M514.6 236h0M555.7 237.1h0M597.7 156.2h0M502.7 210.2h0M507.2 156.9h0M513.4 152.1h0M559.7 179.5h0M481.5 204h0M564.8 251h0M490.1 143.2h0M469.4 223.9h0M602.4 166.4h0M558.5 222.9h0M530.8 169.5h0M546.4 149h0M550.9 148.8h0M589.1 213.4h0M564 173.8h0M508.6 162.4h0M572.7 238.5h0M587.1 143.9h0M571.7 264.2h0M508.2 254.2h0M489 227.4h0M564.1 141.6h0M569.5 214.7h0M504.5 181.5h0M476.1 172.4h0M533.3 212.8h0M509.9 160.5h0M559.5 146.5h0M545.3 179.8h0M597.4 140.2h0M572.9 170.8h0M515.8 226h0M522.9 218.5h0M534.2 212.6h0M561.3 175h0M543.8 153.8h0M548.9 250.2h0M586.4 246.6h0M531.4 248h0M487.7 167.5h0M502.1 161.2h0M583.1 252.5h0M494.7 226.2h0M502.5 163.1h0M528.5 232.2h0M571.8 163h0M547.9 208.1h0M554.8 215.7h0M540 136.9h0M555.1 140h0M551.1 132.1h0M511 214.2h0M505 142.4h0M534.6 255.7h0M542.5 143.3h0M497.9 254.9h0M568.1 248.1h0M545.7 143.6h0M552.3 251.9h0M502.8 258.1h0M491.4 216.3h0M534.8 141.7h0M585.8 254.4h0M492.6 204.1h0M588 187.7h0M568.2 257.8h0M560.8 148.4h0M451.2 224.2h0M581.4 139.3h0M581.8 193h0M586.6 222.8h0M578.4 159.6h0M605.8 164.6h0M482.7 241.9h0M595.2 136.8h0M499.9 243.8h0M501 182.8h0M510.5 177.8h0M547.3 203.2h0M582.5 177.4h0M578.6 141.3h0M473.2 235.6h0M580 148.5h0M538.3 208h0M472.4 207.3h0M554.7 177.3h0M536.5 243.2h0M582.6 142h0M516.4 137.2h0M506.9 180.6h0M520.5 173.9h0M567.8 225.9h0M483.3 213.7h0M540 175.2h0M547.9 243h0M572.3 183.9h0M492.1 232h0M538.8 227.4h0M503 154.6h0M473.4 179.3h0M560.8 178.1h0M526.2 220.5h0M590.1 203.5h0M557.1 167.7h0M467.2 221.6h0M571.8 153.4h0M532 154.7h0M520.7 160.1h0M524.7 140.8h0M580.4 175.7h0M555.1 158.7h0M573.6 203.1h0M461.5 233.3h0M530.9 246.8h0M494.8 170.5h0M456.6 251.4h0M557.1 171.3h0M498.1 225.5h0M497.9 240.4h0M580.3 186.8h0M520.8 236.7h0M546.2 151.1h0M538.3 146.3h0M451.5 225h0M610.9 149.4h0M519.1 213.7h0M541.9 202.5h0M542.7 165.1h0M580.5 213.4h0M613 162.1h0M547.6 188.3h0M543.2 163.7h0M451.8 242.9h0M607.9 143.2h0M478.4 200.9h0M504.7 258.9h0M489.7 245.1h0M562.1 190h0M517.5 162.7h0M588.5 240.4h0M513.3 159.6h0M487.9 233.1h0M473.3 214.3h0M512.9 192h0M474.5 216.8h0M563.7 207.5h0M587.5 253.2h0M548.2 186.6h0M544.9 217.4h0M514.2 257.3h0M487.8 193.4h0M528.4 178.8h0M525.3 152.5h0M573.5 165.6h0M474.8 160.5h0M500.2 160.4h0M533.7 213h0M523.9 145.4h0M503.4 134.3h0M484.8 209.1h0M543.3 247.1h0M492.7 234.5h0M563.2 195.8h0M507.8 218.7h0M549.5 176h0M573.7 156.5h0M537.7 157.8h0M521.6 137.9h0M539.9 198.6h0M579.8 239.6h0M459.3 224.3h0M457.6 231h0M471 235.1h0M588.7 146.3h0M541.6 179.8h0M532.6 154.8h0M592.2 176.6h0M523.7 250.9h0M491.8 136.2h0M494.4 243.6h0M530.1 209.6h0M591.2 235.5h0M491.5 238.5h0M530.3 257.6h0M581.2 130.6h0M521.3 223.5h0M511.6 139.6h0M525.2 229.8h0M534.4 241.4h0M611.6 134.6h0M538.5 221.9h0M569.5 169.9h0M570.2 222.6h0M481.8 233.7h0M479.3 182.2h0M552.7 236.1h0M597.2 175.5h0M557.2 187.3h0M567.3 214.9h0M548.2 150h0M513.3 178.9h0M481.3 201.7h0M514.6 245.8h0M510.4 169.5h0M535 222.8h0M476.1 202.7h0M452.2 262.5h0M509.6 155.3h0M543.7 162.3h0M592.6 127.1h0M504 179.9h0M552.3 144.6h0M570.2 217.1h0M562.9 189.1h0M521.1 200.2h0M558.4 190.4h0M592.2 172.7h0M476.1 164.9h0M532.4 223.3h0M517.8 133h0M515.1 249.5h0M529.9 251.1h0M496.3 252.4h0M520.9 230.5h0M483.6 247.1h0M588.9 137.6h0M580.1 201.5h0M585.5 151.5h0M552.4 221.5h0M500.2 237.6h0M505.1 238.3h0M526.6 170h0M505.4 175.7h0M484.4 184.2h0M531.9 215.6h0M565.8 256.5h0M499.8 174.6h0M516.8 249.4h0M489.9 169h0M544.9 228.7h0M590.4 219.6h0M554.9 236.7h0M538.9 152.4h0M531.9 255.7h0M499.3 168.5h0M464.1 230.2h0M564.4 197.4h0M536.8 239h0M560.4 188.9h0M504.4 145.5h0M484.8 157.7h0M557.3 181h0M476.1 192.1h0M484.6 173.9h0M565.5 229.3h0M574.5 259.7h0M504.9 178.5h0M566.8 176.4h0M588.5 216.8h0M557 130.1h0M579.7 117h0M475.1 138.3h0M586.3 115.6h0M540.4 133.9h0M527.7 131.7h0M454.1 139.6h0M526.1 123.1h0M463.7 161.7h0M605.4 117h0M525.3 122.9h0M470.8 142.1h0M564.7 128.4h0M560.9 122.4h0M474.6 149.8h0M446.7 173.3h0M455.8 150.7h0M512.1 121.5h0M594.5 119.1h0M561.6 116.8h0M511.3 126.1h0M545.7 117.4h0M493.3 126.6h0M463.4 160.8h0M459.1 141.7h0M484.9 137.8h0M477.8 144.5h0M496.3 141.3h0M471.3 164.9h0M501 128.8h0M588.7 115.1h0M578.7 117.3h0M564.5 132.9h0M553.7 131.8h0M549.7 122.5h0M456.8 152.8h0M464.6 150.3h0M521.7 124.5h0M516.7 127.5h0M508 133.8h0M592.9 125.5h0M564.6 119.4h0M442.9 161h0M530.7 120.7h0M566.2 113.3h0M451.6 167.3h0M466.1 148.2h0M449.8 159.1h0M446.9 161.2h0M460.6 175.7h0M554.4 132.6h0M526.3 122.5h0M456.1 159.9h0M461.2 161.1h0M461.3 155.8h0M529.1 131.1h0M536.3 115.6h0M586.9 112.8h0M504.9 128.2h0M521.7 128h0M481.7 298.4h0M433.9 317.5h0M490.2 265.9h0M433.3 360.9h0M514.5 350h0M418.1 363.7h0M423 295.2h0M506.3 257.7h0M563.5 281.9h0M525.8 271h0M521.1 311.3h0M547.4 261.4h0M418.6 333.4h0M451.8 282.9h0M521.5 276.1h0M543.3 355.6h0M531.8 273.4h0M512.9 307.7h0M444 282h0M548.5 299.8h0M498.1 277.8h0M546.5 253.3h0M448.6 253.4h0M503.9 263.4h0M561 295.9h0M508.5 315.3h0M436 270.4h0M484.1 310h0M434 298h0M454.7 304.5h0M470.4 289.2h0M466.4 271.5h0M424.8 317.3h0M541.5 321.5h0M435 298.6h0M461.2 352h0M466.5 349.1h0M474.2 334.2h0M430.7 297.2h0M438 301.3h0M473 339.3h0M464.2 326.7h0M481.2 343.3h0M477.2 263.4h0M474.8 362.2h0M491.5 303.2h0M552.1 346.3h0M502.2 252.8h0M538.1 309.5h0M431.4 333.6h0M450.1 319h0M474.7 258.4h0M557.6 265.3h0M537.8 358.1h0M455.6 346.5h0M538.7 350.1h0M546.8 324.8h0M418.8 361.7h0M452.2 330.8h0M555.4 351.3h0M498.7 253.4h0M486.6 318.6h0M531.5 265.1h0M486.6 317.3h0M426.1 335.5h0M437 286.8h0M566.6 304.6h0M529.9 339.1h0M530.5 318.4h0M446 339.6h0M559.7 255.7h0M521.9 254.1h0M514.8 250.4h0M554.7 313.1h0M562.5 269h0M462.9 301.8h0M471.9 263.8h0M534.5 278.1h0M482.4 267.2h0M526.1 264.7h0M456.3 283.1h0M557.6 321.4h0M503 342.3h0M513.7 265.1h0M541.3 318.1h0M416.1 352.5h0M463.4 371.3h0M506.5 350.1h0M478.1 271.7h0M459.7 366.8h0M418.7 275.7h0M424.8 281.2h0M467.4 376h0M431.4 296.8h0M477.6 353.7h0M461 263.1h0M428.2 370.6h0M548.5 354.4h0M425.5 322.9h0M526.4 313.4h0M412 334.7h0M441.7 315h0M579.4 248.2h0M468.4 345.4h0M527.7 255.8h0M560.6 337.8h0M493.6 347.5h0M533 277.5h0M471.6 369.2h0M494.7 344.6h0M512.9 297.9h0M444.2 285.8h0M509.6 306.2h0M541.9 254.3h0M536.8 348.7h0M534.1 357.3h0M563.3 338.1h0M558.9 331.9h0M514.1 253.6h0M482.3 362.3h0M547.5 350.6h0M466.2 308.1h0M438.5 318.9h0M458 291.1h0M495 329.6h0M470.5 341.3h0M490.3 269.4h0M457.8 282.6h0M556.5 312.6h0M484.7 333.2h0M450.6 250.6h0M548.2 338.7h0M435.7 250.3h0M419.6 306.3h0M474.2 308.3h0M550.6 262.1h0M423.7 270.6h0M508.4 250.2h0M503 288.6h0M573.8 278h0M422.6 360.8h0M566.5 308.7h0M485.2 311.5h0M451.6 359.8h0M518.6 281.6h0M503.1 349.3h0M455.4 375.1h0M467.3 273.5h0M434.5 295h0M416.4 260.9h0M511.3 351.9h0M487.5 309h0M524.3 302.6h0M535.4 309.8h0M424.2 347.9h0M478 308.4h0M453.4 246h0M504.5 321.1h0M510.7 251.4h0M524.1 340.3h0M458.4 311.5h0M539 329.6h0M531.9 346.5h0M535.7 304.2h0M482.1 250h0M439.2 303.5h0M456.4 270h0M469.4 326.4h0M499.5 276h0M469 304.5h0M553.3 336h0M545.7 313.1h0M439.1 352.3h0M449.7 360.9h0M490.5 343.3h0M532.9 323.9h0M513.7 289.6h0M549.4 296h0M484.7 293.9h0M522 247.3h0M513.6 321.5h0M561.6 315.2h0M484.9 353.3h0M544.3 338.8h0M476.2 287h0M489.7 326.5h0M439 304.2h0M516.3 272.6h0M424 270h0M432.6 248.5h0M505.4 361.6h0M414.8 318h0M422 375h0M534.5 257.7h0M473.6 252.8h0M472 244h0M526.2 340.1h0M435.6 274.6h0M443.5 291.2h0M471.3 267.2h0M466 250.9h0M519.4 329.8h0M494 318.6h0M469.3 370.6h0M518.8 314.2h0M438.1 295.3h0M500.9 245.1h0M466.4 358h0M526.1 286.5h0M541.2 338.5h0M555.4 258h0M519.5 345.4h0M483.4 271.6h0M542.3 347.7h0M422.6 336.9h0M574.2 299.3h0M443 364.1h0M555.7 322.3h0M523.1 284.8h0M536.7 280.4h0M512.6 348h0M490 270.2h0M487.4 311.2h0M543 301.9h0M570.4 296.3h0M550.7 338.1h0M566.1 262.9h0M485.2 329h0M539.1 297.7h0M461.6 345.1h0M502.7 353.7h0M541 325.3h0M470.5 275.7h0M574.4 273.3h0M487.3 342.4h0M497 340.2h0M433.3 260.9h0M436.2 342.5h0M456.7 352.4h0M478.1 372.1h0M513.9 336.9h0M476 348.5h0M476.3 267.3h0M413.5 325h0M477.8 248.8h0M563.7 277h0M435.6 263.8h0M498.5 276h0M543.6 320.7h0M526.3 261.3h0M538.3 276.9h0M570.3 310.8h0M423.6 362.6h0M483.7 268.1h0M432.4 276.6h0M562.6 343h0M510.2 242.8h0M566 297.3h0M438.9 358.8h0M563.3 294.5h0M534.3 278.6h0M535.7 251.5h0M429.3 292.7h0M509.6 278.6h0M452.9 239.6h0M431.4 352.9h0M480.6 287.7h0M526.9 330.6h0M508.1 280.6h0M477 316.9h0M515.3 304.5h0M497.5 249.8h0M455.7 333.3h0M505.5 254h0M522.6 289.9h0M493 296.9h0M538.8 306.3h0M561.5 260.9h0M539.1 244.9h0M539.4 261.2h0M462.3 266.9h0M416.6 304.2h0M546.3 279.4h0M576.9 265.7h0M490.3 327.6h0M512 285h0M429.9 247.1h0M496.3 256.8h0M522.3 280.6h0M545.3 316.4h0M512.2 332.5h0M478.5 313.1h0M445.4 351.5h0M553.6 289.4h0M522.5 287.8h0M551.7 342h0M470.9 347.9h0M538.6 258.2h0M466.7 329.8h0M514.4 342.1h0M501.2 358.4h0M421.4 300.7h0M509.4 261.3h0M528.2 316.8h0M473.5 300.9h0M452.3 256.1h0M562.1 247h0M554.4 255.8h0M507 332.4h0M499.7 260.3h0M560.3 285.5h0M489.8 295.1h0M549.9 292.3h0M429.7 337.5h0M480.7 249.2h0M491.2 258.8h0M493.6 323.8h0M511.7 319.1h0M563.2 270.4h0M524.3 348.8h0M568.4 277.9h0M531.5 246.7h0M443.8 258.2h0M446.3 247h0M489.6 271.9h0M546.4 358.2h0M500.2 248.9h0M436.4 315h0M469.7 287.7h0M568.7 322h0M466.1 333.7h0M545.4 324.4h0M434.9 337.1h0M509.1 348.2h0M524 323.1h0M572.6 267.8h0M500.5 327.7h0M540.6 346.1h0M510.6 316.7h0M423.2 299.1h0M449.5 268.6h0M463.7 299.9h0M512.6 327.3h0M482.4 321.4h0M571.6 292h0M459.2 266.4h0M439.8 262.7h0M569.8 266.7h0M457.5 263.1h0M435.2 361.1h0M420 344.7h0M474.9 312.6h0M496.6 287.8h0M462.3 250.2h0M577 259.3h0M514.1 307.2h0M442.5 291.5h0M475.1 320.6h0M465.2 308.4h0M449.1 275.8h0M545.8 346.1h0M563.4 340.6h0M470.3 298.5h0M440.4 337.3h0M466.6 332.2h0M543 338.1h0M452 282.6h0M470.4 268.2h0M564.7 317.1h0M514.2 268.8h0M544.8 333.9h0M484.9 354.4h0M521.5 308.7h0M440.1 349.6h0M570.2 322.7h0M477 341.2h0M435.6 364.2h0M560.3 279.4h0M537.4 275.1h0M463.3 279.5h0M470.6 353h0M492.8 324h0M465.6 281.1h0M511.2 259.7h0M564.9 321.9h0M491.3 281.6h0M429 320.1h0M500.9 279.6h0M540.6 287.2h0M461.3 270.4h0M442.7 375.6h0M482.5 310.1h0M440.2 291.6h0M548.6 276.4h0M471.9 288.9h0M462.2 355.7h0M446.3 275.1h0M471.3 257.8h0M573.2 248.4h0M441.2 240.1h0M418.3 336.2h0M501.8 323h0M528.3 334.4h0M433.8 311.3h0M482.4 326.6h0M524.8 263.2h0M542.4 260.3h0M419.1 287h0M460.2 250.5h0M466.4 268.5h0M542 303.2h0M499 331.1h0M428.3 375h0M504.8 262.2h0M548.2 263.7h0M509.4 356.2h0M533.7 304.3h0M455.5 277.5h0M463.4 302.8h0M555.2 329.3h0M512.5 311.7h0M424 286.5h0M564.7 339.7h0M496 333.6h0M526.7 317.5h0M484 321.7h0M561.4 271.1h0M436.8 327.7h0M528.9 353.9h0M504.8 257.3h0M505.8 293.6h0M441.7 312.5h0M518.1 274.8h0M558.3 341.7h0M537.4 326.6h0M445.3 310.3h0M486 251.6h0M566 252.8h0M431.5 249h0M443 285.6h0M444.7 244.8h0M556.7 322.8h0M507.3 275.9h0M458.4 300h0M477.2 245.7h0M556.2 306h0M416.7 340.1h0M527.4 254.6h0M452.3 263.3h0M526.3 353.2h0M547.2 323.5h0M429.1 372.6h0M562.2 253.6h0M521.5 356.3h0M461.5 246.1h0M560.6 351.6h0M492.1 294.1h0M508.4 295.5h0M480.7 277.9h0M472.7 302.4h0M437.2 271h0M529 278.3h0M427.9 328.1h0M514.6 292.3h0M519.8 290.8h0M572.4 256.5h0M446.7 369.9h0M564 293.7h0M498.1 250.9h0M474.1 310.1h0M536.6 289.6h0M532.3 348.2h0M463.1 279.7h0M477.3 303.9h0M427.4 310.7h0M520.1 351.3h0M549 250.1h0M415.3 343.7h0M441.7 323.9h0M518.9 357h0M519.9 292h0M483.7 352.8h0M489 359.5h0M440.5 339.7h0M463.8 352.4h0M501.4 352.8h0M421.4 300.1h0M417.4 305.4h0M436.5 363.7h0M463.6 278.2h0M563.8 283.1h0M569.1 289.7h0M558.6 359.4h0M546.6 254.7h0M539.1 290.5h0M498.1 285.5h0M540.1 311.4h0M524.4 305.1h0M432.4 249.2h0M485.3 276.9h0M462.5 302h0M492.8 348.6h0M434 329h0M448.5 352.9h0M477.2 259.6h0M533.9 320.6h0M533 263.7h0M471.1 299.1h0M454.7 261.4h0M464.9 250.2h0M521.4 304.5h0M533.1 292.6h0M459.6 306.2h0M468.7 311.8h0M473.3 252.9h0M435.1 246.2h0M536.3 252.4h0M520.9 343h0M541.9 251.4h0M517.4 287.2h0M527.6 272.4h0M540.8 343.2h0M485.2 262.6h0M434.2 302.3h0M523.6 280.5h0M570.1 274.1h0M494.6 341.2h0M450.6 320.5h0M431.5 361h0M536.7 310.8h0M429.2 304.5h0M432.6 359.9h0M545.6 259.5h0M460 334.1h0M498.2 346.1h0M433.5 316.3h0M517.8 353.1h0M429.5 344.3h0M459.5 257.8h0M422.1 301.9h0M478.3 337.7h0M466.2 293.6h0M512.2 356.6h0M574.1 255.9h0M540.8 268.3h0M567.9 311h0M452.2 318.8h0M506.5 256.7h0M530.2 290h0M441.4 324.1h0M452.7 242.6h0M518.2 309.4h0M538.6 272.5h0M508.6 336.6h0M456.4 348.5h0M570.3 297.2h0M539 258.7h0M542.4 326.1h0M428.7 304.5h0M556.6 323.9h0M535.8 267.1h0M534.2 295h0M449.3 348.6h0M469.9 351.8h0M521.6 348.5h0M465.3 308.2h0M509.9 335.8h0M424.8 353.2h0M564.9 248.2h0M444.2 259.4h0M514.7 297.8h0M443.7 284h0M432.9 374.5h0M571.2 265.1h0M561.5 336.6h0M461.5 247.2h0M526.2 323.4h0M470.1 367.2h0M532.3 329.8h0M536.6 354.5h0M437.4 273.4h0M572.2 279.6h0M529.2 331.1h0M513.6 259.4h0M453.5 262.1h0M468 251.7h0M527.2 319.1h0M457.7 367.1h0M456.4 251.7h0M450.4 270.1h0M437.6 266.2h0M454.1 372.1h0M518 254h0M579.6 278.4h0M472.3 322h0M444.1 317.2h0M466.1 326.3h0M554.5 296.3h0M520.1 358.4h0M514.3 359.5h0M451.6 252.2h0M575.4 333.4h0M458.2 242.1h0M471.2 368.2h0M534.6 249.8h0M507.2 309.5h0M566.4 288.7h0M560.6 344h0M569.6 282.7h0M518.1 293.5h0M484.9 264.9h0M539.3 337.5h0M554.1 322.8h0M467.8 356.2h0M493.8 306.3h0M442.1 263.4h0M424.1 315.6h0M472.9 309.6h0M520.2 348.8h0M521.1 329h0M478.7 311.5h0M534.8 361.3h0M529.3 263.2h0M555.2 320.6h0M421.3 282.4h0M522 313.7h0M549.8 326.1h0M521.1 274.7h0M525.7 283h0M434.4 325.1h0M485.8 347.5h0M465.2 301.4h0M440.7 273h0M506.5 360.4h0M441.3 309.1h0M474.9 351.1h0M523.5 286.9h0M462.5 328.6h0M521.3 282h0M462.9 358.6h0M494 249.2h0M565.8 283.9h0M464 247.4h0M433 368.1h0M433.1 277.7h0M470.1 276.2h0M513.3 247.2h0M457.1 339.6h0M465.1 342.4h0M454.8 337.1h0M421.7 339.5h0M418.1 322.3h0M565 267.7h0M472.9 249.3h0M511.4 297.2h0M560.3 335.1h0M512.2 312.4h0M448.8 281.5h0M528.9 300.6h0M443 273.6h0M491.2 261.3h0M494 265.5h0M454.2 311.2h0M543.4 350.5h0M466.7 359.1h0M552.8 354.4h0M500.7 324.2h0M440.8 284.5h0M533.7 247h0M497.8 246.8h0M432 320.8h0M558.6 298.5h0M559.5 276.7h0M515.2 292.4h0M545.5 272h0M522.9 357.8h0M464.7 334.2h0M490.1 262.6h0M450.5 305.5h0M459.5 369.5h0M440.7 306.4h0M514.7 301h0M414.9 311.2h0M533.2 249.2h0M511.1 311h0M424.1 281.9h0M474.3 336.4h0M504.9 359.6h0M437.5 323.9h0M479.9 322.8h0M485.9 313.1h0M577.4 276.5h0M551.6 347.7h0M531.3 315.5h0M471.9 280.5h0M434.5 311.2h0M560.7 282.9h0M545 284.4h0M452.4 267.9h0M495.1 308.5h0M570.9 315.1h0M551.4 262.3h0M437.1 362.1h0M524.1 271.3h0M450.5 320.7h0M552.8 349.6h0M553.9 317.7h0M518.7 252.1h0M496.7 333.8h0M471.9 328.2h0M544.8 266.3h0M493.2 296.4h0M566.1 304.9h0M414 293.1h0M444.6 289.1h0M444.6 269.6h0M464 297h0M507.1 254.8h0M480.4 321.3h0M458.8 278.1h0M437.1 398.4h0M448.8 387.1h0M414.5 395.8h0M416.8 403.1h0M410.9 380.8h0M412.5 385.3h0M432.3 411.5h0M462.2 410.2h0M440.9 387.1h0M442.3 376.9h0M418.3 417.5h0M459.4 429.8h0M540 382.1h0M528.2 383h0M493.9 366h0M511.2 422.3h0M541.6 381.6h0M551.2 370.4h0M537.6 417.3h0M543.5 387h0M526.8 412.2h0M523.9 362.1h0M557.5 389.1h0M547 378.5h0M500.9 388.9h0M505.9 377.9h0M537.3 361.8h0M529.5 378.1h0M557.3 358.3h0M535.3 362.4h0M527.6 358.3h0M509.5 367.4h0M500.8 360.2h0M516.8 405.4h0M518.1 368.4h0M544.7 409.1h0M506.8 407.4h0M523.4 406.3h0M533.1 421.6h0M556.8 369.7h0M530.1 381.1h0M504.4 373h0M543.5 379.6h0M518.4 379.3h0M499.3 371.5h0M521.1 388.8h0M547.3 373.8h0M535.7 383.2h0M540 409.7h0M533.3 392h0M509 420.5h0M526.7 413.4h0M541.7 410.2h0M500.8 377.3h0M506 397.5h0M508.2 365.1h0M531.9 391.6h0M534.1 369.9h0M525.1 425.2h0M513.3 420.2h0M560.9 388.6h0M544.8 359.7h0M554.9 394.4h0M500.5 385.7h0M553.8 401.7h0M521.3 388.2h0M546.5 390.5h0M525.3 382.6h0M494.3 393.5h0M522.6 420.2h0M512.3 405.7h0M503.7 391h0M449.2 234.6h0M440.4 168.7h0M428 187.4h0M426.9 181.2h0M433.7 230.8h0M422.7 151.6h0M429.8 166.7h0M430 225.5h0M455.7 225.3h0M407.4 152.3h0M334.6 289.5h0M335.4 315.8h0M324.7 299.8h0M323.6 335.1h0M314.3 313.4h0M307.7 335.7h0M336 308h0M288 351.9h0M330.3 344.9h0M320.5 314.3h0M289.8 317.3h0M315.4 347.9h0M323.1 334.5h0M321.4 314.4h0M337.3 304.8h0M287.3 340.2h0M332.8 305.7h0M312.7 348.7h0M295.2 355.6h0M303.1 329.8h0M286 340.9h0M335.4 317.7h0M285.4 329.1h0M296.5 324.3h0M322.1 349.7h0M317.1 346.3h0M323.4 302.5h0M317.9 342.2h0M301 322.1h0M284.7 336.7h0M320.8 330.9h0M334 311.7h0M296.7 351.1h0M305.2 311.3h0M298.4 347.6h0M331.3 321h0M327.7 303.5h0M299.4 318.6h0M299.2 348.9h0M307.6 317.8h0M328.6 324.4h0M338.1 325.2h0M284 355.9h0M338.4 298.3h0M282 363h0M313.3 316.2h0M314.3 315.7h0M322.8 307h0M330.4 342.8h0M310.6 343.6h0M320.8 340.1h0M320.3 339.4h0M332 329.6h0M298.7 325.5h0M289.4 360h0M334 309.1h0M306.5 331.9h0M284.4 365.5h0M294.8 351.7h0M308.9 306.4h0M305.9 26.9h0M326.9 23.7h0M305.3 45.6h0M291 48.8h0M291.9 55.8h0M278.2 55h0M275.3 69.3h0M270.3 74.8h0M287.2 82.4h0M289.6 78.9h0M312.9 68.4h0M340.1 69.3h0M348.8 64.9h0M359.6 76.9h0M369.6 74.8h0M309.4 84.7h0M298.3 89.4h0M301 97h0M312.3 95.8h0M317.9 92.3h0M324 83.6h0M326 89.4h0M328.1 98.2h0M333.4 89.4h0M343.3 86.5h0M350 83.6h0M350.3 88h0M337.7 102.8h0M351.5 105.5h0M374.5 106.4h0M386.2 104.9h0M270.4 75.2h0M275 69.3h0M289.1 82.2h0M290.9 77.5h0M309.6 84.5h0M298.4 89.9h0M301.2 96.9h0M312.4 96.2h0M318.3 92.7h0M324.1 83.4h0M326.4 90.4h0M328.8 97.4h0M332.3 89.2h0M335.8 89.9h0M340.5 69.3h0M348.6 65.1h0M344 86.9h0M350.3 83.4h0M349.8 87.6h0M338.1 103.2h0M333.5 110.9h0M344 114.2h0M351.7 105.6h0M352.1 109.5h0M356.8 115.6h0M375 106.7h0M383 112.6h0M387.7 105.6h0M326.9 119.6h0M327.6 124.3h0M335.8 121.2h0M340.9 123.6h0M342.8 127.8h0M338.1 130.1h0M349.8 125.4h0M354.5 127.8h0M356.8 132.4h0M363.8 130.1h0M361.5 137.1h0M367.3 141.8h0M379.3 128.2h0M381.1 139.4h0M375.5 144.6h0M356.8 141.8h0M359.2 147.6h0M363.8 152.3h0M370.8 154.6h0M369.7 160.9h0M375.5 158.1h0M379 164h0M381.4 167.5h0M348.6 155.8h0M397.7 164h0M399.6 68.2h0M496 108.2h0M494.3 116.9h0M475 122.2h0M528.7 107.1h0M542 102.9h0M522.9 119.9h0M532.2 118.5h0M506.5 122.7h0M422.9 132.5h0M421.9 142.3h0M439.9 143.7h0M448.6 139.1h0M452.3 130.2h0M457.9 127.4h0M464 132.5h0M457.9 145.6h0M470.3 137.9h0M480.8 132.5h0M487.8 140.2h0M430.6 159.4h0M439.2 161.3h0M448.1 155.4h0M454.6 157.8h0M397.9 164.8h0M403.2 159.6h0M408.4 158.9h0M415.4 163.6h0M420 167.1h0M404.9 171.8h0M423.6 172.9h0M432.9 168.3h0M432.9 180h0M441.1 170.6h0M438.7 184.6h0M421.9 183.5h0M639.5 99.9h0M621.3 104.5h0M611.4 106.9h0M595.1 109.9h0M586.2 112.7h0M636.7 113.2h0M616.6 117.9h0M597 117.9h0M654 130.9h0M625.9 134.4h0M633.6 137.9h0M641.4 160.6h0M627.3 161.3h0M618.5 165.3h0M624.3 154.3h0M618.5 142.6h0M616.6 177h0M542.8 102.9h0M529.2 107.6h0M557.7 119.3h0M533.2 118.6h0M537.9 123.2h0M548.4 125.6h0M543.7 129.5h0M555.4 130.2h0M565.9 130.9h0M577.6 125.6h0M586.2 123.2h0M586.2 127.9h0M602.1 212.7h0M600.2 219.7h0M589.3 275.8h0M577.6 282.3h0M390.1 244.1h0M400.2 251.1h0M406 245.9h0M413 253.4h0M405.6 272.1h0M413.5 267.4h0M413 274.4h0M408.4 234.7h0M416.5 232.4h0M422.4 233.6h0M416.5 241.7h0M421.2 265.1h0M386.9 276.8h0M387.8 307.1h0M413 302.5h0M417.7 307.1h0M387.8 307.5h0M408.4 321.5h0M414.2 330.4h0M421.2 336.2h0M403.2 364.3h0M396.2 397h0M410.7 393.5h0M418.9 374.8h0M414.9 352.6h0M421.2 407.5h0M483.1 388.3h0M472.6 374.3h0M462.1 380.6h0M418.9 375.2h0M424.7 378.2h0M428.2 382.2h0M417.7 387.6h0M422.4 385.2h0M411.2 393.2h0M396.2 396.9h0M406 399.7h0M409.5 404.4h0M420 407.9h0M423.6 404.4h0M432.9 390.4h0M438.3 390.4h0M435.2 398.6h0M441.1 397.4h0M445.3 403.2h0M447.6 389.2h0M451.6 396.2h0M455.1 400.9h0M460.9 396.9h0M462.1 400.9h0M462.1 381h0M473.3 374.5h0M432.9 415.6h0M427.5 422.6h0M439.9 423.6h0M445.7 413.3h0M449.3 421.9h0M455.1 420.7h0M457.4 427.8h0M459.8 416.1h0M465.6 414.9h0M472.6 410.9h0M440.6 439h0M482.7 388.5h0M494.8 389.9h0M492.5 399.7h0M498.3 395h0M507.7 403.2h0M511.2 406.7h0M514.7 413.7h0M513 422.6h0M524.7 421.9h0M519.3 394.6h0M528 389.2h0M533.4 390.4h0M543.9 396.2h0M501.8 378.7h0M508.8 383.4h0M522.9 382.2h0M494.8 374h0M529.9 365.8h0M576.7 282.8h0M586.4 302.4h0M584.3 310.3h0M569.1 307.6h0M575 320.7h0M569.1 362.8h0M564.7 382.8h0M571.6 397.9h0M556 401.4h0M559.5 371.4h0M552.6 371.4h0M547.4 388.6h0M545.7 396.6h0M561.2 326.6h0M562.9 335.9h0M558.8 342.1h0M552.6 350.7h0M557.8 312.8h0M554.3 295.5h0M333.9 357.9h0M328 345.9h0M319.6 348.9h0M315.4 354.8h0M311.2 356.9h0M313.3 363.6h0M300.6 355.2h0M298.9 360h0M300.2 365.7h0M306.5 343h0M288 367h0M282 367.4h0M283.7 363.2h0M281.2 360h0M276.4 375.4h0M281.6 379h0M291.8 378h0M289.6 384.7h0M328.4 372h0M329.7 375.4h0M333.9 380.5h0M321.7 382.2h0M312.2 382.6h0M305.3 388.9h0M312.2 390.2h0M306.5 395.3h0M317.9 393.1h0M324.9 402.8h0M308.6 407.5h0M302.7 412.1h0M333.9 420.1h0M327.6 426.9h0M315.8 434.9h0M321.7 440.2h0M359.7 255h0M353.6 258.6h0M349.7 270.2h0M359 278.4h0M352 297.1h0M341.5 284.3h0M334.5 315.8h0M329.8 329.8h0M322.8 322.8h0M320.5 314.6h0M313.5 313.5h0M353.1 258.7h0M359.3 255.7h0M349.4 270.9h0M358.6 278.3h0M351.7 297.1h0M343.2 284h0M380 291h0M335.2 318.5h0M329.4 328.9h0M326 323.1h0M328.3 340.3h0M322.5 338h0M353.8 125.9h0M359 129.3h0M364.1 130.2h0M355.5 139.7h0M359 144.8h0M362.4 148.3h0M365.9 141.4h0M369.3 144.8h0M374.5 150h0M369.3 156.9h0M372.8 160.3h0M377.9 162.1h0M380.5 165.5h0M346.9 156.9h0M350.3 155.2h0M358.1 150h0M362.4 153.4h0M355.5 134.5h0M351.2 130.2h0M343.4 125h0M338.3 122.4h0M341.7 129.3h0M337.4 131.9h0M334.8 124.1h0M327.1 119h0M327.9 124.1h0M331.4 120.7h0M374.5 143.1h0M379.7 139.7h0M378.8 128.4h0M375.3 106.9h0M382.2 112.1h0M351.2 106.9h0M356.4 115.5h0M343.4 113.8h0M333.1 111.2h0M337.4 103.4h0M396.9 164.7h0" stroke="#f05c5c" stroke-width="7.4" stroke-linecap="round" fill="none"/>
<g fill="none" stroke="#f05c5c" stroke-width="1.5"><circle cx="561.5" cy="195.3" r="3.05"/><circle cx="596.8" cy="201.9" r="3.05"/><circle cx="521.2" cy="196.5" r="3.05"/><circle cx="573" cy="202.1" r="3.05"/><circle cx="564.2" cy="208" r="3.05"/><circle cx="481" cy="196" r="3.05"/><circle cx="475.1" cy="202.6" r="3.05"/><circle cx="576.9" cy="205.9" r="3.05"/><circle cx="566.6" cy="199.3" r="3.05"/><circle cx="581" cy="207.7" r="3.05"/><circle cx="539.2" cy="205.1" r="3.05"/><circle cx="490" cy="205.1" r="3.05"/><circle cx="502.8" cy="201.2" r="3.05"/><circle cx="539.4" cy="203.5" r="3.05"/><circle cx="590.9" cy="202.8" r="3.05"/><circle cx="563.7" cy="205.8" r="3.05"/><circle cx="498.8" cy="207.5" r="3.05"/><circle cx="571.8" cy="198.2" r="3.05"/><circle cx="497.9" cy="198.7" r="3.05"/><circle cx="575.1" cy="202.7" r="3.05"/><circle cx="589.1" cy="197.9" r="3.05"/><circle cx="556.2" cy="206.5" r="3.05"/><circle cx="584.9" cy="206.7" r="3.05"/><circle cx="564.2" cy="211.2" r="3.05"/><circle cx="550.8" cy="210" r="3.05"/><circle cx="573.8" cy="203.8" r="3.05"/><circle cx="472.8" cy="209.5" r="3.05"/><circle cx="597.9" cy="193.5" r="3.05"/><circle cx="538.7" cy="201.4" r="3.05"/><circle cx="530.6" cy="209.9" r="3.05"/><circle cx="519.4" cy="207.9" r="3.05"/><circle cx="558.9" cy="195.6" r="3.05"/><circle cx="520.2" cy="209.1" r="3.05"/><circle cx="575.1" cy="212.2" r="3.05"/><circle cx="543.3" cy="212.8" r="3.05"/><circle cx="559.7" cy="199.8" r="3.05"/><circle cx="591.1" cy="213" r="3.05"/><circle cx="493.9" cy="199.1" r="3.05"/><circle cx="526.4" cy="210.8" r="3.05"/><circle cx="511.5" cy="210" r="3.05"/><circle cx="499.6" cy="204" r="3.05"/><circle cx="571.7" cy="208.1" r="3.05"/><circle cx="473.2" cy="213.9" r="3.05"/><circle cx="477.3" cy="197.4" r="3.05"/><circle cx="457.8" cy="207.5" r="3.05"/><circle cx="570.3" cy="191.9" r="3.05"/><circle cx="591.4" cy="200.1" r="3.05"/><circle cx="475.5" cy="198.3" r="3.05"/><circle cx="594.7" cy="196.8" r="3.05"/><circle cx="550.2" cy="210.5" r="3.05"/><circle cx="501.2" cy="208.5" r="3.05"/><circle cx="490.7" cy="211.5" r="3.05"/><circle cx="529.8" cy="208.1" r="3.05"/><circle cx="527.3" cy="201.6" r="3.05"/><circle cx="557.4" cy="190.9" r="3.05"/><circle cx="467.7" cy="201.7" r="3.05"/><circle cx="491.7" cy="196" r="3.05"/><circle cx="531.1" cy="207.6" r="3.05"/><circle cx="539.9" cy="211" r="3.05"/><circle cx="481.9" cy="201.3" r="3.05"/><circle cx="528.3" cy="196.9" r="3.05"/><circle cx="547.7" cy="206.4" r="3.05"/><circle cx="470.2" cy="200.3" r="3.05"/><circle cx="573.5" cy="197.9" r="3.05"/><circle cx="457.2" cy="203.2" r="3.05"/><circle cx="520.6" cy="195.5" r="3.05"/><circle cx="578.4" cy="195.9" r="3.05"/><circle cx="485.8" cy="210.1" r="3.05"/><circle cx="513.1" cy="194.1" r="3.05"/><circle cx="554.7" cy="207.9" r="3.05"/><circle cx="487.2" cy="212.9" r="3.05"/><circle cx="497.8" cy="196.4" r="3.05"/><circle cx="479.2" cy="205" r="3.05"/><circle cx="587.3" cy="196.2" r="3.05"/><circle cx="555.9" cy="194.2" r="3.05"/><circle cx="487.6" cy="206.8" r="3.05"/><circle cx="583.8" cy="205.5" r="3.05"/><circle cx="482.8" cy="200.2" r="3.05"/><circle cx="558.3" cy="194.4" r="3.05"/><circle cx="541" cy="195" r="3.05"/><circle cx="582.1" cy="208.2" r="3.05"/><circle cx="563.8" cy="193.2" r="3.05"/><circle cx="562.8" cy="209.4" r="3.05"/><circle cx="548.8" cy="197.8" r="3.05"/><circle cx="460.9" cy="206.4" r="3.05"/><circle cx="540.6" cy="209.1" r="3.05"/><circle cx="522.8" cy="205.5" r="3.05"/><circle cx="588.2" cy="198.2" r="3.05"/><circle cx="459.7" cy="210.6" r="3.05"/><circle cx="548.1" cy="213.3" r="3.05"/><circle cx="490.3" cy="202" r="3.05"/><circle cx="543.8" cy="205.6" r="3.05"/><circle cx="511.3" cy="210" r="3.05"/><circle cx="502.9" cy="200.7" r="3.05"/><circle cx="531.6" cy="191.7" r="3.05"/><circle cx="499" cy="199.2" r="3.05"/><circle cx="463.3" cy="194.7" r="3.05"/><circle cx="582.4" cy="193.4" r="3.05"/><circle cx="483.3" cy="198.8" r="3.05"/><circle cx="585.7" cy="194.9" r="3.05"/><circle cx="507.1" cy="212.9" r="3.05"/><circle cx="574.3" cy="204.2" r="3.05"/><circle cx="507.8" cy="193.4" r="3.05"/><circle cx="456.7" cy="211" r="3.05"/><circle cx="504.7" cy="196.2" r="3.05"/><circle cx="540.1" cy="213.3" r="3.05"/><circle cx="556" cy="206.3" r="3.05"/><circle cx="579" cy="212.7" r="3.05"/><circle cx="534.6" cy="194.3" r="3.05"/><circle cx="586.4" cy="193.9" r="3.05"/><circle cx="579.3" cy="208.8" r="3.05"/><circle cx="533" cy="203.1" r="3.05"/><circle cx="505.9" cy="201.9" r="3.05"/><circle cx="583.1" cy="190.1" r="3.05"/><circle cx="556.1" cy="210.9" r="3.05"/><circle cx="455.8" cy="210.3" r="3.05"/><circle cx="560.2" cy="193.4" r="3.05"/><circle cx="467.1" cy="201.7" r="3.05"/><circle cx="520.5" cy="196" r="3.05"/><circle cx="537.7" cy="199.6" r="3.05"/><circle cx="476.1" cy="204.9" r="3.05"/><circle cx="585.4" cy="198.3" r="3.05"/><circle cx="496.1" cy="202.4" r="3.05"/><circle cx="489.6" cy="208.9" r="3.05"/><circle cx="570.8" cy="199.8" r="3.05"/><circle cx="465.3" cy="190.3" r="3.05"/><circle cx="520.8" cy="192.4" r="3.05"/><circle cx="565.3" cy="196.2" r="3.05"/><circle cx="562.3" cy="196.5" r="3.05"/><circle cx="545.8" cy="191.1" r="3.05"/><circle cx="507.6" cy="197.7" r="3.05"/><circle cx="517.4" cy="203" r="3.05"/><circle cx="573.3" cy="198.4" r="3.05"/><circle cx="576.5" cy="200.9" r="3.05"/><circle cx="547.7" cy="204.6" r="3.05"/><circle cx="562.4" cy="209.2" r="3.05"/><circle cx="533.4" cy="201.6" r="3.05"/><circle cx="527.5" cy="201.2" r="3.05"/><circle cx="519.6" cy="192.8" r="3.05"/><circle cx="561.2" cy="211.6" r="3.05"/><circle cx="575.5" cy="198.8" r="3.05"/><circle cx="591.8" cy="211.6" r="3.05"/><circle cx="583.9" cy="196.4" r="3.05"/><circle cx="518.7" cy="200.4" r="3.05"/><circle cx="468.7" cy="207" r="3.05"/><circle cx="564.9" cy="204.7" r="3.05"/><circle cx="482.8" cy="196.8" r="3.05"/><circle cx="521.9" cy="207.1" r="3.05"/><circle cx="455" cy="210.5" r="3.05"/><circle cx="594.1" cy="198.4" r="3.05"/><circle cx="439.4" cy="220.7" r="3.05"/><circle cx="448.1" cy="209.6" r="3.05"/><circle cx="465.7" cy="197" r="3.05"/><circle cx="450.7" cy="193.9" r="3.05"/><circle cx="453.6" cy="183.8" r="3.05"/><circle cx="449.1" cy="191.3" r="3.05"/><circle cx="430.9" cy="213.9" r="3.05"/><circle cx="463.6" cy="186.2" r="3.05"/><circle cx="445.3" cy="205.5" r="3.05"/><circle cx="433.5" cy="216.8" r="3.05"/><circle cx="466.2" cy="186.1" r="3.05"/><circle cx="444.6" cy="198.1" r="3.05"/><circle cx="435.5" cy="223.9" r="3.05"/><circle cx="444.5" cy="198.7" r="3.05"/><circle cx="451.5" cy="217" r="3.05"/></g>
<g fill="none" stroke="#1ab0b2" stroke-width="1.5"><circle cx="205.2" cy="186.5" r="3.05"/><circle cx="233.8" cy="244.4" r="3.05"/><circle cx="184.2" cy="245.4" r="3.05"/><circle cx="226.9" cy="251.4" r="3.05"/><circle cx="270.6" cy="300.1" r="3.05"/><circle cx="264.6" cy="338.3" r="3.05"/><circle cx="242.1" cy="225.4" r="3.05"/><circle cx="269.2" cy="326.5" r="3.05"/><circle cx="194.3" cy="213.7" r="3.05"/><circle cx="207.3" cy="252.3" r="3.05"/><circle cx="229.7" cy="245.4" r="3.05"/><circle cx="150" cy="175.9" r="3.05"/><circle cx="206.1" cy="208" r="3.05"/><circle cx="244.4" cy="250.5" r="3.05"/><circle cx="241.2" cy="243.8" r="3.05"/><circle cx="236" cy="211.9" r="3.05"/><circle cx="232.9" cy="216.6" r="3.05"/><circle cx="220.1" cy="197.5" r="3.05"/><circle cx="215.1" cy="244.4" r="3.05"/><circle cx="203.6" cy="247.8" r="3.05"/><circle cx="255.9" cy="281.9" r="3.05"/><circle cx="231.5" cy="250.2" r="3.05"/><circle cx="190.5" cy="231.7" r="3.05"/><circle cx="204.7" cy="238.8" r="3.05"/><circle cx="270.5" cy="325.9" r="3.05"/><circle cx="158.9" cy="177.3" r="3.05"/><circle cx="284.3" cy="326.6" r="3.05"/><circle cx="212.3" cy="264.2" r="3.05"/><circle cx="209.2" cy="223.4" r="3.05"/><circle cx="212.8" cy="232.1" r="3.05"/><circle cx="280.7" cy="319" r="3.05"/><circle cx="175.8" cy="225.3" r="3.05"/><circle cx="209.9" cy="271.1" r="3.05"/><circle cx="224.8" cy="242.6" r="3.05"/><circle cx="197.2" cy="216.3" r="3.05"/><circle cx="170.3" cy="211" r="3.05"/><circle cx="182.4" cy="208.2" r="3.05"/><circle cx="179.8" cy="194.9" r="3.05"/><circle cx="268" cy="290.1" r="3.05"/><circle cx="173.1" cy="199.6" r="3.05"/><circle cx="244.3" cy="262.9" r="3.05"/><circle cx="207.8" cy="222" r="3.05"/><circle cx="278.7" cy="279" r="3.05"/><circle cx="162.7" cy="215.6" r="3.05"/><circle cx="227.7" cy="253.5" r="3.05"/><circle cx="245.6" cy="304.5" r="3.05"/><circle cx="251" cy="304.3" r="3.05"/><circle cx="199.7" cy="194.6" r="3.05"/><circle cx="203.8" cy="256.4" r="3.05"/><circle cx="286.9" cy="294.9" r="3.05"/><circle cx="160.5" cy="200.5" r="3.05"/><circle cx="230.9" cy="230.9" r="3.05"/><circle cx="284.5" cy="317.6" r="3.05"/><circle cx="232.1" cy="293.5" r="3.05"/><circle cx="192.5" cy="254.6" r="3.05"/><circle cx="202.2" cy="258.8" r="3.05"/><circle cx="239.3" cy="236.8" r="3.05"/><circle cx="162.5" cy="195.4" r="3.05"/><circle cx="229.8" cy="269" r="3.05"/><circle cx="271.6" cy="304.1" r="3.05"/><circle cx="236.4" cy="278.8" r="3.05"/><circle cx="227.2" cy="222.3" r="3.05"/><circle cx="152.9" cy="186.7" r="3.05"/><circle cx="239" cy="243.4" r="3.05"/><circle cx="202.1" cy="175.6" r="3.05"/><circle cx="294.4" cy="297.2" r="3.05"/><circle cx="238.3" cy="232.7" r="3.05"/><circle cx="241.9" cy="221" r="3.05"/><circle cx="177.2" cy="230.9" r="3.05"/><circle cx="256.4" cy="270.9" r="3.05"/><circle cx="208.4" cy="194.9" r="3.05"/><circle cx="261.6" cy="300.6" r="3.05"/><circle cx="236.4" cy="275.3" r="3.05"/><circle cx="166.8" cy="181.3" r="3.05"/><circle cx="231.6" cy="286.7" r="3.05"/><circle cx="206.2" cy="215.5" r="3.05"/><circle cx="253.6" cy="258.2" r="3.05"/><circle cx="213" cy="260.6" r="3.05"/><circle cx="202" cy="174.3" r="3.05"/><circle cx="292" cy="312.4" r="3.05"/><circle cx="289.3" cy="311.4" r="3.05"/><circle cx="233.7" cy="263.5" r="3.05"/><circle cx="203" cy="186.5" r="3.05"/><circle cx="165.8" cy="217" r="3.05"/><circle cx="283.5" cy="320.2" r="3.05"/><circle cx="277.7" cy="277.1" r="3.05"/><circle cx="204.8" cy="253.7" r="3.05"/><circle cx="200.4" cy="261.5" r="3.05"/><circle cx="199.9" cy="227.5" r="3.05"/><circle cx="264.3" cy="281.4" r="3.05"/><circle cx="204.4" cy="199.8" r="3.05"/><circle cx="164.9" cy="168" r="3.05"/><circle cx="251" cy="298.5" r="3.05"/><circle cx="237.4" cy="248" r="3.05"/><circle cx="197.3" cy="215.9" r="3.05"/><circle cx="210.4" cy="188.8" r="3.05"/><circle cx="170.1" cy="176.1" r="3.05"/><circle cx="240.5" cy="273.2" r="3.05"/><circle cx="207.7" cy="265.7" r="3.05"/><circle cx="249.8" cy="258.5" r="3.05"/><circle cx="187.9" cy="193" r="3.05"/><circle cx="217.9" cy="237.1" r="3.05"/><circle cx="247.1" cy="276.3" r="3.05"/><circle cx="238.5" cy="250.3" r="3.05"/><circle cx="258.5" cy="317.2" r="3.05"/><circle cx="240.5" cy="269.3" r="3.05"/><circle cx="219.1" cy="224" r="3.05"/><circle cx="217.7" cy="265.6" r="3.05"/><circle cx="173.9" cy="164.8" r="3.05"/><circle cx="274" cy="265.1" r="3.05"/><circle cx="276.6" cy="271.9" r="3.05"/><circle cx="254.1" cy="254.5" r="3.05"/><circle cx="181.4" cy="166.7" r="3.05"/><circle cx="266.7" cy="256.8" r="3.05"/><circle cx="279.3" cy="290.7" r="3.05"/><circle cx="164.5" cy="182.1" r="3.05"/><circle cx="204.3" cy="212.7" r="3.05"/><circle cx="282.9" cy="296.5" r="3.05"/><circle cx="196.7" cy="221.2" r="3.05"/><circle cx="173.9" cy="182.5" r="3.05"/><circle cx="285.6" cy="283.4" r="3.05"/><circle cx="211.5" cy="265.4" r="3.05"/><circle cx="212.2" cy="197.6" r="3.05"/><circle cx="210.7" cy="266.8" r="3.05"/><circle cx="202.4" cy="197" r="3.05"/><circle cx="257.5" cy="313.5" r="3.05"/><circle cx="228.6" cy="288.4" r="3.05"/><circle cx="201.9" cy="221.3" r="3.05"/><circle cx="275" cy="281.5" r="3.05"/><circle cx="276" cy="306.9" r="3.05"/><circle cx="177" cy="160.6" r="3.05"/><circle cx="208.1" cy="187.4" r="3.05"/><circle cx="273" cy="279.8" r="3.05"/><circle cx="227.9" cy="249" r="3.05"/><circle cx="261.7" cy="288.4" r="3.05"/><circle cx="250.3" cy="248.4" r="3.05"/><circle cx="217.1" cy="215.5" r="3.05"/><circle cx="215.1" cy="207.1" r="3.05"/><circle cx="203.6" cy="220.1" r="3.05"/><circle cx="231.9" cy="232.7" r="3.05"/><circle cx="238.1" cy="259" r="3.05"/><circle cx="192.1" cy="213.2" r="3.05"/><circle cx="272.1" cy="294.5" r="3.05"/><circle cx="192" cy="196.5" r="3.05"/><circle cx="259.7" cy="256" r="3.05"/><circle cx="256.5" cy="241.4" r="3.05"/><circle cx="260.3" cy="322.2" r="3.05"/><circle cx="231" cy="225.7" r="3.05"/><circle cx="260.3" cy="290.4" r="3.05"/><circle cx="294.7" cy="297.4" r="3.05"/><circle cx="201.1" cy="205.8" r="3.05"/><circle cx="293.3" cy="229.1" r="3.05"/><circle cx="337.5" cy="242.2" r="3.05"/><circle cx="320.9" cy="248.3" r="3.05"/><circle cx="251.2" cy="180.6" r="3.05"/><circle cx="334.9" cy="160.6" r="3.05"/><circle cx="314.4" cy="187.5" r="3.05"/><circle cx="212.5" cy="149.3" r="3.05"/><circle cx="343.7" cy="229.7" r="3.05"/><circle cx="301.1" cy="234.2" r="3.05"/><circle cx="302.3" cy="217.4" r="3.05"/><circle cx="261.6" cy="198.5" r="3.05"/><circle cx="305.5" cy="164" r="3.05"/><circle cx="253.4" cy="177.2" r="3.05"/><circle cx="346.9" cy="155.4" r="3.05"/><circle cx="268.2" cy="94.7" r="3.05"/><circle cx="533.2" cy="201" r="3.05"/><circle cx="532.2" cy="200.1" r="3.05"/><circle cx="466.8" cy="210.9" r="3.05"/><circle cx="264.8" cy="342.5" r="3.05"/><circle cx="110.4" cy="161.6" r="3.05"/><circle cx="112.6" cy="171.8" r="3.05"/><circle cx="111.2" cy="183.8" r="3.05"/><circle cx="135.3" cy="163.4" r="3.05"/><circle cx="136.7" cy="178" r="3.05"/><circle cx="139.6" cy="185.3" r="3.05"/><circle cx="144" cy="189.6" r="3.05"/><circle cx="140.4" cy="197.7" r="3.05"/><circle cx="151.3" cy="169.2" r="3.05"/><circle cx="324.1" cy="252.5" r="3.05"/><circle cx="326" cy="264.9" r="3.05"/><circle cx="298.4" cy="267.2" r="3.05"/><circle cx="284.1" cy="284" r="3.05"/><circle cx="326.2" cy="139.3" r="3.05"/></g>
<path d="M578.7 270h0M567.5 275.3h0M551.2 285.1h0M553 293.3h0M539 298h0M540.7 264.6h0M551.2 264.1h0M554.9 261.8h0M539 250.1h0M544.2 251.3h0M549.1 245.4h0M557.7 243.6h0M563.6 245h0M568.9 249.6h0M570.6 252.9h0M548.4 226.3h0M554.2 227.4h0M563.6 226.7h0M549.5 233.7h0M565.2 235.6h0M504.6 222.6h0M499 237.1h0M493.6 245.2h0M499 244.1h0M512.3 240.6h0M516.3 241.7h0M489.7 261.6h0M485.5 269.8h0M508.4 273.3h0M477.8 276.8h0M493 283.3h0M488.5 290.3h0M445.3 296.2h0M491.3 306.7h0M494.3 311.8h0M514.7 302.5h0M522.4 298.3h0M520 311.4h0M539.2 250.6h0M542.7 251.1h0M541.1 264.6h0M539.2 298.3h0M464.9 328.5h0M469.1 342.1h0M475 346.7h0M459.3 349.5h0M465.6 356.1h0M481.3 359.6h0M485.5 355.6h0M484.3 361.2h0M486.6 348.6h0M478.5 370.1h0M491.3 305.8h0M493.6 312.9h0M501.4 325.7h0M500.7 344.4h0M496 365.4h0M506.5 361.2h0M508.4 366.6h0M505.3 368.2h0M515.8 341.6h0M517 375.9h0M522.9 326.9h0M519.3 312.9h0M514.7 302.8h0M531.7 316.4h0M534.1 329.2h0M528 360.3h0M536.9 375.9h0M511.2 394.6h0M502.3 400.5h0M518.6 402.8h0M525.7 398.1h0M523.3 409.8h0M512.3 414h0M532.7 414.5h0M538 400h0M538.7 409.3h0M543.4 365.4h0M543.9 340.2h0M478.5 370.5h0M484.3 361.9h0M496 364.7h0M506.5 368.2h0M517 375.9h0M527.5 361.2h0M536.9 375.9h0M542.7 365.8h0M511.2 395h0M502.3 400.9h0M518.2 403.2h0M523.3 409.5h0M525.7 397.4h0M538 399.7h0M538.7 409.1h0M512.3 413.7h0M532.2 415.6h0M536.9 416.5h0M529.9 430.1h0M525.2 435.9h0M533.4 439.4h0M515.8 439.4h0M508.8 444.6h0M550.9 285.2h0M553.3 293.1h0M538.8 297.9h0M531.2 316.2h0M534.7 329h0M546.4 339.3h0M562.2 348.3h0M549.1 358.6h0M527.8 360h0M542.9 365.5h0M537.1 375.9h0M526.7 399h0M538.1 400h0M555.3 408.3h0M538.8 410.3h0M531.9 415.2h0M537.1 417.2h0M526.7 420.7h0M530.2 431.7h0M526.7 437.9h0M533.6 439.3h0M554.3 436.9h0M282.7 373.3h0M324.9 373.3h0M291.1 348.9h0M296.8 346.3h0M279.5 353.7h0M273.2 355.8h0M281.6 351.6h0M335 269.8h0M332.6 277.9h0M338.7 285.9h0M325.1 297.1h0M324 300.6h0M309.5 303.4h0M313.9 326.8h0M295.9 331.7h0M309.3 303.6h0M324.7 297.5h0M326 300.1h0M337.3 286.1h0M313.7 326.4h0M296.2 331.7h0M291.8 348.3h0M296.2 346.5h0M274.3 354.4h0M279.5 351.8h0M281.3 356.2h0" stroke="#1ab0b2" stroke-width="7.4" stroke-linecap="round" fill="none"/>

<!-- axes -->
<path d="M70.7 4 V465.3 H680.8" fill="none" stroke="#000" stroke-width="2.1" stroke-linejoin="round" stroke-linecap="round"/>
<g stroke="#000" stroke-width="2">
<line x1="65.3" y1="101.2" x2="70.7" y2="101.2"/>
<line x1="65.3" y1="205.9" x2="70.7" y2="205.9"/>
<line x1="65.3" y1="310.6" x2="70.7" y2="310.6"/>
<line x1="65.3" y1="415.2" x2="70.7" y2="415.2"/>
<line x1="206.7" y1="465.3" x2="206.7" y2="470.6"/>
<line x1="387" y1="465.3" x2="387" y2="470.6"/>
<line x1="567.4" y1="465.3" x2="567.4" y2="470.6"/>
</g>
<g font-size="14" text-anchor="end">
<text x="57.8" y="107.2">2</text>
<text x="57.8" y="210.6">0</text>
<text x="57.8" y="315.5">-2</text>
<text x="57.8" y="419.8">-4</text>
</g>
<g font-size="14" text-anchor="middle">
<text x="206.4" y="485">0.1</text>
<text x="387.3" y="485">10</text>
<text x="570.2" y="485">1000</text>
</g>
<text x="389.6" y="518.2" font-size="17.3" text-anchor="middle">Base Mean Score</text>
<text transform="translate(17 234.5) rotate(-90)" font-size="18" letter-spacing="0.2" text-anchor="middle">Log<tspan font-size="11.5" dy="4">2</tspan><tspan dy="-4">-fold Change</tspan></text>
</svg>
</body></html>
